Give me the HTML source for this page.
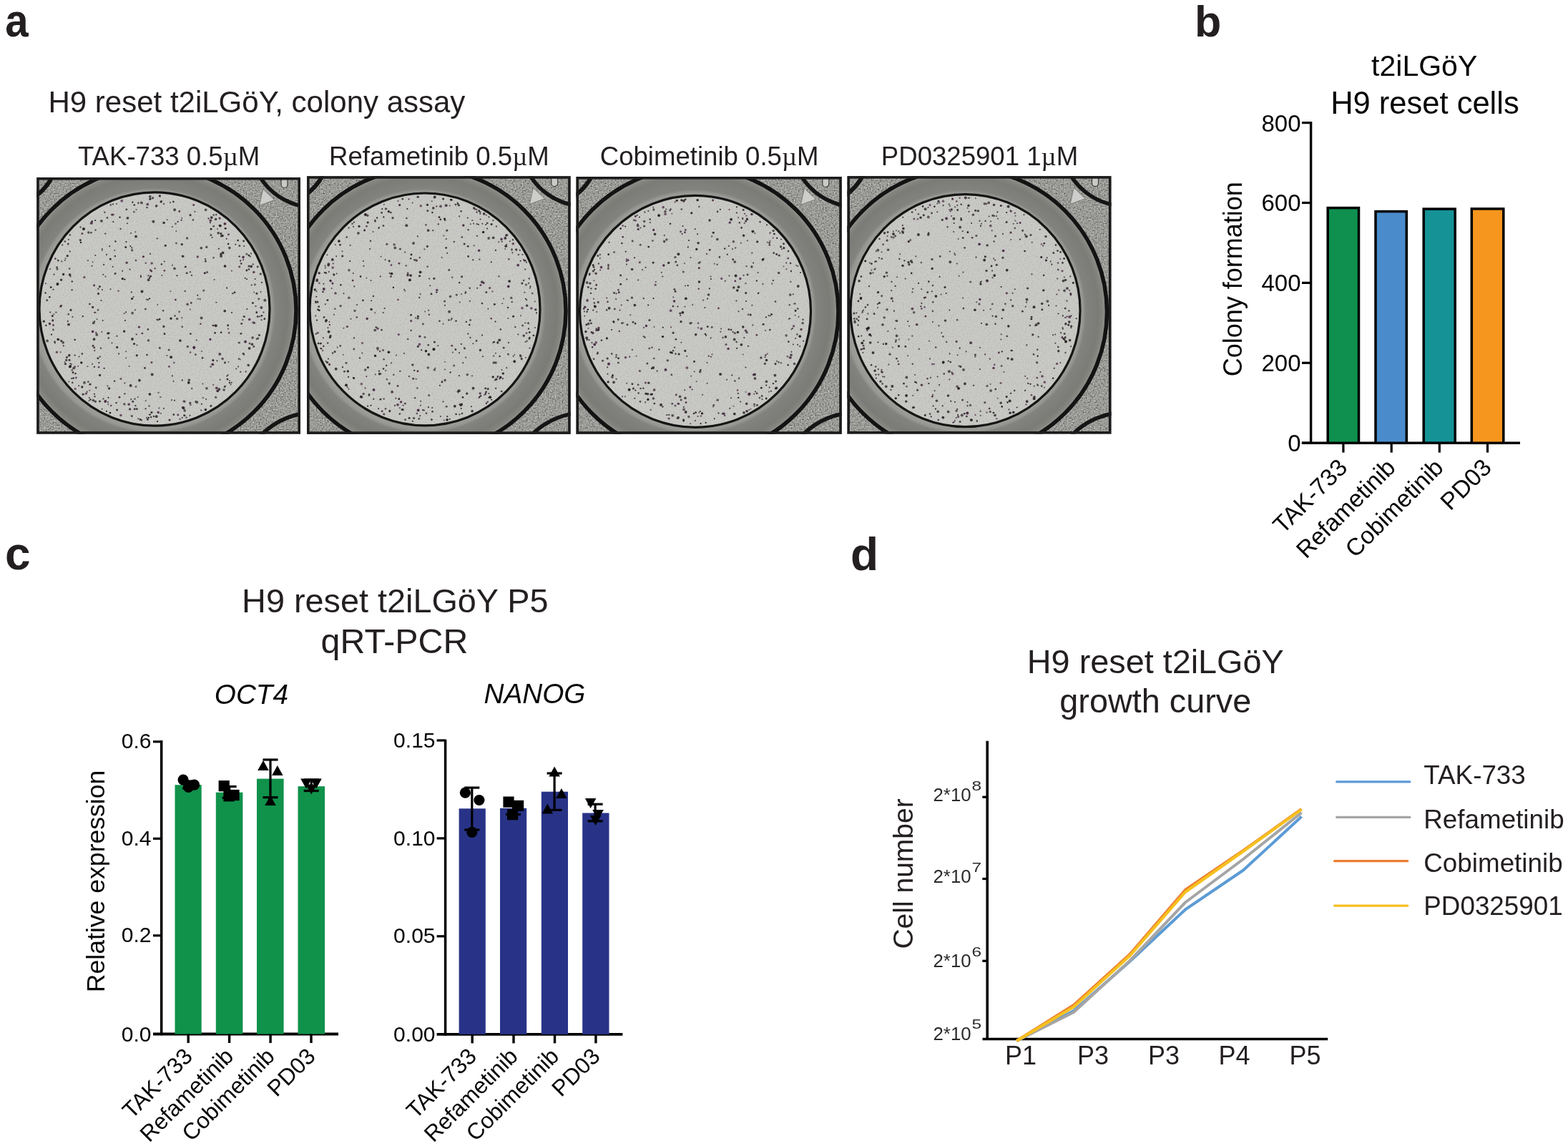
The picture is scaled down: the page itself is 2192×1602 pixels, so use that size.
<!DOCTYPE html>
<html><head><meta charset="utf-8"><title>Figure</title>
<style>
html,body{margin:0;padding:0;background:#fff;width:2192px;height:1602px;overflow:hidden}
svg{display:block}
text{font-family:"Liberation Sans", Arial, sans-serif}
</style></head><body>
<svg width="2192" height="1602" viewBox="0 0 2192 1602">
<defs>
<filter id="grainD" x="0" y="0" width="100%" height="100%" color-interpolation-filters="sRGB">
<feTurbulence type="fractalNoise" baseFrequency="0.5" numOctaves="2" seed="3"/>
<feColorMatrix type="matrix" values="0 0 0 0 0.25  0 0 0 0 0.25  0 0 0 0 0.24  2.1 0 0 0 -0.98"/>
</filter>
<filter id="grainL" x="0" y="0" width="100%" height="100%" color-interpolation-filters="sRGB">
<feTurbulence type="fractalNoise" baseFrequency="0.5" numOctaves="2" seed="11"/>
<feColorMatrix type="matrix" values="0 0 0 0 0.85  0 0 0 0 0.85  0 0 0 0 0.84  -2.1 0 0 0 1.12"/>
</filter>
<filter id="soft" x="-5%" y="-5%" width="110%" height="110%"><feGaussianBlur stdDeviation="0.45"/></filter>
<radialGradient id="ringg0" gradientUnits="userSpaceOnUse" cx="214.0" cy="434.0" r="200.0">
<stop offset="0.8105" stop-color="#9c9d98"/>
<stop offset="0.8355" stop-color="#979893"/>
<stop offset="0.8555" stop-color="#82837e"/>
<stop offset="0.9400" stop-color="#7b7c77"/>
<stop offset="0.9700" stop-color="#84857f"/>
<stop offset="0.9825" stop-color="#8d8e89"/>
<stop offset="1" stop-color="#8d8e89"/>
</radialGradient>
<clipPath id="clipw0"><rect x="51.2" y="248.0" width="368.8" height="358.7"/></clipPath>
<clipPath id="clipd0"><ellipse cx="216.0" cy="432.0" rx="161.0" ry="163.2"/></clipPath>
<radialGradient id="ringg1" gradientUnits="userSpaceOnUse" cx="592.0" cy="434.4" r="199.0">
<stop offset="0.8126" stop-color="#9c9d98"/>
<stop offset="0.8377" stop-color="#979893"/>
<stop offset="0.8578" stop-color="#82837e"/>
<stop offset="0.9397" stop-color="#7b7c77"/>
<stop offset="0.9698" stop-color="#84857f"/>
<stop offset="0.9824" stop-color="#8d8e89"/>
<stop offset="1" stop-color="#8d8e89"/>
</radialGradient>
<clipPath id="clipw1"><rect x="429.0" y="246.2" width="368.7" height="360.7"/></clipPath>
<clipPath id="clipd1"><ellipse cx="594.0" cy="432.4" rx="161.0" ry="162.4"/></clipPath>
<radialGradient id="ringg2" gradientUnits="userSpaceOnUse" cx="970.5" cy="435.8" r="201.5">
<stop offset="0.8027" stop-color="#9c9d98"/>
<stop offset="0.8275" stop-color="#979893"/>
<stop offset="0.8474" stop-color="#82837e"/>
<stop offset="0.9404" stop-color="#7b7c77"/>
<stop offset="0.9702" stop-color="#84857f"/>
<stop offset="0.9826" stop-color="#8d8e89"/>
<stop offset="1" stop-color="#8d8e89"/>
</radialGradient>
<clipPath id="clipw2"><rect x="805.4" y="247.0" width="371.4" height="359.8"/></clipPath>
<clipPath id="clipd2"><ellipse cx="972.0" cy="435.3" rx="161.5" ry="162.0"/></clipPath>
<radialGradient id="ringg3" gradientUnits="userSpaceOnUse" cx="1347.5" cy="436.0" r="200.0">
<stop offset="0.8075" stop-color="#9c9d98"/>
<stop offset="0.8325" stop-color="#979893"/>
<stop offset="0.8525" stop-color="#82837e"/>
<stop offset="0.9400" stop-color="#7b7c77"/>
<stop offset="0.9700" stop-color="#84857f"/>
<stop offset="0.9825" stop-color="#8d8e89"/>
<stop offset="1" stop-color="#8d8e89"/>
</radialGradient>
<clipPath id="clipw3"><rect x="1184.4" y="246.1" width="369.1" height="360.5"/></clipPath>
<clipPath id="clipd3"><ellipse cx="1349.5" cy="434.2" rx="160.5" ry="162.5"/></clipPath>
</defs>
<rect width="2192" height="1602" fill="#fff"/>
<g clip-path="url(#clipw0)">
<rect x="51.2" y="248.0" width="368.8" height="358.7" fill="#9a9b96"/>
<rect x="51.2" y="248.0" width="368.8" height="358.7" filter="url(#grainD)"/>
<rect x="51.2" y="248.0" width="368.8" height="358.7" filter="url(#grainL)"/>
<circle cx="440.0" cy="200.0" r="90" fill="none" stroke="#151515" stroke-width="5.5"/>
<circle cx="440.0" cy="681.7" r="105" fill="none" stroke="#151515" stroke-width="5.5"/>
<circle cx="6.2" cy="213.0" r="75" fill="none" stroke="#151515" stroke-width="6"/>
<circle cx="-10.8" cy="648.7" r="72" fill="none" stroke="#151515" stroke-width="6"/>
<polygon points="367.7,264.3 383.7,279.6 362.6,287.3" fill="#cdcecb" stroke="#6c6d6a" stroke-width="0.8"/>
<path d="M393.0,251.0 v7 a4.5,4.5 0 0 0 9,0 v-7" fill="#c9cac6" stroke="#3a3a3a" stroke-width="1.2"/>
<circle cx="214.0" cy="434.0" r="200.0" fill="url(#ringg0)"/>
<circle cx="214.0" cy="434.0" r="200.0" fill="none" stroke="#121312" stroke-width="5.5"/>
<ellipse cx="216.0" cy="432.0" rx="161.0" ry="163.2" fill="#c9c9c6"/>
<g clip-path="url(#clipd0)"><rect x="55.0" y="268.8" width="322.0" height="326.4" filter="url(#grainL)" opacity="0.25"/><rect x="55.0" y="268.8" width="322.0" height="326.4" filter="url(#grainD)" opacity="0.15"/></g>
<g filter="url(#soft)"><circle cx="66.1" cy="476.4" r="1.88" fill="#221e20" fill-opacity="0.70"/><circle cx="231.3" cy="343.2" r="1.54" fill="#2a2527" fill-opacity="0.94"/><circle cx="225.0" cy="282.3" r="1.42" fill="#312b2d" fill-opacity="0.97"/><circle cx="250.6" cy="435.9" r="1.36" fill="#4a2a42" fill-opacity="0.71"/><circle cx="84.5" cy="428.5" r="1.47" fill="#4a2a42" fill-opacity="0.83"/><circle cx="297.2" cy="509.3" r="1.91" fill="#4a2a42" fill-opacity="0.93"/><circle cx="99.9" cy="509.2" r="1.04" fill="#312b2d" fill-opacity="0.72"/><circle cx="188.5" cy="557.7" r="1.21" fill="#2a2527" fill-opacity="0.73"/><circle cx="69.3" cy="415.3" r="1.25" fill="#221e20" fill-opacity="0.95"/><circle cx="142.9" cy="405.0" r="1.00" fill="#262022" fill-opacity="0.89"/><circle cx="88.2" cy="478.9" r="1.78" fill="#2a2527" fill-opacity="0.76"/><circle cx="288.8" cy="345.3" r="1.62" fill="#221e20" fill-opacity="0.76"/><circle cx="240.9" cy="317.1" r="1.08" fill="#2a2527" fill-opacity="0.72"/><circle cx="324.0" cy="437.1" r="1.00" fill="#221e20" fill-opacity="0.93"/><circle cx="206.7" cy="419.0" r="1.14" fill="#221e20" fill-opacity="0.87"/><circle cx="136.9" cy="500.9" r="1.43" fill="#221e20" fill-opacity="0.88"/><circle cx="215.0" cy="581.9" r="1.25" fill="#3a2a36" fill-opacity="0.93"/><circle cx="238.4" cy="407.2" r="1.00" fill="#2a2527" fill-opacity="0.70"/><circle cx="332.6" cy="336.1" r="1.42" fill="#262022" fill-opacity="0.90"/><circle cx="131.7" cy="486.0" r="1.46" fill="#3a2a36" fill-opacity="0.86"/><circle cx="182.6" cy="539.0" r="1.91" fill="#262022" fill-opacity="0.85"/><circle cx="295.8" cy="304.1" r="1.84" fill="#2a2527" fill-opacity="0.91"/><circle cx="132.1" cy="449.2" r="1.02" fill="#221e20" fill-opacity="0.96"/><circle cx="244.5" cy="441.5" r="1.20" fill="#262022" fill-opacity="0.82"/><circle cx="315.2" cy="319.2" r="1.51" fill="#221e20" fill-opacity="0.90"/><circle cx="184.6" cy="417.5" r="1.62" fill="#2a2527" fill-opacity="0.99"/><circle cx="355.1" cy="408.5" r="1.00" fill="#4a2a42" fill-opacity="0.76"/><circle cx="262.3" cy="484.5" r="1.68" fill="#2d2729" fill-opacity="0.74"/><circle cx="354.8" cy="484.5" r="1.46" fill="#312b2d" fill-opacity="0.82"/><circle cx="139.7" cy="498.8" r="1.19" fill="#2d2729" fill-opacity="0.80"/><circle cx="288.9" cy="542.8" r="1.87" fill="#312b2d" fill-opacity="0.74"/><circle cx="354.8" cy="380.4" r="1.68" fill="#4a2a42" fill-opacity="0.89"/><circle cx="90.8" cy="363.8" r="1.05" fill="#2a2527" fill-opacity="0.83"/><circle cx="243.3" cy="507.0" r="1.27" fill="#3a2a36" fill-opacity="0.72"/><circle cx="94.3" cy="357.7" r="1.67" fill="#221e20" fill-opacity="0.85"/><circle cx="261.6" cy="333.0" r="1.63" fill="#2d2729" fill-opacity="0.77"/><circle cx="295.0" cy="320.2" r="1.36" fill="#221e20" fill-opacity="1.00"/><circle cx="276.8" cy="417.8" r="1.07" fill="#3a2a36" fill-opacity="0.88"/><circle cx="121.7" cy="547.8" r="1.21" fill="#312b2d" fill-opacity="0.70"/><circle cx="335.8" cy="502.4" r="1.02" fill="#2a2527" fill-opacity="0.70"/><circle cx="342.7" cy="388.9" r="1.14" fill="#262022" fill-opacity="0.77"/><circle cx="80.1" cy="397.9" r="1.32" fill="#2d2729" fill-opacity="0.91"/><circle cx="182.3" cy="344.1" r="1.04" fill="#221e20" fill-opacity="0.86"/><circle cx="206.6" cy="460.5" r="1.01" fill="#221e20" fill-opacity="0.93"/><circle cx="176.8" cy="292.8" r="1.35" fill="#2a2527" fill-opacity="0.84"/><circle cx="160.1" cy="532.8" r="1.28" fill="#2d2729" fill-opacity="0.87"/><circle cx="112.3" cy="335.7" r="1.45" fill="#312b2d" fill-opacity="0.98"/><circle cx="161.1" cy="382.4" r="1.60" fill="#2a2527" fill-opacity="0.75"/><circle cx="142.7" cy="571.7" r="1.02" fill="#262022" fill-opacity="0.85"/><circle cx="242.9" cy="579.6" r="1.33" fill="#262022" fill-opacity="0.93"/><circle cx="74.5" cy="454.5" r="1.36" fill="#4a2a42" fill-opacity="1.00"/><circle cx="109.0" cy="511.8" r="1.01" fill="#312b2d" fill-opacity="0.75"/><circle cx="311.4" cy="353.4" r="1.97" fill="#2a2527" fill-opacity="0.82"/><circle cx="194.9" cy="531.8" r="1.98" fill="#2a2527" fill-opacity="0.86"/><circle cx="334.7" cy="372.9" r="1.49" fill="#4a2a42" fill-opacity="0.86"/><circle cx="105.7" cy="522.0" r="1.06" fill="#2a2527" fill-opacity="0.98"/><circle cx="129.1" cy="508.8" r="1.16" fill="#3a2a36" fill-opacity="0.71"/><circle cx="125.8" cy="537.4" r="1.47" fill="#4a2a42" fill-opacity="0.80"/><circle cx="147.3" cy="561.0" r="1.99" fill="#4a2a42" fill-opacity="0.99"/><circle cx="307.9" cy="315.6" r="1.84" fill="#221e20" fill-opacity="0.92"/><circle cx="362.4" cy="468.5" r="1.60" fill="#2d2729" fill-opacity="0.83"/><circle cx="185.3" cy="282.7" r="1.21" fill="#262022" fill-opacity="0.85"/><circle cx="287.4" cy="365.2" r="1.43" fill="#221e20" fill-opacity="0.78"/><circle cx="104.4" cy="515.2" r="1.00" fill="#262022" fill-opacity="0.71"/><circle cx="254.3" cy="304.7" r="1.00" fill="#4a2a42" fill-opacity="0.85"/><circle cx="141.9" cy="308.9" r="1.91" fill="#221e20" fill-opacity="0.73"/><circle cx="97.7" cy="384.5" r="1.59" fill="#2d2729" fill-opacity="0.70"/><circle cx="348.7" cy="446.5" r="1.86" fill="#4a2a42" fill-opacity="0.86"/><circle cx="114.8" cy="540.9" r="1.56" fill="#2d2729" fill-opacity="0.97"/><circle cx="168.9" cy="580.4" r="1.77" fill="#4a2a42" fill-opacity="0.75"/><circle cx="337.2" cy="368.4" r="1.26" fill="#2a2527" fill-opacity="0.90"/><circle cx="365.6" cy="447.3" r="1.01" fill="#2d2729" fill-opacity="0.94"/><circle cx="329.3" cy="341.8" r="1.03" fill="#312b2d" fill-opacity="0.94"/><circle cx="200.4" cy="358.8" r="1.51" fill="#4a2a42" fill-opacity="0.99"/><circle cx="239.1" cy="499.2" r="1.96" fill="#2d2729" fill-opacity="0.94"/><circle cx="223.1" cy="446.3" r="1.26" fill="#262022" fill-opacity="0.98"/><circle cx="161.4" cy="337.4" r="1.20" fill="#221e20" fill-opacity="0.93"/><circle cx="273.4" cy="561.3" r="1.13" fill="#221e20" fill-opacity="0.87"/><circle cx="167.5" cy="303.8" r="1.24" fill="#221e20" fill-opacity="0.92"/><circle cx="258.2" cy="561.4" r="1.36" fill="#312b2d" fill-opacity="0.70"/><circle cx="336.4" cy="364.1" r="1.00" fill="#3a2a36" fill-opacity="0.79"/><circle cx="88.6" cy="383.5" r="1.63" fill="#2d2729" fill-opacity="0.98"/><circle cx="306.3" cy="544.2" r="1.97" fill="#2d2729" fill-opacity="0.78"/><circle cx="344.9" cy="377.9" r="1.48" fill="#2a2527" fill-opacity="0.92"/><circle cx="257.1" cy="561.0" r="1.74" fill="#4a2a42" fill-opacity="0.72"/><circle cx="216.6" cy="375.3" r="1.16" fill="#4a2a42" fill-opacity="0.98"/><circle cx="211.7" cy="379.1" r="1.47" fill="#4a2a42" fill-opacity="0.94"/><circle cx="303.5" cy="504.4" r="1.04" fill="#2a2527" fill-opacity="0.84"/><circle cx="238.0" cy="283.3" r="1.01" fill="#2a2527" fill-opacity="0.87"/><circle cx="224.3" cy="555.2" r="1.11" fill="#4a2a42" fill-opacity="0.78"/><circle cx="113.0" cy="338.9" r="1.22" fill="#262022" fill-opacity="0.97"/><circle cx="80.9" cy="363.8" r="1.06" fill="#2a2527" fill-opacity="0.90"/><circle cx="258.7" cy="406.9" r="1.24" fill="#262022" fill-opacity="0.71"/><circle cx="328.0" cy="408.8" r="1.42" fill="#2a2527" fill-opacity="0.93"/><circle cx="261.2" cy="381.8" r="1.54" fill="#2a2527" fill-opacity="0.83"/><circle cx="242.4" cy="282.0" r="1.23" fill="#262022" fill-opacity="1.00"/><circle cx="206.3" cy="285.6" r="1.92" fill="#4a2a42" fill-opacity="0.80"/><circle cx="318.9" cy="459.6" r="1.07" fill="#4a2a42" fill-opacity="0.82"/><circle cx="314.4" cy="312.8" r="1.90" fill="#4a2a42" fill-opacity="0.97"/><circle cx="272.4" cy="295.8" r="1.13" fill="#312b2d" fill-opacity="0.75"/><circle cx="128.5" cy="371.8" r="1.00" fill="#312b2d" fill-opacity="0.90"/><circle cx="178.0" cy="312.3" r="1.00" fill="#2d2729" fill-opacity="0.85"/><circle cx="309.1" cy="358.0" r="1.96" fill="#262022" fill-opacity="0.79"/><circle cx="132.3" cy="490.1" r="1.14" fill="#221e20" fill-opacity="0.76"/><circle cx="319.5" cy="506.0" r="1.01" fill="#2a2527" fill-opacity="0.71"/><circle cx="157.9" cy="285.4" r="1.22" fill="#2a2527" fill-opacity="0.70"/><circle cx="106.4" cy="527.9" r="1.24" fill="#4a2a42" fill-opacity="0.91"/><circle cx="343.0" cy="477.7" r="1.91" fill="#4a2a42" fill-opacity="0.97"/><circle cx="147.3" cy="326.7" r="1.10" fill="#2a2527" fill-opacity="0.88"/><circle cx="194.4" cy="457.2" r="1.60" fill="#4a2a42" fill-opacity="0.87"/><circle cx="97.9" cy="512.4" r="1.98" fill="#2a2527" fill-opacity="0.99"/><circle cx="364.3" cy="382.9" r="1.58" fill="#312b2d" fill-opacity="0.82"/><circle cx="113.8" cy="507.0" r="1.66" fill="#262022" fill-opacity="0.98"/><circle cx="336.0" cy="365.1" r="1.04" fill="#4a2a42" fill-opacity="0.73"/><circle cx="191.3" cy="496.8" r="1.60" fill="#262022" fill-opacity="0.90"/><circle cx="225.5" cy="281.4" r="1.37" fill="#2a2527" fill-opacity="0.80"/><circle cx="281.3" cy="346.7" r="1.80" fill="#312b2d" fill-opacity="0.83"/><circle cx="334.7" cy="479.1" r="1.33" fill="#2d2729" fill-opacity="0.73"/><circle cx="124.5" cy="560.2" r="1.07" fill="#2d2729" fill-opacity="0.72"/><circle cx="193.3" cy="585.3" r="1.10" fill="#3a2a36" fill-opacity="0.82"/><circle cx="129.6" cy="429.4" r="1.60" fill="#3a2a36" fill-opacity="0.94"/><circle cx="294.6" cy="512.6" r="1.19" fill="#221e20" fill-opacity="0.81"/><circle cx="229.1" cy="311.4" r="1.70" fill="#262022" fill-opacity="0.95"/><circle cx="358.8" cy="436.8" r="1.43" fill="#2a2527" fill-opacity="0.97"/><circle cx="357.5" cy="428.1" r="1.18" fill="#3a2a36" fill-opacity="0.82"/><circle cx="287.6" cy="293.4" r="1.83" fill="#2a2527" fill-opacity="0.75"/><circle cx="297.8" cy="455.0" r="1.23" fill="#3a2a36" fill-opacity="0.91"/><circle cx="93.2" cy="499.9" r="1.00" fill="#2a2527" fill-opacity="0.94"/><circle cx="279.7" cy="418.1" r="1.04" fill="#3a2a36" fill-opacity="0.93"/><circle cx="296.6" cy="331.9" r="1.00" fill="#2a2527" fill-opacity="0.90"/><circle cx="336.5" cy="466.5" r="1.36" fill="#221e20" fill-opacity="0.73"/><circle cx="124.8" cy="556.1" r="1.09" fill="#4a2a42" fill-opacity="0.80"/><circle cx="340.6" cy="336.9" r="1.38" fill="#221e20" fill-opacity="0.87"/><circle cx="305.2" cy="325.7" r="1.72" fill="#312b2d" fill-opacity="0.86"/><circle cx="76.9" cy="479.6" r="1.00" fill="#2d2729" fill-opacity="0.88"/><circle cx="244.0" cy="375.3" r="1.85" fill="#312b2d" fill-opacity="0.79"/><circle cx="154.8" cy="286.4" r="1.20" fill="#2a2527" fill-opacity="0.82"/><circle cx="307.2" cy="495.0" r="1.96" fill="#3a2a36" fill-opacity="0.82"/><circle cx="297.9" cy="503.7" r="1.59" fill="#3a2a36" fill-opacity="0.98"/><circle cx="78.4" cy="436.6" r="1.22" fill="#312b2d" fill-opacity="0.70"/><circle cx="266.0" cy="300.7" r="1.59" fill="#3a2a36" fill-opacity="0.93"/><circle cx="126.4" cy="558.4" r="1.25" fill="#262022" fill-opacity="0.91"/><circle cx="269.9" cy="307.4" r="1.28" fill="#3a2a36" fill-opacity="0.79"/><circle cx="230.0" cy="466.8" r="1.46" fill="#221e20" fill-opacity="0.86"/><circle cx="190.0" cy="330.6" r="1.91" fill="#2d2729" fill-opacity="0.92"/><circle cx="298.2" cy="538.0" r="1.15" fill="#4a2a42" fill-opacity="0.70"/><circle cx="334.1" cy="358.5" r="1.00" fill="#2d2729" fill-opacity="0.73"/><circle cx="181.6" cy="572.0" r="1.64" fill="#2d2729" fill-opacity="0.88"/><circle cx="246.3" cy="323.1" r="1.00" fill="#312b2d" fill-opacity="0.72"/><circle cx="180.2" cy="565.2" r="1.76" fill="#4a2a42" fill-opacity="0.87"/><circle cx="85.8" cy="476.6" r="1.66" fill="#2a2527" fill-opacity="0.84"/><circle cx="361.8" cy="417.9" r="1.47" fill="#2d2729" fill-opacity="0.74"/><circle cx="333.9" cy="501.7" r="1.10" fill="#2d2729" fill-opacity="0.89"/><circle cx="254.8" cy="583.9" r="1.03" fill="#262022" fill-opacity="0.75"/><circle cx="196.3" cy="586.2" r="1.01" fill="#4a2a42" fill-opacity="0.79"/><circle cx="122.4" cy="512.2" r="1.02" fill="#312b2d" fill-opacity="0.71"/><circle cx="266.0" cy="380.2" r="1.17" fill="#3a2a36" fill-opacity="0.73"/><circle cx="209.7" cy="274.8" r="1.91" fill="#2a2527" fill-opacity="0.75"/><circle cx="349.9" cy="358.5" r="1.01" fill="#262022" fill-opacity="0.82"/><circle cx="80.0" cy="376.4" r="1.42" fill="#3a2a36" fill-opacity="0.79"/><circle cx="185.7" cy="561.3" r="1.62" fill="#312b2d" fill-opacity="0.81"/><circle cx="281.9" cy="564.8" r="1.00" fill="#2a2527" fill-opacity="0.98"/><circle cx="244.0" cy="559.8" r="1.02" fill="#221e20" fill-opacity="0.89"/><circle cx="102.0" cy="520.7" r="1.47" fill="#2a2527" fill-opacity="0.88"/><circle cx="150.9" cy="562.1" r="1.00" fill="#312b2d" fill-opacity="0.88"/><circle cx="229.0" cy="285.1" r="1.08" fill="#4a2a42" fill-opacity="0.92"/><circle cx="157.7" cy="372.9" r="1.08" fill="#3a2a36" fill-opacity="0.83"/><circle cx="152.6" cy="543.0" r="1.71" fill="#262022" fill-opacity="0.85"/><circle cx="345.3" cy="432.1" r="1.00" fill="#221e20" fill-opacity="0.86"/><circle cx="145.6" cy="514.8" r="1.17" fill="#3a2a36" fill-opacity="0.93"/><circle cx="84.7" cy="492.3" r="1.02" fill="#3a2a36" fill-opacity="0.85"/><circle cx="92.7" cy="503.4" r="1.57" fill="#2a2527" fill-opacity="0.82"/><circle cx="163.5" cy="469.8" r="1.06" fill="#221e20" fill-opacity="0.97"/><circle cx="225.9" cy="369.4" r="1.34" fill="#2d2729" fill-opacity="0.79"/><circle cx="80.5" cy="397.0" r="1.97" fill="#262022" fill-opacity="0.91"/><circle cx="362.9" cy="442.5" r="1.09" fill="#2a2527" fill-opacity="0.84"/><circle cx="266.1" cy="492.4" r="1.23" fill="#4a2a42" fill-opacity="0.81"/><circle cx="306.7" cy="315.1" r="1.18" fill="#221e20" fill-opacity="0.87"/><circle cx="353.7" cy="369.4" r="1.12" fill="#221e20" fill-opacity="0.82"/><circle cx="218.4" cy="288.5" r="1.29" fill="#2d2729" fill-opacity="0.97"/><circle cx="180.6" cy="511.9" r="1.00" fill="#262022" fill-opacity="0.73"/><circle cx="220.0" cy="589.2" r="1.08" fill="#312b2d" fill-opacity="0.99"/><circle cx="104.7" cy="474.9" r="1.21" fill="#262022" fill-opacity="0.99"/><circle cx="131.9" cy="512.8" r="1.15" fill="#221e20" fill-opacity="0.94"/><circle cx="307.1" cy="305.1" r="1.69" fill="#4a2a42" fill-opacity="0.86"/><circle cx="114.9" cy="494.6" r="1.26" fill="#312b2d" fill-opacity="0.94"/><circle cx="142.7" cy="348.1" r="1.09" fill="#312b2d" fill-opacity="0.86"/><circle cx="79.4" cy="492.3" r="1.62" fill="#4a2a42" fill-opacity="0.82"/><circle cx="308.8" cy="355.3" r="1.76" fill="#312b2d" fill-opacity="0.88"/><circle cx="133.2" cy="308.0" r="1.12" fill="#221e20" fill-opacity="0.92"/><circle cx="174.4" cy="550.5" r="1.28" fill="#262022" fill-opacity="0.73"/><circle cx="209.1" cy="417.4" r="1.14" fill="#2a2527" fill-opacity="0.98"/><circle cx="142.9" cy="349.9" r="1.00" fill="#312b2d" fill-opacity="0.73"/><circle cx="176.3" cy="500.4" r="1.02" fill="#2d2729" fill-opacity="0.71"/><circle cx="97.6" cy="383.8" r="1.84" fill="#2a2527" fill-opacity="0.70"/><circle cx="309.5" cy="329.9" r="1.60" fill="#312b2d" fill-opacity="0.87"/><circle cx="79.6" cy="373.7" r="1.56" fill="#2a2527" fill-opacity="0.75"/><circle cx="318.7" cy="524.2" r="1.01" fill="#221e20" fill-opacity="0.78"/><circle cx="93.6" cy="499.2" r="1.48" fill="#312b2d" fill-opacity="0.70"/><circle cx="191.5" cy="482.5" r="1.00" fill="#262022" fill-opacity="0.77"/><circle cx="271.3" cy="485.6" r="1.93" fill="#4a2a42" fill-opacity="1.00"/><circle cx="325.4" cy="410.2" r="1.17" fill="#262022" fill-opacity="0.76"/><circle cx="283.9" cy="556.1" r="1.17" fill="#2d2729" fill-opacity="0.71"/><circle cx="251.9" cy="476.2" r="1.83" fill="#262022" fill-opacity="0.84"/><circle cx="166.1" cy="494.6" r="1.10" fill="#2d2729" fill-opacity="0.94"/><circle cx="123.3" cy="533.8" r="1.29" fill="#2a2527" fill-opacity="0.81"/><circle cx="236.4" cy="512.4" r="1.37" fill="#4a2a42" fill-opacity="0.86"/><circle cx="163.6" cy="573.0" r="1.52" fill="#2d2729" fill-opacity="0.86"/><circle cx="221.5" cy="548.9" r="1.17" fill="#312b2d" fill-opacity="0.70"/><circle cx="132.0" cy="436.7" r="1.00" fill="#4a2a42" fill-opacity="0.83"/><circle cx="258.2" cy="574.0" r="1.76" fill="#2d2729" fill-opacity="0.77"/><circle cx="308.8" cy="326.6" r="1.60" fill="#2d2729" fill-opacity="0.87"/><circle cx="211.2" cy="583.1" r="1.17" fill="#262022" fill-opacity="0.97"/><circle cx="264.3" cy="531.3" r="1.73" fill="#2d2729" fill-opacity="0.77"/><circle cx="268.2" cy="543.1" r="1.07" fill="#2d2729" fill-opacity="0.97"/><circle cx="314.5" cy="507.0" r="1.40" fill="#312b2d" fill-opacity="0.96"/><circle cx="240.0" cy="559.2" r="1.09" fill="#312b2d" fill-opacity="0.73"/><circle cx="97.9" cy="328.5" r="1.16" fill="#312b2d" fill-opacity="0.92"/><circle cx="369.8" cy="445.7" r="1.49" fill="#221e20" fill-opacity="0.83"/><circle cx="198.9" cy="466.0" r="1.34" fill="#4a2a42" fill-opacity="0.97"/><circle cx="240.9" cy="525.5" r="1.14" fill="#2a2527" fill-opacity="0.80"/><circle cx="250.8" cy="295.5" r="1.39" fill="#4a2a42" fill-opacity="0.92"/><circle cx="97.2" cy="375.6" r="1.45" fill="#312b2d" fill-opacity="0.70"/><circle cx="287.0" cy="362.3" r="1.10" fill="#262022" fill-opacity="0.95"/><circle cx="186.5" cy="415.1" r="1.05" fill="#262022" fill-opacity="0.74"/><circle cx="151.4" cy="555.7" r="1.03" fill="#221e20" fill-opacity="0.98"/><circle cx="135.7" cy="446.3" r="1.02" fill="#3a2a36" fill-opacity="0.77"/><circle cx="203.6" cy="571.4" r="1.16" fill="#262022" fill-opacity="0.82"/><circle cx="320.1" cy="465.2" r="1.25" fill="#4a2a42" fill-opacity="0.95"/><circle cx="266.3" cy="466.7" r="1.33" fill="#2a2527" fill-opacity="0.88"/><circle cx="257.8" cy="580.8" r="1.57" fill="#221e20" fill-opacity="0.89"/><circle cx="134.3" cy="465.1" r="1.17" fill="#4a2a42" fill-opacity="0.97"/><circle cx="313.1" cy="545.0" r="1.79" fill="#221e20" fill-opacity="0.70"/><circle cx="87.2" cy="342.5" r="1.01" fill="#221e20" fill-opacity="0.93"/><circle cx="168.5" cy="319.9" r="1.04" fill="#312b2d" fill-opacity="0.99"/><circle cx="117.0" cy="320.1" r="1.98" fill="#262022" fill-opacity="0.97"/><circle cx="340.2" cy="494.3" r="1.64" fill="#2a2527" fill-opacity="0.77"/><circle cx="123.8" cy="325.1" r="1.74" fill="#2d2729" fill-opacity="0.76"/><circle cx="205.3" cy="583.9" r="1.14" fill="#312b2d" fill-opacity="0.81"/><circle cx="210.0" cy="354.8" r="1.15" fill="#2d2729" fill-opacity="0.83"/><circle cx="65.8" cy="419.8" r="1.51" fill="#312b2d" fill-opacity="0.78"/><circle cx="283.1" cy="500.3" r="1.35" fill="#3a2a36" fill-opacity="0.97"/><circle cx="80.9" cy="474.4" r="1.53" fill="#262022" fill-opacity="0.96"/><circle cx="70.3" cy="436.4" r="1.00" fill="#221e20" fill-opacity="0.88"/><circle cx="188.9" cy="433.2" r="1.01" fill="#3a2a36" fill-opacity="0.90"/><circle cx="284.7" cy="406.2" r="1.33" fill="#221e20" fill-opacity="0.73"/><circle cx="360.2" cy="372.8" r="1.42" fill="#2a2527" fill-opacity="0.84"/><circle cx="348.1" cy="372.1" r="1.66" fill="#221e20" fill-opacity="0.77"/><circle cx="192.8" cy="555.3" r="1.02" fill="#3a2a36" fill-opacity="0.78"/><circle cx="148.9" cy="574.9" r="1.08" fill="#2d2729" fill-opacity="0.97"/><circle cx="129.6" cy="463.5" r="1.78" fill="#4a2a42" fill-opacity="0.98"/><circle cx="163.7" cy="485.5" r="1.69" fill="#2d2729" fill-opacity="0.89"/><circle cx="248.6" cy="309.9" r="1.07" fill="#262022" fill-opacity="0.86"/><circle cx="105.0" cy="522.5" r="1.01" fill="#221e20" fill-opacity="0.71"/><circle cx="128.7" cy="309.7" r="1.42" fill="#312b2d" fill-opacity="0.96"/><circle cx="143.7" cy="448.0" r="1.01" fill="#3a2a36" fill-opacity="0.97"/><circle cx="170.3" cy="280.8" r="1.97" fill="#4a2a42" fill-opacity="0.71"/><circle cx="152.4" cy="465.8" r="1.39" fill="#3a2a36" fill-opacity="0.78"/><circle cx="280.4" cy="452.7" r="1.27" fill="#4a2a42" fill-opacity="0.89"/><circle cx="85.6" cy="427.5" r="1.41" fill="#2d2729" fill-opacity="0.90"/><circle cx="293.9" cy="474.4" r="1.56" fill="#4a2a42" fill-opacity="0.99"/><circle cx="133.4" cy="356.9" r="1.00" fill="#4a2a42" fill-opacity="0.98"/><circle cx="314.6" cy="372.0" r="1.85" fill="#262022" fill-opacity="0.94"/><circle cx="130.1" cy="483.4" r="1.45" fill="#312b2d" fill-opacity="0.92"/><circle cx="256.6" cy="570.2" r="1.98" fill="#2a2527" fill-opacity="0.77"/><circle cx="237.0" cy="587.1" r="1.54" fill="#3a2a36" fill-opacity="0.89"/><circle cx="218.7" cy="582.2" r="1.87" fill="#2a2527" fill-opacity="0.87"/><circle cx="314.2" cy="434.7" r="1.80" fill="#262022" fill-opacity="0.91"/><circle cx="61.3" cy="449.2" r="1.63" fill="#312b2d" fill-opacity="0.93"/><circle cx="134.2" cy="542.0" r="1.45" fill="#312b2d" fill-opacity="0.80"/><circle cx="351.8" cy="398.5" r="1.12" fill="#262022" fill-opacity="0.79"/><circle cx="190.5" cy="293.1" r="1.09" fill="#312b2d" fill-opacity="0.70"/><circle cx="224.7" cy="577.8" r="1.04" fill="#312b2d" fill-opacity="0.78"/><circle cx="358.9" cy="410.3" r="1.56" fill="#2a2527" fill-opacity="0.87"/><circle cx="309.1" cy="464.7" r="1.23" fill="#221e20" fill-opacity="0.99"/><circle cx="229.9" cy="365.4" r="1.00" fill="#3a2a36" fill-opacity="0.90"/><circle cx="319.1" cy="341.0" r="1.20" fill="#262022" fill-opacity="0.98"/><circle cx="345.1" cy="390.2" r="1.00" fill="#312b2d" fill-opacity="0.91"/><circle cx="76.5" cy="477.8" r="1.22" fill="#2a2527" fill-opacity="1.00"/><circle cx="356.6" cy="390.0" r="1.00" fill="#221e20" fill-opacity="0.84"/><circle cx="320.9" cy="535.2" r="1.16" fill="#221e20" fill-opacity="0.92"/><circle cx="154.5" cy="404.2" r="1.01" fill="#2a2527" fill-opacity="0.89"/><circle cx="139.6" cy="524.5" r="1.66" fill="#2d2729" fill-opacity="0.94"/><circle cx="75.4" cy="439.2" r="1.01" fill="#4a2a42" fill-opacity="0.78"/><circle cx="127.8" cy="311.9" r="1.97" fill="#4a2a42" fill-opacity="0.90"/><circle cx="202.5" cy="514.4" r="1.48" fill="#312b2d" fill-opacity="0.90"/><circle cx="75.6" cy="383.7" r="1.09" fill="#221e20" fill-opacity="0.81"/><circle cx="259.3" cy="373.0" r="1.50" fill="#3a2a36" fill-opacity="0.94"/><circle cx="289.5" cy="380.5" r="1.51" fill="#221e20" fill-opacity="0.71"/><circle cx="262.1" cy="425.3" r="1.86" fill="#3a2a36" fill-opacity="0.73"/><circle cx="90.8" cy="337.4" r="1.25" fill="#2a2527" fill-opacity="0.82"/><circle cx="218.8" cy="287.3" r="1.39" fill="#3a2a36" fill-opacity="0.84"/><circle cx="209.4" cy="551.1" r="1.82" fill="#2a2527" fill-opacity="0.97"/><circle cx="98.5" cy="508.3" r="1.00" fill="#312b2d" fill-opacity="0.95"/><circle cx="176.1" cy="491.2" r="1.00" fill="#2a2527" fill-opacity="0.70"/><circle cx="275.2" cy="562.2" r="1.93" fill="#262022" fill-opacity="0.73"/><circle cx="220.6" cy="447.2" r="1.38" fill="#221e20" fill-opacity="0.70"/><circle cx="301.7" cy="455.3" r="1.93" fill="#221e20" fill-opacity="0.91"/><circle cx="137.1" cy="433.2" r="1.20" fill="#312b2d" fill-opacity="0.82"/><circle cx="196.0" cy="586.5" r="1.46" fill="#262022" fill-opacity="0.74"/><circle cx="85.6" cy="391.3" r="1.71" fill="#221e20" fill-opacity="0.80"/><circle cx="365.4" cy="430.0" r="1.95" fill="#3a2a36" fill-opacity="0.81"/><circle cx="135.3" cy="467.9" r="1.91" fill="#2a2527" fill-opacity="0.74"/><circle cx="203.7" cy="560.3" r="1.00" fill="#221e20" fill-opacity="0.73"/><circle cx="81.7" cy="364.5" r="1.00" fill="#221e20" fill-opacity="0.80"/><circle cx="276.3" cy="358.9" r="1.66" fill="#4a2a42" fill-opacity="0.85"/><circle cx="141.0" cy="486.8" r="1.23" fill="#2a2527" fill-opacity="0.76"/><circle cx="74.4" cy="460.9" r="1.29" fill="#3a2a36" fill-opacity="0.81"/><circle cx="162.3" cy="563.3" r="1.07" fill="#3a2a36" fill-opacity="0.97"/><circle cx="219.8" cy="333.3" r="1.14" fill="#312b2d" fill-opacity="0.90"/><circle cx="115.8" cy="442.2" r="1.10" fill="#262022" fill-opacity="0.99"/><circle cx="193.3" cy="283.8" r="1.24" fill="#3a2a36" fill-opacity="0.88"/><circle cx="153.9" cy="577.2" r="1.35" fill="#2d2729" fill-opacity="0.99"/><circle cx="347.9" cy="357.1" r="1.45" fill="#2a2527" fill-opacity="0.97"/><circle cx="271.2" cy="486.6" r="1.51" fill="#4a2a42" fill-opacity="0.91"/><circle cx="370.3" cy="419.7" r="1.99" fill="#2a2527" fill-opacity="0.75"/><circle cx="137.3" cy="403.8" r="1.22" fill="#3a2a36" fill-opacity="0.75"/><circle cx="110.6" cy="498.4" r="1.00" fill="#312b2d" fill-opacity="0.85"/><circle cx="191.3" cy="571.8" r="1.49" fill="#221e20" fill-opacity="0.81"/><circle cx="268.0" cy="384.9" r="1.09" fill="#2d2729" fill-opacity="0.88"/><circle cx="245.4" cy="419.1" r="1.43" fill="#4a2a42" fill-opacity="0.91"/><circle cx="266.4" cy="566.0" r="1.19" fill="#2a2527" fill-opacity="0.72"/><circle cx="147.6" cy="386.6" r="1.09" fill="#312b2d" fill-opacity="0.79"/><circle cx="263.8" cy="534.9" r="1.85" fill="#2d2729" fill-opacity="0.99"/><circle cx="158.4" cy="299.9" r="1.26" fill="#3a2a36" fill-opacity="0.88"/><circle cx="223.4" cy="273.9" r="1.58" fill="#3a2a36" fill-opacity="1.00"/><circle cx="247.6" cy="445.6" r="1.71" fill="#312b2d" fill-opacity="0.79"/><circle cx="254.3" cy="444.3" r="1.02" fill="#221e20" fill-opacity="0.76"/><circle cx="173.6" cy="463.2" r="1.60" fill="#2d2729" fill-opacity="0.99"/><circle cx="344.9" cy="355.2" r="1.34" fill="#2d2729" fill-opacity="0.75"/><circle cx="305.8" cy="347.7" r="1.24" fill="#312b2d" fill-opacity="0.74"/><circle cx="319.5" cy="327.7" r="1.52" fill="#4a2a42" fill-opacity="0.80"/><circle cx="222.4" cy="570.4" r="1.00" fill="#2d2729" fill-opacity="0.84"/><circle cx="151.8" cy="472.6" r="1.32" fill="#262022" fill-opacity="0.77"/><circle cx="368.4" cy="436.6" r="1.08" fill="#2d2729" fill-opacity="0.84"/><circle cx="131.5" cy="474.2" r="1.85" fill="#312b2d" fill-opacity="0.89"/><circle cx="314.6" cy="540.2" r="1.41" fill="#312b2d" fill-opacity="0.83"/><circle cx="160.9" cy="358.1" r="1.28" fill="#312b2d" fill-opacity="0.81"/><circle cx="254.3" cy="341.6" r="1.69" fill="#2d2729" fill-opacity="0.90"/><circle cx="153.2" cy="344.2" r="1.03" fill="#3a2a36" fill-opacity="0.99"/><circle cx="203.8" cy="367.7" r="1.28" fill="#3a2a36" fill-opacity="0.72"/><circle cx="281.6" cy="444.5" r="2.00" fill="#2d2729" fill-opacity="0.76"/><circle cx="102.6" cy="528.7" r="1.42" fill="#221e20" fill-opacity="0.82"/><circle cx="348.9" cy="480.1" r="1.30" fill="#2a2527" fill-opacity="0.79"/><circle cx="312.3" cy="353.3" r="1.03" fill="#2d2729" fill-opacity="0.90"/><circle cx="304.2" cy="546.5" r="1.85" fill="#3a2a36" fill-opacity="0.99"/><circle cx="189.4" cy="567.2" r="1.11" fill="#262022" fill-opacity="0.87"/><circle cx="313.7" cy="541.0" r="1.02" fill="#3a2a36" fill-opacity="0.87"/><circle cx="212.7" cy="523.6" r="1.99" fill="#2d2729" fill-opacity="0.85"/><circle cx="301.6" cy="306.5" r="1.82" fill="#2a2527" fill-opacity="0.80"/><circle cx="139.5" cy="561.1" r="1.47" fill="#221e20" fill-opacity="0.89"/><circle cx="270.7" cy="286.5" r="1.53" fill="#4a2a42" fill-opacity="0.86"/><circle cx="96.0" cy="453.6" r="1.97" fill="#2a2527" fill-opacity="0.86"/><circle cx="98.7" cy="386.4" r="1.01" fill="#3a2a36" fill-opacity="0.90"/><circle cx="127.4" cy="325.3" r="1.37" fill="#2d2729" fill-opacity="0.79"/><circle cx="355.9" cy="451.6" r="1.23" fill="#2a2527" fill-opacity="0.87"/><circle cx="283.4" cy="536.6" r="1.08" fill="#312b2d" fill-opacity="0.75"/><circle cx="322.6" cy="537.4" r="1.03" fill="#2d2729" fill-opacity="0.75"/><circle cx="316.7" cy="333.7" r="1.01" fill="#3a2a36" fill-opacity="0.94"/><circle cx="337.4" cy="466.3" r="1.14" fill="#312b2d" fill-opacity="0.75"/><circle cx="356.4" cy="397.9" r="1.28" fill="#262022" fill-opacity="0.75"/><circle cx="245.5" cy="312.7" r="1.24" fill="#3a2a36" fill-opacity="0.79"/><circle cx="255.5" cy="569.7" r="1.82" fill="#262022" fill-opacity="0.79"/><circle cx="282.0" cy="490.9" r="1.01" fill="#3a2a36" fill-opacity="0.76"/><circle cx="100.1" cy="529.1" r="1.10" fill="#2a2527" fill-opacity="0.82"/><circle cx="73.7" cy="447.9" r="1.53" fill="#3a2a36" fill-opacity="0.98"/><circle cx="294.3" cy="308.2" r="1.73" fill="#4a2a42" fill-opacity="0.91"/><circle cx="276.2" cy="412.8" r="1.19" fill="#262022" fill-opacity="0.71"/><circle cx="100.6" cy="405.2" r="1.32" fill="#312b2d" fill-opacity="0.74"/><circle cx="95.7" cy="439.3" r="1.18" fill="#2d2729" fill-opacity="0.88"/><circle cx="299.6" cy="391.0" r="1.00" fill="#312b2d" fill-opacity="0.87"/><circle cx="100.8" cy="393.6" r="1.23" fill="#2a2527" fill-opacity="0.84"/><circle cx="251.6" cy="585.9" r="1.18" fill="#4a2a42" fill-opacity="0.75"/><circle cx="183.3" cy="558.1" r="1.16" fill="#3a2a36" fill-opacity="0.83"/><circle cx="96.3" cy="533.6" r="1.01" fill="#2d2729" fill-opacity="0.79"/><circle cx="170.9" cy="390.0" r="1.08" fill="#221e20" fill-opacity="0.87"/><circle cx="104.5" cy="512.8" r="1.56" fill="#4a2a42" fill-opacity="0.80"/><circle cx="210.3" cy="377.6" r="1.28" fill="#312b2d" fill-opacity="0.92"/><circle cx="317.1" cy="402.6" r="1.16" fill="#221e20" fill-opacity="0.87"/><circle cx="126.2" cy="537.1" r="1.41" fill="#3a2a36" fill-opacity="0.79"/><circle cx="294.9" cy="567.5" r="1.48" fill="#262022" fill-opacity="0.87"/><circle cx="348.6" cy="486.9" r="1.90" fill="#312b2d" fill-opacity="0.91"/><circle cx="114.9" cy="326.4" r="1.50" fill="#4a2a42" fill-opacity="0.85"/><circle cx="154.3" cy="362.2" r="1.37" fill="#2a2527" fill-opacity="1.00"/><circle cx="205.5" cy="290.1" r="1.41" fill="#2a2527" fill-opacity="0.72"/><circle cx="64.3" cy="454.9" r="1.17" fill="#221e20" fill-opacity="0.91"/><circle cx="125.4" cy="545.8" r="1.00" fill="#3a2a36" fill-opacity="0.76"/><circle cx="323.7" cy="534.7" r="1.03" fill="#2d2729" fill-opacity="0.93"/><circle cx="281.2" cy="573.4" r="1.01" fill="#2d2729" fill-opacity="0.89"/><circle cx="187.6" cy="480.7" r="1.43" fill="#262022" fill-opacity="0.99"/><circle cx="347.2" cy="510.6" r="1.74" fill="#3a2a36" fill-opacity="0.91"/><circle cx="155.1" cy="567.0" r="1.19" fill="#4a2a42" fill-opacity="0.87"/><circle cx="220.3" cy="425.8" r="1.02" fill="#312b2d" fill-opacity="0.74"/><circle cx="183.1" cy="325.9" r="1.02" fill="#2d2729" fill-opacity="0.88"/><circle cx="246.4" cy="340.1" r="1.27" fill="#3a2a36" fill-opacity="0.87"/><circle cx="288.1" cy="558.0" r="1.12" fill="#3a2a36" fill-opacity="0.85"/><circle cx="340.6" cy="442.3" r="1.00" fill="#221e20" fill-opacity="0.77"/><circle cx="133.3" cy="436.9" r="1.21" fill="#3a2a36" fill-opacity="0.75"/><circle cx="151.0" cy="465.9" r="1.70" fill="#221e20" fill-opacity="0.92"/><circle cx="138.1" cy="513.2" r="1.22" fill="#4a2a42" fill-opacity="0.91"/><circle cx="133.6" cy="321.6" r="1.14" fill="#262022" fill-opacity="0.91"/><circle cx="74.5" cy="404.8" r="1.16" fill="#221e20" fill-opacity="0.76"/><circle cx="148.9" cy="356.0" r="1.02" fill="#2a2527" fill-opacity="0.99"/><circle cx="139.4" cy="400.7" r="1.49" fill="#2a2527" fill-opacity="0.92"/><circle cx="174.9" cy="448.0" r="1.04" fill="#262022" fill-opacity="0.99"/><circle cx="207.4" cy="385.4" r="1.10" fill="#2d2729" fill-opacity="0.83"/><circle cx="131.6" cy="399.0" r="1.48" fill="#4a2a42" fill-opacity="0.98"/><circle cx="318.7" cy="454.8" r="1.41" fill="#221e20" fill-opacity="0.97"/><circle cx="105.2" cy="543.5" r="1.56" fill="#4a2a42" fill-opacity="0.73"/><circle cx="122.9" cy="364.3" r="1.05" fill="#3a2a36" fill-opacity="0.88"/><circle cx="98.5" cy="511.5" r="1.53" fill="#221e20" fill-opacity="0.76"/><circle cx="72.0" cy="467.7" r="1.14" fill="#2a2527" fill-opacity="0.97"/><circle cx="181.6" cy="376.7" r="1.09" fill="#262022" fill-opacity="0.77"/><circle cx="321.2" cy="532.2" r="1.03" fill="#2d2729" fill-opacity="0.76"/><circle cx="229.0" cy="570.9" r="1.11" fill="#3a2a36" fill-opacity="0.81"/><circle cx="138.4" cy="507.1" r="1.10" fill="#2a2527" fill-opacity="0.98"/><circle cx="298.6" cy="300.5" r="1.23" fill="#262022" fill-opacity="0.76"/><circle cx="173.8" cy="564.8" r="1.58" fill="#3a2a36" fill-opacity="0.84"/><circle cx="341.2" cy="344.1" r="1.00" fill="#312b2d" fill-opacity="0.91"/><circle cx="254.7" cy="456.7" r="1.21" fill="#2a2527" fill-opacity="0.83"/><circle cx="133.3" cy="561.2" r="1.70" fill="#2d2729" fill-opacity="0.76"/><circle cx="185.0" cy="474.0" r="1.93" fill="#2a2527" fill-opacity="0.88"/><circle cx="99.0" cy="433.4" r="1.59" fill="#2a2527" fill-opacity="0.90"/><circle cx="174.4" cy="535.5" r="1.01" fill="#221e20" fill-opacity="0.84"/><circle cx="207.9" cy="583.9" r="1.09" fill="#221e20" fill-opacity="0.96"/><circle cx="229.9" cy="378.3" r="1.34" fill="#4a2a42" fill-opacity="0.88"/><circle cx="273.4" cy="495.7" r="1.33" fill="#3a2a36" fill-opacity="0.87"/><circle cx="364.5" cy="408.1" r="1.02" fill="#3a2a36" fill-opacity="0.85"/><circle cx="145.1" cy="370.0" r="1.14" fill="#3a2a36" fill-opacity="0.87"/><circle cx="146.3" cy="296.7" r="1.19" fill="#262022" fill-opacity="0.75"/><circle cx="339.3" cy="447.2" r="1.15" fill="#3a2a36" fill-opacity="0.80"/><circle cx="69.3" cy="452.3" r="1.39" fill="#2a2527" fill-opacity="0.96"/><circle cx="96.8" cy="496.8" r="1.80" fill="#312b2d" fill-opacity="0.94"/><circle cx="177.2" cy="367.3" r="1.79" fill="#3a2a36" fill-opacity="0.81"/><circle cx="95.2" cy="341.1" r="1.32" fill="#3a2a36" fill-opacity="0.93"/><circle cx="91.6" cy="361.2" r="1.01" fill="#3a2a36" fill-opacity="0.70"/><circle cx="150.4" cy="539.5" r="1.12" fill="#3a2a36" fill-opacity="0.84"/><circle cx="169.0" cy="529.5" r="1.57" fill="#4a2a42" fill-opacity="0.72"/><circle cx="360.2" cy="442.6" r="1.50" fill="#221e20" fill-opacity="0.75"/><circle cx="302.8" cy="542.4" r="1.91" fill="#4a2a42" fill-opacity="0.85"/><circle cx="173.6" cy="438.2" r="1.04" fill="#4a2a42" fill-opacity="0.89"/><circle cx="185.1" cy="437.7" r="1.89" fill="#2d2729" fill-opacity="0.70"/><circle cx="291.6" cy="305.5" r="1.25" fill="#312b2d" fill-opacity="0.76"/><circle cx="176.1" cy="436.4" r="1.04" fill="#2a2527" fill-opacity="0.89"/><circle cx="298.6" cy="360.2" r="1.24" fill="#262022" fill-opacity="0.71"/><circle cx="352.4" cy="481.3" r="1.80" fill="#2d2729" fill-opacity="0.89"/><circle cx="358.7" cy="473.8" r="1.13" fill="#2d2729" fill-opacity="0.90"/><circle cx="190.8" cy="467.4" r="1.17" fill="#3a2a36" fill-opacity="0.74"/><circle cx="131.9" cy="550.8" r="1.15" fill="#221e20" fill-opacity="0.79"/><circle cx="88.8" cy="483.4" r="1.04" fill="#3a2a36" fill-opacity="0.92"/><circle cx="209.0" cy="579.6" r="1.06" fill="#2d2729" fill-opacity="0.92"/><circle cx="100.8" cy="517.3" r="1.35" fill="#4a2a42" fill-opacity="0.70"/><circle cx="120.3" cy="550.2" r="1.67" fill="#4a2a42" fill-opacity="0.74"/><circle cx="97.0" cy="503.3" r="1.54" fill="#312b2d" fill-opacity="0.92"/><circle cx="241.0" cy="370.7" r="1.02" fill="#2a2527" fill-opacity="0.78"/><circle cx="343.7" cy="519.4" r="1.12" fill="#3a2a36" fill-opacity="0.89"/><circle cx="171.1" cy="378.8" r="1.07" fill="#262022" fill-opacity="0.84"/><circle cx="156.7" cy="300.2" r="1.45" fill="#4a2a42" fill-opacity="0.97"/><circle cx="300.6" cy="465.4" r="1.34" fill="#262022" fill-opacity="0.91"/><circle cx="73.3" cy="441.8" r="1.49" fill="#262022" fill-opacity="0.94"/><circle cx="267.2" cy="423.4" r="1.29" fill="#3a2a36" fill-opacity="0.93"/><circle cx="318.0" cy="530.1" r="1.44" fill="#2d2729" fill-opacity="0.97"/><circle cx="205.5" cy="496.1" r="1.36" fill="#262022" fill-opacity="0.81"/><circle cx="287.4" cy="572.8" r="1.75" fill="#2d2729" fill-opacity="0.98"/><circle cx="209.9" cy="278.2" r="1.58" fill="#262022" fill-opacity="0.93"/><circle cx="69.8" cy="452.9" r="1.47" fill="#3a2a36" fill-opacity="0.86"/><circle cx="302.3" cy="422.8" r="1.06" fill="#2d2729" fill-opacity="0.82"/><circle cx="165.6" cy="406.7" r="1.16" fill="#4a2a42" fill-opacity="0.88"/><circle cx="301.7" cy="555.4" r="1.54" fill="#2d2729" fill-opacity="0.74"/><circle cx="286.3" cy="381.8" r="1.54" fill="#3a2a36" fill-opacity="1.00"/><circle cx="94.8" cy="449.0" r="1.15" fill="#3a2a36" fill-opacity="0.81"/><circle cx="333.5" cy="478.9" r="1.02" fill="#3a2a36" fill-opacity="0.77"/><circle cx="184.7" cy="349.8" r="1.60" fill="#3a2a36" fill-opacity="0.81"/><circle cx="129.7" cy="366.3" r="1.02" fill="#2d2729" fill-opacity="0.71"/><circle cx="130.3" cy="559.6" r="1.68" fill="#312b2d" fill-opacity="0.90"/><circle cx="160.1" cy="350.1" r="1.02" fill="#3a2a36" fill-opacity="0.78"/><circle cx="341.5" cy="442.7" r="1.42" fill="#312b2d" fill-opacity="0.84"/><circle cx="197.9" cy="283.5" r="2.00" fill="#2a2527" fill-opacity="0.71"/><circle cx="144.2" cy="383.7" r="1.04" fill="#3a2a36" fill-opacity="0.97"/><circle cx="265.5" cy="580.7" r="1.01" fill="#312b2d" fill-opacity="0.96"/><circle cx="341.2" cy="495.8" r="1.00" fill="#221e20" fill-opacity="0.87"/><circle cx="176.4" cy="338.1" r="1.15" fill="#2a2527" fill-opacity="0.86"/><circle cx="334.9" cy="343.6" r="1.51" fill="#262022" fill-opacity="0.72"/><circle cx="178.4" cy="304.8" r="1.88" fill="#221e20" fill-opacity="0.80"/><circle cx="117.9" cy="387.6" r="1.63" fill="#4a2a42" fill-opacity="0.80"/><circle cx="340.2" cy="363.2" r="1.02" fill="#4a2a42" fill-opacity="0.94"/><circle cx="298.6" cy="316.2" r="1.27" fill="#262022" fill-opacity="0.81"/><circle cx="213.5" cy="276.8" r="1.72" fill="#3a2a36" fill-opacity="0.77"/><circle cx="293.9" cy="311.2" r="1.16" fill="#221e20" fill-opacity="0.83"/><circle cx="323.8" cy="378.6" r="1.08" fill="#3a2a36" fill-opacity="0.73"/><circle cx="112.6" cy="317.5" r="1.24" fill="#312b2d" fill-opacity="0.74"/><circle cx="190.0" cy="364.0" r="1.19" fill="#2d2729" fill-opacity="0.84"/><circle cx="175.7" cy="345.6" r="1.44" fill="#221e20" fill-opacity="1.00"/><circle cx="70.0" cy="375.9" r="1.02" fill="#2d2729" fill-opacity="0.84"/><circle cx="299.6" cy="455.0" r="1.01" fill="#4a2a42" fill-opacity="0.85"/><circle cx="333.1" cy="512.6" r="1.01" fill="#2d2729" fill-opacity="0.89"/><circle cx="311.0" cy="329.4" r="1.77" fill="#312b2d" fill-opacity="0.95"/><circle cx="174.3" cy="390.6" r="1.19" fill="#2d2729" fill-opacity="0.96"/><circle cx="210.6" cy="386.3" r="1.45" fill="#3a2a36" fill-opacity="0.94"/><circle cx="137.5" cy="410.5" r="1.66" fill="#2d2729" fill-opacity="0.83"/><circle cx="163.0" cy="563.1" r="1.01" fill="#262022" fill-opacity="0.74"/><circle cx="253.5" cy="307.7" r="1.18" fill="#4a2a42" fill-opacity="0.84"/><circle cx="63.9" cy="396.3" r="1.02" fill="#221e20" fill-opacity="0.74"/><circle cx="110.1" cy="539.2" r="1.00" fill="#312b2d" fill-opacity="0.91"/><circle cx="187.7" cy="286.5" r="1.36" fill="#221e20" fill-opacity="0.85"/><circle cx="142.3" cy="464.1" r="1.06" fill="#3a2a36" fill-opacity="0.72"/><circle cx="206.4" cy="586.3" r="1.56" fill="#3a2a36" fill-opacity="0.93"/><circle cx="223.3" cy="486.4" r="1.48" fill="#312b2d" fill-opacity="0.82"/><circle cx="247.5" cy="385.3" r="1.24" fill="#312b2d" fill-opacity="0.74"/><circle cx="149.9" cy="304.4" r="1.32" fill="#312b2d" fill-opacity="0.86"/><circle cx="334.8" cy="358.4" r="1.01" fill="#262022" fill-opacity="0.97"/><circle cx="351.2" cy="372.5" r="1.79" fill="#221e20" fill-opacity="0.91"/><circle cx="184.3" cy="581.6" r="1.57" fill="#262022" fill-opacity="0.70"/><circle cx="214.4" cy="309.8" r="1.99" fill="#312b2d" fill-opacity="0.84"/><circle cx="209.0" cy="388.5" r="1.23" fill="#312b2d" fill-opacity="0.99"/><circle cx="211.9" cy="576.5" r="1.59" fill="#312b2d" fill-opacity="0.94"/><circle cx="353.8" cy="423.6" r="1.14" fill="#221e20" fill-opacity="0.83"/><circle cx="236.1" cy="489.2" r="1.38" fill="#2a2527" fill-opacity="0.75"/><circle cx="244.1" cy="293.2" r="1.93" fill="#2a2527" fill-opacity="0.80"/><circle cx="132.5" cy="554.3" r="1.13" fill="#2d2729" fill-opacity="1.00"/><circle cx="198.5" cy="407.4" r="1.98" fill="#2d2729" fill-opacity="0.91"/><circle cx="95.9" cy="334.9" r="1.03" fill="#2d2729" fill-opacity="0.80"/><circle cx="189.3" cy="324.3" r="1.01" fill="#2a2527" fill-opacity="0.77"/><circle cx="158.4" cy="310.1" r="1.12" fill="#221e20" fill-opacity="0.85"/><circle cx="330.2" cy="515.4" r="1.00" fill="#2d2729" fill-opacity="0.86"/><circle cx="226.3" cy="385.1" r="1.02" fill="#312b2d" fill-opacity="0.83"/><circle cx="183.9" cy="408.3" r="1.09" fill="#2d2729" fill-opacity="0.89"/><circle cx="255.6" cy="358.2" r="1.82" fill="#2a2527" fill-opacity="0.89"/><circle cx="340.0" cy="359.6" r="1.81" fill="#4a2a42" fill-opacity="0.97"/><circle cx="221.2" cy="576.6" r="1.75" fill="#4a2a42" fill-opacity="0.88"/><circle cx="208.5" cy="567.4" r="1.25" fill="#2d2729" fill-opacity="0.73"/><circle cx="239.0" cy="445.2" r="1.67" fill="#2a2527" fill-opacity="0.99"/><circle cx="294.9" cy="328.5" r="1.55" fill="#2a2527" fill-opacity="0.72"/><circle cx="197.0" cy="387.1" r="1.09" fill="#2a2527" fill-opacity="0.92"/><circle cx="228.1" cy="434.3" r="1.26" fill="#2d2729" fill-opacity="0.82"/><circle cx="141.5" cy="420.0" r="1.08" fill="#2d2729" fill-opacity="0.90"/><circle cx="207.6" cy="391.3" r="1.94" fill="#221e20" fill-opacity="0.75"/><circle cx="104.6" cy="496.6" r="1.20" fill="#2a2527" fill-opacity="0.79"/><circle cx="188.2" cy="571.8" r="1.53" fill="#3a2a36" fill-opacity="0.90"/><circle cx="304.0" cy="320.0" r="1.03" fill="#4a2a42" fill-opacity="0.82"/><circle cx="265.7" cy="432.5" r="1.01" fill="#3a2a36" fill-opacity="0.83"/><circle cx="233.8" cy="307.3" r="1.00" fill="#2d2729" fill-opacity="0.76"/><circle cx="353.1" cy="472.1" r="1.83" fill="#2d2729" fill-opacity="0.75"/><circle cx="203.4" cy="432.1" r="1.34" fill="#3a2a36" fill-opacity="0.87"/><circle cx="336.3" cy="519.9" r="1.10" fill="#3a2a36" fill-opacity="0.89"/><circle cx="196.7" cy="385.2" r="1.00" fill="#4a2a42" fill-opacity="1.00"/><circle cx="116.1" cy="551.2" r="1.49" fill="#262022" fill-opacity="0.89"/><circle cx="102.6" cy="514.7" r="1.48" fill="#312b2d" fill-opacity="0.83"/><circle cx="354.2" cy="451.0" r="1.69" fill="#4a2a42" fill-opacity="0.82"/><circle cx="365.8" cy="441.4" r="1.40" fill="#2a2527" fill-opacity="0.94"/><circle cx="207.5" cy="475.9" r="1.64" fill="#262022" fill-opacity="0.76"/><circle cx="167.0" cy="555.2" r="1.45" fill="#4a2a42" fill-opacity="0.93"/><circle cx="210.1" cy="579.7" r="1.12" fill="#2d2729" fill-opacity="0.75"/><circle cx="190.0" cy="540.6" r="1.29" fill="#3a2a36" fill-opacity="0.71"/><circle cx="265.8" cy="563.3" r="1.54" fill="#312b2d" fill-opacity="0.87"/><circle cx="317.3" cy="525.6" r="1.06" fill="#3a2a36" fill-opacity="0.89"/><circle cx="337.7" cy="452.5" r="1.45" fill="#3a2a36" fill-opacity="0.87"/><circle cx="163.0" cy="284.9" r="1.02" fill="#3a2a36" fill-opacity="0.85"/><circle cx="212.0" cy="506.7" r="1.45" fill="#4a2a42" fill-opacity="0.87"/><circle cx="228.9" cy="456.5" r="1.73" fill="#312b2d" fill-opacity="0.83"/><circle cx="130.8" cy="451.4" r="1.94" fill="#2d2729" fill-opacity="0.76"/><circle cx="207.1" cy="460.4" r="1.10" fill="#2d2729" fill-opacity="0.98"/><circle cx="320.8" cy="346.6" r="1.78" fill="#312b2d" fill-opacity="0.84"/><circle cx="86.2" cy="365.4" r="1.16" fill="#2d2729" fill-opacity="0.71"/><circle cx="125.4" cy="424.9" r="1.25" fill="#312b2d" fill-opacity="0.92"/><circle cx="91.5" cy="508.7" r="1.51" fill="#2d2729" fill-opacity="0.97"/><circle cx="351.0" cy="354.4" r="1.11" fill="#2a2527" fill-opacity="0.74"/><circle cx="204.7" cy="418.5" r="1.00" fill="#2a2527" fill-opacity="0.73"/><circle cx="302.2" cy="300.1" r="1.20" fill="#3a2a36" fill-opacity="0.95"/><circle cx="184.2" cy="346.4" r="1.03" fill="#2d2729" fill-opacity="0.92"/><circle cx="274.8" cy="475.6" r="1.06" fill="#4a2a42" fill-opacity="0.91"/><circle cx="101.3" cy="534.9" r="1.29" fill="#262022" fill-opacity="0.75"/><circle cx="151.2" cy="565.1" r="1.05" fill="#312b2d" fill-opacity="0.75"/><circle cx="81.8" cy="474.6" r="1.70" fill="#312b2d" fill-opacity="0.73"/><circle cx="254.7" cy="531.5" r="1.17" fill="#3a2a36" fill-opacity="0.83"/><circle cx="233.3" cy="496.9" r="1.00" fill="#221e20" fill-opacity="0.75"/><circle cx="257.1" cy="571.4" r="1.14" fill="#2a2527" fill-opacity="0.75"/><circle cx="101.4" cy="443.0" r="1.00" fill="#221e20" fill-opacity="0.88"/><circle cx="212.2" cy="368.0" r="1.71" fill="#4a2a42" fill-opacity="0.77"/><circle cx="156.5" cy="479.4" r="1.06" fill="#2a2527" fill-opacity="0.76"/><circle cx="348.0" cy="376.5" r="1.32" fill="#2d2729" fill-opacity="0.86"/><circle cx="260.5" cy="583.7" r="1.18" fill="#2d2729" fill-opacity="0.79"/><circle cx="144.5" cy="557.5" r="1.10" fill="#221e20" fill-opacity="0.86"/><circle cx="71.2" cy="401.6" r="1.42" fill="#2a2527" fill-opacity="0.98"/><circle cx="187.3" cy="296.3" r="1.29" fill="#2a2527" fill-opacity="0.73"/><circle cx="197.9" cy="587.5" r="1.06" fill="#221e20" fill-opacity="0.91"/><circle cx="118.0" cy="534.9" r="1.91" fill="#2a2527" fill-opacity="0.75"/><circle cx="353.2" cy="423.6" r="1.36" fill="#221e20" fill-opacity="0.80"/><circle cx="242.5" cy="532.9" r="1.06" fill="#312b2d" fill-opacity="0.75"/><circle cx="366.0" cy="395.0" r="1.00" fill="#2d2729" fill-opacity="0.99"/><circle cx="311.1" cy="501.6" r="1.81" fill="#3a2a36" fill-opacity="0.76"/><circle cx="248.9" cy="580.0" r="1.49" fill="#4a2a42" fill-opacity="0.87"/><circle cx="171.4" cy="389.6" r="1.72" fill="#221e20" fill-opacity="0.86"/><circle cx="219.3" cy="446.6" r="1.00" fill="#4a2a42" fill-opacity="0.86"/><circle cx="77.4" cy="361.7" r="1.33" fill="#4a2a42" fill-opacity="0.85"/><circle cx="97.8" cy="351.5" r="1.10" fill="#221e20" fill-opacity="0.93"/><circle cx="90.5" cy="506.3" r="1.01" fill="#2d2729" fill-opacity="0.80"/><circle cx="63.5" cy="409.4" r="1.21" fill="#2a2527" fill-opacity="0.95"/><circle cx="307.7" cy="530.8" r="1.00" fill="#2a2527" fill-opacity="0.84"/><circle cx="360.6" cy="473.1" r="1.56" fill="#2d2729" fill-opacity="0.77"/></g>
<ellipse cx="216.0" cy="432.0" rx="161.0" ry="163.2" fill="none" stroke="#141514" stroke-width="3.2"/>
</g>
<rect x="53.0" y="249.8" width="365.2" height="355.1" fill="none" stroke="#1c1c1c" stroke-width="3.6"/>
<g clip-path="url(#clipw1)">
<rect x="429.0" y="246.2" width="368.7" height="360.7" fill="#9a9b96"/>
<rect x="429.0" y="246.2" width="368.7" height="360.7" filter="url(#grainD)"/>
<rect x="429.0" y="246.2" width="368.7" height="360.7" filter="url(#grainL)"/>
<circle cx="817.7" cy="198.2" r="90" fill="none" stroke="#151515" stroke-width="5.5"/>
<circle cx="817.7" cy="681.9" r="105" fill="none" stroke="#151515" stroke-width="5.5"/>
<circle cx="384.0" cy="211.2" r="75" fill="none" stroke="#151515" stroke-width="6"/>
<circle cx="367.0" cy="648.9" r="72" fill="none" stroke="#151515" stroke-width="6"/>
<polygon points="745.4,262.5 761.4,277.8 740.3,285.5" fill="#cdcecb" stroke="#6c6d6a" stroke-width="0.8"/>
<path d="M770.7,249.2 v7 a4.5,4.5 0 0 0 9,0 v-7" fill="#c9cac6" stroke="#3a3a3a" stroke-width="1.2"/>
<circle cx="592.0" cy="434.4" r="199.0" fill="url(#ringg1)"/>
<circle cx="592.0" cy="434.4" r="199.0" fill="none" stroke="#121312" stroke-width="5.5"/>
<ellipse cx="594.0" cy="432.4" rx="161.0" ry="162.4" fill="#c9c9c6"/>
<g clip-path="url(#clipd1)"><rect x="433.0" y="270.0" width="322.0" height="324.8" filter="url(#grainL)" opacity="0.25"/><rect x="433.0" y="270.0" width="322.0" height="324.8" filter="url(#grainD)" opacity="0.15"/></g>
<g filter="url(#soft)"><circle cx="454.8" cy="374.4" r="1.03" fill="#312b2d" fill-opacity="0.80"/><circle cx="644.9" cy="480.9" r="1.00" fill="#221e20" fill-opacity="1.00"/><circle cx="518.5" cy="392.1" r="1.01" fill="#3a2a36" fill-opacity="0.88"/><circle cx="570.2" cy="474.1" r="1.16" fill="#262022" fill-opacity="0.90"/><circle cx="540.2" cy="510.9" r="1.06" fill="#262022" fill-opacity="0.98"/><circle cx="739.9" cy="473.4" r="1.39" fill="#221e20" fill-opacity="0.80"/><circle cx="558.7" cy="286.7" r="1.60" fill="#4a2a42" fill-opacity="0.97"/><circle cx="568.3" cy="315.2" r="1.98" fill="#312b2d" fill-opacity="0.86"/><circle cx="678.6" cy="542.9" r="1.35" fill="#2d2729" fill-opacity="0.91"/><circle cx="488.0" cy="377.7" r="1.73" fill="#2d2729" fill-opacity="0.72"/><circle cx="661.2" cy="363.2" r="1.18" fill="#312b2d" fill-opacity="0.75"/><circle cx="719.2" cy="496.1" r="1.02" fill="#4a2a42" fill-opacity="0.75"/><circle cx="598.8" cy="482.3" r="1.39" fill="#2a2527" fill-opacity="0.80"/><circle cx="603.4" cy="586.5" r="1.59" fill="#2a2527" fill-opacity="0.77"/><circle cx="493.2" cy="392.1" r="1.44" fill="#4a2a42" fill-opacity="0.95"/><circle cx="730.4" cy="355.8" r="1.17" fill="#312b2d" fill-opacity="0.74"/><circle cx="445.2" cy="480.1" r="1.43" fill="#2a2527" fill-opacity="0.94"/><circle cx="549.9" cy="401.9" r="1.18" fill="#262022" fill-opacity="0.99"/><circle cx="621.6" cy="421.2" r="1.36" fill="#262022" fill-opacity="0.79"/><circle cx="740.3" cy="464.6" r="1.47" fill="#2d2729" fill-opacity="0.93"/><circle cx="484.0" cy="507.5" r="1.49" fill="#312b2d" fill-opacity="0.80"/><circle cx="610.8" cy="405.5" r="1.78" fill="#4a2a42" fill-opacity="0.86"/><circle cx="462.0" cy="392.6" r="1.74" fill="#3a2a36" fill-opacity="1.00"/><circle cx="734.6" cy="477.9" r="1.00" fill="#2a2527" fill-opacity="0.85"/><circle cx="543.3" cy="295.7" r="1.63" fill="#262022" fill-opacity="0.99"/><circle cx="742.8" cy="430.9" r="1.70" fill="#4a2a42" fill-opacity="0.82"/><circle cx="669.9" cy="555.1" r="1.00" fill="#221e20" fill-opacity="0.91"/><circle cx="695.8" cy="478.9" r="1.56" fill="#221e20" fill-opacity="0.91"/><circle cx="639.6" cy="283.2" r="1.00" fill="#262022" fill-opacity="0.71"/><circle cx="463.7" cy="402.9" r="1.01" fill="#312b2d" fill-opacity="0.81"/><circle cx="683.5" cy="303.4" r="1.04" fill="#3a2a36" fill-opacity="0.92"/><circle cx="460.6" cy="509.4" r="1.37" fill="#3a2a36" fill-opacity="1.00"/><circle cx="661.5" cy="542.8" r="1.93" fill="#312b2d" fill-opacity="0.87"/><circle cx="734.2" cy="376.6" r="1.16" fill="#2a2527" fill-opacity="0.82"/><circle cx="593.4" cy="348.4" r="1.09" fill="#3a2a36" fill-opacity="0.74"/><circle cx="717.0" cy="335.3" r="1.26" fill="#221e20" fill-opacity="0.75"/><circle cx="699.7" cy="527.6" r="1.80" fill="#221e20" fill-opacity="0.95"/><circle cx="606.5" cy="488.2" r="1.97" fill="#221e20" fill-opacity="0.99"/><circle cx="513.8" cy="301.2" r="1.68" fill="#3a2a36" fill-opacity="0.83"/><circle cx="566.3" cy="406.5" r="1.04" fill="#4a2a42" fill-opacity="0.82"/><circle cx="598.3" cy="514.0" r="1.82" fill="#312b2d" fill-opacity="0.71"/><circle cx="674.3" cy="312.7" r="1.03" fill="#4a2a42" fill-opacity="0.92"/><circle cx="475.8" cy="483.5" r="1.30" fill="#2d2729" fill-opacity="0.90"/><circle cx="533.5" cy="461.2" r="1.17" fill="#221e20" fill-opacity="0.94"/><circle cx="454.8" cy="425.2" r="1.01" fill="#2d2729" fill-opacity="0.95"/><circle cx="534.3" cy="292.1" r="1.12" fill="#312b2d" fill-opacity="0.91"/><circle cx="642.5" cy="579.4" r="1.16" fill="#312b2d" fill-opacity="0.81"/><circle cx="522.5" cy="544.9" r="1.88" fill="#4a2a42" fill-opacity="0.97"/><circle cx="464.8" cy="362.9" r="1.88" fill="#3a2a36" fill-opacity="0.95"/><circle cx="685.2" cy="555.2" r="1.96" fill="#221e20" fill-opacity="0.93"/><circle cx="531.9" cy="558.2" r="1.43" fill="#2d2729" fill-opacity="0.89"/><circle cx="678.8" cy="550.7" r="1.18" fill="#2d2729" fill-opacity="0.92"/><circle cx="441.2" cy="421.3" r="1.00" fill="#221e20" fill-opacity="0.87"/><circle cx="733.3" cy="408.7" r="1.01" fill="#3a2a36" fill-opacity="0.90"/><circle cx="704.0" cy="417.4" r="1.00" fill="#2a2527" fill-opacity="0.73"/><circle cx="441.5" cy="422.7" r="1.48" fill="#2a2527" fill-opacity="0.76"/><circle cx="539.2" cy="518.0" r="1.10" fill="#2a2527" fill-opacity="0.75"/><circle cx="510.7" cy="517.0" r="1.79" fill="#2d2729" fill-opacity="0.72"/><circle cx="518.5" cy="566.8" r="1.11" fill="#221e20" fill-opacity="0.93"/><circle cx="671.2" cy="549.9" r="1.61" fill="#4a2a42" fill-opacity="0.88"/><circle cx="465.1" cy="493.5" r="1.25" fill="#312b2d" fill-opacity="0.85"/><circle cx="676.7" cy="298.9" r="1.78" fill="#3a2a36" fill-opacity="0.94"/><circle cx="679.2" cy="548.8" r="1.46" fill="#4a2a42" fill-opacity="0.78"/><circle cx="502.0" cy="316.3" r="1.59" fill="#221e20" fill-opacity="0.89"/><circle cx="453.0" cy="443.5" r="1.30" fill="#2a2527" fill-opacity="0.99"/><circle cx="448.4" cy="480.2" r="1.35" fill="#2d2729" fill-opacity="0.98"/><circle cx="524.2" cy="461.6" r="1.85" fill="#262022" fill-opacity="0.73"/><circle cx="480.5" cy="410.2" r="1.00" fill="#3a2a36" fill-opacity="0.97"/><circle cx="521.6" cy="323.9" r="1.00" fill="#3a2a36" fill-opacity="0.82"/><circle cx="666.5" cy="296.4" r="1.23" fill="#4a2a42" fill-opacity="0.82"/><circle cx="479.7" cy="495.7" r="1.00" fill="#3a2a36" fill-opacity="0.74"/><circle cx="740.4" cy="472.0" r="1.50" fill="#312b2d" fill-opacity="0.76"/><circle cx="736.0" cy="465.7" r="1.48" fill="#4a2a42" fill-opacity="0.73"/><circle cx="451.5" cy="407.9" r="1.39" fill="#2a2527" fill-opacity="0.81"/><circle cx="734.3" cy="451.5" r="1.02" fill="#262022" fill-opacity="0.76"/><circle cx="528.0" cy="459.2" r="1.77" fill="#4a2a42" fill-opacity="0.77"/><circle cx="654.6" cy="321.2" r="1.28" fill="#2a2527" fill-opacity="0.77"/><circle cx="598.9" cy="569.2" r="1.07" fill="#221e20" fill-opacity="0.93"/><circle cx="740.9" cy="402.5" r="1.02" fill="#4a2a42" fill-opacity="0.87"/><circle cx="600.2" cy="389.6" r="1.14" fill="#221e20" fill-opacity="0.77"/><circle cx="523.8" cy="497.0" r="1.00" fill="#2a2527" fill-opacity="0.81"/><circle cx="690.7" cy="478.1" r="1.43" fill="#262022" fill-opacity="0.86"/><circle cx="715.7" cy="422.1" r="1.17" fill="#3a2a36" fill-opacity="0.90"/><circle cx="552.3" cy="346.4" r="1.99" fill="#3a2a36" fill-opacity="0.76"/><circle cx="566.2" cy="352.5" r="1.02" fill="#2a2527" fill-opacity="0.88"/><circle cx="577.7" cy="529.3" r="1.60" fill="#3a2a36" fill-opacity="0.81"/><circle cx="509.6" cy="322.1" r="1.49" fill="#262022" fill-opacity="0.94"/><circle cx="517.1" cy="348.1" r="1.01" fill="#2a2527" fill-opacity="0.91"/><circle cx="708.0" cy="342.1" r="1.06" fill="#3a2a36" fill-opacity="0.88"/><circle cx="558.8" cy="578.4" r="1.23" fill="#312b2d" fill-opacity="0.87"/><circle cx="539.0" cy="571.4" r="1.37" fill="#2d2729" fill-opacity="0.73"/><circle cx="608.6" cy="514.7" r="1.03" fill="#3a2a36" fill-opacity="0.77"/><circle cx="559.4" cy="348.2" r="1.42" fill="#2a2527" fill-opacity="0.80"/><circle cx="715.4" cy="349.6" r="1.07" fill="#2a2527" fill-opacity="0.88"/><circle cx="688.4" cy="407.4" r="1.07" fill="#3a2a36" fill-opacity="0.79"/><circle cx="604.2" cy="570.0" r="1.09" fill="#312b2d" fill-opacity="0.88"/><circle cx="738.6" cy="451.8" r="1.53" fill="#3a2a36" fill-opacity="0.82"/><circle cx="594.0" cy="471.5" r="1.46" fill="#312b2d" fill-opacity="0.72"/><circle cx="701.1" cy="547.0" r="1.36" fill="#221e20" fill-opacity="0.79"/><circle cx="533.6" cy="297.3" r="1.34" fill="#2a2527" fill-opacity="0.88"/><circle cx="710.1" cy="430.0" r="1.25" fill="#312b2d" fill-opacity="0.93"/><circle cx="459.6" cy="463.8" r="1.93" fill="#312b2d" fill-opacity="0.94"/><circle cx="536.8" cy="578.9" r="1.55" fill="#312b2d" fill-opacity="0.73"/><circle cx="657.9" cy="313.3" r="1.02" fill="#312b2d" fill-opacity="0.71"/><circle cx="527.9" cy="486.9" r="1.97" fill="#262022" fill-opacity="0.72"/><circle cx="624.8" cy="322.3" r="1.44" fill="#312b2d" fill-opacity="0.89"/><circle cx="682.1" cy="543.7" r="1.65" fill="#2d2729" fill-opacity="0.79"/><circle cx="651.2" cy="407.9" r="1.02" fill="#221e20" fill-opacity="0.78"/><circle cx="692.0" cy="531.5" r="1.01" fill="#312b2d" fill-opacity="0.89"/><circle cx="739.2" cy="395.8" r="1.10" fill="#262022" fill-opacity="0.83"/><circle cx="715.5" cy="348.4" r="1.03" fill="#262022" fill-opacity="0.82"/><circle cx="546.3" cy="297.1" r="1.45" fill="#2d2729" fill-opacity="0.81"/><circle cx="557.9" cy="368.2" r="1.47" fill="#4a2a42" fill-opacity="0.87"/><circle cx="567.8" cy="371.5" r="1.14" fill="#221e20" fill-opacity="0.73"/><circle cx="601.3" cy="399.2" r="1.00" fill="#2d2729" fill-opacity="0.85"/><circle cx="536.0" cy="515.6" r="1.26" fill="#262022" fill-opacity="0.88"/><circle cx="711.3" cy="362.3" r="1.25" fill="#4a2a42" fill-opacity="0.83"/><circle cx="644.7" cy="571.0" r="1.06" fill="#221e20" fill-opacity="0.93"/><circle cx="642.8" cy="422.4" r="1.01" fill="#4a2a42" fill-opacity="0.86"/><circle cx="748.8" cy="432.8" r="1.59" fill="#262022" fill-opacity="0.86"/><circle cx="707.2" cy="344.3" r="1.82" fill="#2d2729" fill-opacity="0.95"/><circle cx="451.9" cy="472.3" r="1.11" fill="#4a2a42" fill-opacity="0.87"/><circle cx="637.0" cy="286.1" r="1.36" fill="#262022" fill-opacity="0.81"/><circle cx="645.0" cy="411.1" r="1.06" fill="#4a2a42" fill-opacity="0.74"/><circle cx="598.6" cy="322.1" r="1.93" fill="#2a2527" fill-opacity="0.84"/><circle cx="720.3" cy="457.1" r="1.21" fill="#2a2527" fill-opacity="0.87"/><circle cx="625.1" cy="353.7" r="1.05" fill="#262022" fill-opacity="0.87"/><circle cx="714.8" cy="416.4" r="1.68" fill="#312b2d" fill-opacity="0.76"/><circle cx="625.1" cy="586.8" r="1.88" fill="#2a2527" fill-opacity="0.93"/><circle cx="441.6" cy="466.7" r="1.02" fill="#221e20" fill-opacity="0.98"/><circle cx="628.1" cy="435.7" r="1.93" fill="#2a2527" fill-opacity="0.79"/><circle cx="654.2" cy="344.3" r="1.40" fill="#262022" fill-opacity="0.90"/><circle cx="457.9" cy="419.5" r="1.55" fill="#262022" fill-opacity="0.86"/><circle cx="451.1" cy="490.1" r="1.06" fill="#312b2d" fill-opacity="0.90"/><circle cx="574.6" cy="440.3" r="1.34" fill="#2a2527" fill-opacity="0.97"/><circle cx="508.2" cy="550.6" r="1.63" fill="#2a2527" fill-opacity="0.76"/><circle cx="736.2" cy="419.2" r="1.01" fill="#2a2527" fill-opacity="0.97"/><circle cx="572.1" cy="584.4" r="1.49" fill="#221e20" fill-opacity="0.88"/><circle cx="514.4" cy="311.2" r="1.04" fill="#2d2729" fill-opacity="0.80"/><circle cx="566.3" cy="564.1" r="1.35" fill="#221e20" fill-opacity="0.84"/><circle cx="498.8" cy="443.4" r="1.21" fill="#4a2a42" fill-opacity="1.00"/><circle cx="524.6" cy="497.4" r="1.59" fill="#262022" fill-opacity="0.99"/><circle cx="584.7" cy="573.5" r="1.93" fill="#4a2a42" fill-opacity="0.97"/><circle cx="565.0" cy="494.1" r="1.01" fill="#312b2d" fill-opacity="0.94"/><circle cx="591.4" cy="453.0" r="1.48" fill="#3a2a36" fill-opacity="0.77"/><circle cx="486.3" cy="519.0" r="1.65" fill="#2d2729" fill-opacity="0.96"/><circle cx="452.4" cy="396.7" r="1.00" fill="#2d2729" fill-opacity="0.97"/><circle cx="518.0" cy="336.8" r="1.21" fill="#3a2a36" fill-opacity="0.90"/><circle cx="581.8" cy="363.9" r="1.64" fill="#3a2a36" fill-opacity="0.80"/><circle cx="651.2" cy="499.7" r="1.12" fill="#312b2d" fill-opacity="0.81"/><circle cx="584.2" cy="275.2" r="1.81" fill="#312b2d" fill-opacity="0.82"/><circle cx="583.4" cy="542.5" r="1.19" fill="#2a2527" fill-opacity="0.79"/><circle cx="717.6" cy="442.2" r="1.50" fill="#2a2527" fill-opacity="0.96"/><circle cx="455.6" cy="449.0" r="1.57" fill="#312b2d" fill-opacity="0.94"/><circle cx="681.0" cy="319.5" r="1.03" fill="#262022" fill-opacity="0.90"/><circle cx="645.3" cy="565.3" r="1.70" fill="#312b2d" fill-opacity="0.96"/><circle cx="468.9" cy="342.0" r="1.00" fill="#3a2a36" fill-opacity="0.76"/><circle cx="515.9" cy="552.7" r="1.37" fill="#2d2729" fill-opacity="0.75"/><circle cx="653.8" cy="304.5" r="1.11" fill="#221e20" fill-opacity="0.85"/><circle cx="478.5" cy="351.2" r="1.01" fill="#2d2729" fill-opacity="0.77"/><circle cx="702.3" cy="424.2" r="1.01" fill="#312b2d" fill-opacity="0.72"/><circle cx="547.0" cy="370.6" r="1.32" fill="#4a2a42" fill-opacity="0.88"/><circle cx="687.2" cy="558.8" r="1.01" fill="#2d2729" fill-opacity="0.95"/><circle cx="732.2" cy="363.3" r="1.23" fill="#3a2a36" fill-opacity="0.79"/><circle cx="449.5" cy="487.4" r="1.09" fill="#4a2a42" fill-opacity="0.93"/><circle cx="557.3" cy="467.6" r="1.59" fill="#4a2a42" fill-opacity="0.77"/><circle cx="679.8" cy="408.6" r="1.38" fill="#3a2a36" fill-opacity="1.00"/><circle cx="707.7" cy="329.0" r="1.73" fill="#2d2729" fill-opacity="0.86"/><circle cx="712.1" cy="393.1" r="1.85" fill="#2d2729" fill-opacity="0.96"/><circle cx="597.4" cy="344.4" r="1.54" fill="#262022" fill-opacity="0.83"/><circle cx="446.2" cy="381.8" r="1.81" fill="#3a2a36" fill-opacity="0.91"/><circle cx="586.3" cy="416.0" r="1.29" fill="#2d2729" fill-opacity="0.79"/><circle cx="671.9" cy="398.5" r="1.53" fill="#4a2a42" fill-opacity="0.82"/><circle cx="654.6" cy="358.4" r="1.28" fill="#221e20" fill-opacity="0.93"/><circle cx="468.3" cy="431.7" r="1.22" fill="#262022" fill-opacity="0.73"/><circle cx="570.2" cy="381.9" r="1.29" fill="#2a2527" fill-opacity="0.78"/><circle cx="563.0" cy="572.6" r="1.67" fill="#262022" fill-opacity="0.87"/><circle cx="603.0" cy="410.9" r="1.36" fill="#221e20" fill-opacity="0.89"/><circle cx="584.4" cy="442.2" r="1.38" fill="#262022" fill-opacity="0.96"/><circle cx="479.0" cy="513.3" r="1.15" fill="#262022" fill-opacity="0.91"/><circle cx="734.9" cy="364.5" r="1.08" fill="#3a2a36" fill-opacity="0.93"/><circle cx="599.7" cy="552.6" r="1.57" fill="#3a2a36" fill-opacity="0.71"/><circle cx="547.5" cy="382.6" r="1.96" fill="#2d2729" fill-opacity="0.97"/><circle cx="641.6" cy="286.9" r="1.25" fill="#312b2d" fill-opacity="0.90"/><circle cx="522.3" cy="557.8" r="1.11" fill="#2a2527" fill-opacity="0.92"/><circle cx="508.4" cy="371.8" r="1.07" fill="#262022" fill-opacity="0.84"/><circle cx="532.6" cy="358.8" r="1.01" fill="#2d2729" fill-opacity="0.74"/><circle cx="671.3" cy="299.0" r="1.04" fill="#2a2527" fill-opacity="0.86"/><circle cx="574.7" cy="448.6" r="1.57" fill="#4a2a42" fill-opacity="0.81"/><circle cx="457.5" cy="506.6" r="1.67" fill="#221e20" fill-opacity="0.86"/><circle cx="516.1" cy="551.2" r="1.23" fill="#312b2d" fill-opacity="0.84"/><circle cx="672.4" cy="553.2" r="1.06" fill="#2a2527" fill-opacity="1.00"/><circle cx="606.8" cy="389.3" r="1.61" fill="#262022" fill-opacity="0.83"/><circle cx="510.6" cy="542.5" r="1.06" fill="#2d2729" fill-opacity="0.89"/><circle cx="586.7" cy="360.2" r="1.16" fill="#221e20" fill-opacity="0.84"/><circle cx="702.9" cy="529.3" r="1.04" fill="#2a2527" fill-opacity="0.95"/><circle cx="744.2" cy="410.1" r="1.44" fill="#312b2d" fill-opacity="0.72"/><circle cx="642.2" cy="395.1" r="1.17" fill="#262022" fill-opacity="1.00"/><circle cx="687.1" cy="313.6" r="1.51" fill="#262022" fill-opacity="0.91"/><circle cx="724.8" cy="356.1" r="1.21" fill="#3a2a36" fill-opacity="0.85"/><circle cx="604.6" cy="575.3" r="1.36" fill="#312b2d" fill-opacity="0.91"/><circle cx="490.5" cy="445.8" r="1.03" fill="#312b2d" fill-opacity="0.81"/><circle cx="456.6" cy="447.8" r="1.16" fill="#2a2527" fill-opacity="0.81"/><circle cx="735.0" cy="500.0" r="1.00" fill="#3a2a36" fill-opacity="0.71"/><circle cx="730.6" cy="454.9" r="1.52" fill="#312b2d" fill-opacity="0.75"/><circle cx="507.4" cy="419.9" r="1.31" fill="#262022" fill-opacity="0.90"/><circle cx="562.8" cy="278.2" r="1.38" fill="#221e20" fill-opacity="0.77"/><circle cx="659.0" cy="568.2" r="1.02" fill="#312b2d" fill-opacity="0.99"/><circle cx="525.8" cy="457.6" r="1.23" fill="#2d2729" fill-opacity="0.90"/><circle cx="537.6" cy="430.9" r="1.01" fill="#262022" fill-opacity="0.90"/><circle cx="457.4" cy="356.2" r="1.01" fill="#262022" fill-opacity="0.79"/><circle cx="711.0" cy="479.1" r="1.02" fill="#2a2527" fill-opacity="0.97"/><circle cx="620.7" cy="587.6" r="1.03" fill="#4a2a42" fill-opacity="0.78"/><circle cx="666.8" cy="329.8" r="1.09" fill="#221e20" fill-opacity="0.85"/><circle cx="645.8" cy="331.5" r="1.34" fill="#2a2527" fill-opacity="0.80"/><circle cx="593.0" cy="573.5" r="1.01" fill="#4a2a42" fill-opacity="0.86"/><circle cx="461.4" cy="471.6" r="1.57" fill="#312b2d" fill-opacity="0.98"/><circle cx="644.7" cy="295.3" r="1.34" fill="#312b2d" fill-opacity="0.79"/><circle cx="641.9" cy="525.1" r="1.21" fill="#2a2527" fill-opacity="0.77"/><circle cx="529.9" cy="318.1" r="1.12" fill="#3a2a36" fill-opacity="0.89"/><circle cx="507.9" cy="364.9" r="1.00" fill="#262022" fill-opacity="0.91"/><circle cx="494.8" cy="528.8" r="1.49" fill="#312b2d" fill-opacity="0.97"/><circle cx="686.8" cy="366.4" r="1.11" fill="#221e20" fill-opacity="0.80"/><circle cx="494.0" cy="316.8" r="1.00" fill="#2a2527" fill-opacity="0.91"/><circle cx="698.2" cy="475.4" r="1.96" fill="#221e20" fill-opacity="0.82"/><circle cx="617.9" cy="533.9" r="1.34" fill="#221e20" fill-opacity="0.95"/><circle cx="649.0" cy="486.1" r="1.00" fill="#221e20" fill-opacity="0.74"/><circle cx="670.4" cy="362.7" r="1.13" fill="#312b2d" fill-opacity="0.82"/><circle cx="470.3" cy="358.2" r="1.04" fill="#312b2d" fill-opacity="0.86"/><circle cx="603.8" cy="281.2" r="1.07" fill="#312b2d" fill-opacity="0.75"/><circle cx="522.0" cy="413.9" r="1.23" fill="#4a2a42" fill-opacity="0.87"/><circle cx="529.3" cy="319.1" r="1.06" fill="#2d2729" fill-opacity="0.82"/><circle cx="576.8" cy="510.0" r="1.61" fill="#2a2527" fill-opacity="0.89"/><circle cx="662.1" cy="312.5" r="1.03" fill="#2a2527" fill-opacity="0.83"/><circle cx="640.2" cy="285.1" r="1.44" fill="#2a2527" fill-opacity="0.88"/><circle cx="628.7" cy="287.4" r="1.00" fill="#4a2a42" fill-opacity="0.80"/><circle cx="459.0" cy="501.7" r="1.15" fill="#3a2a36" fill-opacity="0.77"/><circle cx="556.5" cy="419.0" r="1.35" fill="#4a2a42" fill-opacity="0.84"/><circle cx="697.1" cy="338.3" r="1.15" fill="#3a2a36" fill-opacity="0.73"/><circle cx="441.3" cy="441.6" r="1.02" fill="#3a2a36" fill-opacity="0.95"/><circle cx="675.6" cy="324.6" r="1.74" fill="#262022" fill-opacity="0.97"/><circle cx="466.8" cy="383.9" r="1.57" fill="#262022" fill-opacity="0.90"/><circle cx="440.3" cy="405.0" r="1.66" fill="#2a2527" fill-opacity="0.92"/><circle cx="727.3" cy="496.4" r="1.20" fill="#312b2d" fill-opacity="0.90"/><circle cx="673.9" cy="394.2" r="1.99" fill="#262022" fill-opacity="0.75"/><circle cx="729.9" cy="396.0" r="1.57" fill="#2a2527" fill-opacity="0.87"/><circle cx="586.8" cy="470.2" r="1.64" fill="#4a2a42" fill-opacity="0.90"/><circle cx="588.3" cy="287.7" r="1.68" fill="#4a2a42" fill-opacity="0.73"/><circle cx="578.6" cy="584.6" r="1.70" fill="#262022" fill-opacity="0.73"/><circle cx="536.6" cy="502.2" r="1.24" fill="#312b2d" fill-opacity="0.83"/><circle cx="669.6" cy="350.2" r="1.66" fill="#4a2a42" fill-opacity="0.98"/><circle cx="698.6" cy="498.1" r="1.23" fill="#2d2729" fill-opacity="0.91"/><circle cx="732.1" cy="392.0" r="1.16" fill="#262022" fill-opacity="0.81"/><circle cx="695.4" cy="527.4" r="1.02" fill="#2d2729" fill-opacity="0.72"/><circle cx="572.9" cy="391.4" r="1.91" fill="#221e20" fill-opacity="0.96"/><circle cx="487.5" cy="543.8" r="1.12" fill="#4a2a42" fill-opacity="0.76"/><circle cx="631.3" cy="279.5" r="1.37" fill="#2d2729" fill-opacity="0.95"/><circle cx="576.8" cy="588.9" r="1.14" fill="#221e20" fill-opacity="0.79"/><circle cx="456.1" cy="447.8" r="1.86" fill="#2d2729" fill-opacity="0.83"/><circle cx="623.8" cy="334.0" r="1.07" fill="#2a2527" fill-opacity="0.81"/><circle cx="559.3" cy="519.0" r="1.15" fill="#2a2527" fill-opacity="0.83"/><circle cx="638.4" cy="412.2" r="1.45" fill="#2a2527" fill-opacity="0.75"/><circle cx="487.0" cy="526.9" r="1.05" fill="#2a2527" fill-opacity="0.93"/><circle cx="487.8" cy="416.2" r="1.69" fill="#3a2a36" fill-opacity="0.78"/><circle cx="629.6" cy="520.5" r="1.31" fill="#221e20" fill-opacity="0.81"/><circle cx="623.6" cy="346.5" r="1.49" fill="#3a2a36" fill-opacity="0.88"/><circle cx="579.2" cy="517.9" r="1.11" fill="#3a2a36" fill-opacity="1.00"/><circle cx="689.4" cy="308.1" r="1.17" fill="#221e20" fill-opacity="0.73"/><circle cx="510.9" cy="299.9" r="2.00" fill="#2a2527" fill-opacity="0.99"/><circle cx="610.4" cy="288.5" r="1.01" fill="#262022" fill-opacity="1.00"/><circle cx="587.6" cy="380.4" r="1.86" fill="#2d2729" fill-opacity="0.96"/><circle cx="554.0" cy="496.4" r="1.01" fill="#312b2d" fill-opacity="0.78"/><circle cx="625.2" cy="582.2" r="1.17" fill="#312b2d" fill-opacity="0.87"/><circle cx="727.7" cy="364.7" r="1.02" fill="#2a2527" fill-opacity="0.89"/><circle cx="689.6" cy="332.3" r="1.89" fill="#221e20" fill-opacity="0.77"/><circle cx="465.8" cy="368.4" r="1.12" fill="#262022" fill-opacity="0.70"/><circle cx="735.5" cy="398.0" r="1.54" fill="#312b2d" fill-opacity="0.73"/><circle cx="454.5" cy="371.4" r="1.01" fill="#2d2729" fill-opacity="0.77"/><circle cx="584.0" cy="518.9" r="1.37" fill="#4a2a42" fill-opacity="0.99"/><circle cx="642.2" cy="302.4" r="1.15" fill="#3a2a36" fill-opacity="0.78"/><circle cx="614.0" cy="303.7" r="1.41" fill="#3a2a36" fill-opacity="1.00"/><circle cx="495.3" cy="400.4" r="1.04" fill="#221e20" fill-opacity="0.78"/><circle cx="641.8" cy="546.2" r="1.98" fill="#312b2d" fill-opacity="0.91"/><circle cx="712.8" cy="337.3" r="1.08" fill="#312b2d" fill-opacity="0.76"/><circle cx="566.5" cy="586.7" r="1.45" fill="#312b2d" fill-opacity="0.72"/><circle cx="544.8" cy="574.6" r="1.56" fill="#262022" fill-opacity="0.91"/><circle cx="693.9" cy="316.5" r="1.15" fill="#4a2a42" fill-opacity="0.88"/><circle cx="460.4" cy="450.0" r="1.02" fill="#4a2a42" fill-opacity="0.74"/><circle cx="650.6" cy="409.5" r="1.21" fill="#2d2729" fill-opacity="0.91"/><circle cx="452.8" cy="404.0" r="1.90" fill="#3a2a36" fill-opacity="0.93"/><circle cx="506.5" cy="479.6" r="1.56" fill="#4a2a42" fill-opacity="0.70"/><circle cx="660.3" cy="308.0" r="1.03" fill="#4a2a42" fill-opacity="0.91"/><circle cx="693.1" cy="542.9" r="1.12" fill="#2a2527" fill-opacity="0.92"/><circle cx="529.9" cy="518.8" r="1.18" fill="#221e20" fill-opacity="0.77"/><circle cx="452.3" cy="483.9" r="1.21" fill="#2d2729" fill-opacity="0.95"/><circle cx="582.7" cy="364.2" r="1.23" fill="#4a2a42" fill-opacity="0.71"/><circle cx="637.5" cy="448.7" r="1.28" fill="#2a2527" fill-opacity="0.90"/><circle cx="458.2" cy="479.5" r="1.22" fill="#221e20" fill-opacity="0.77"/><circle cx="733.5" cy="364.3" r="1.38" fill="#4a2a42" fill-opacity="0.93"/><circle cx="574.1" cy="385.1" r="1.83" fill="#2a2527" fill-opacity="0.91"/><circle cx="624.2" cy="568.2" r="1.51" fill="#2d2729" fill-opacity="0.72"/><circle cx="527.1" cy="304.5" r="1.18" fill="#221e20" fill-opacity="0.89"/><circle cx="660.0" cy="525.5" r="1.08" fill="#2a2527" fill-opacity="0.82"/><circle cx="580.9" cy="444.4" r="1.00" fill="#2a2527" fill-opacity="0.80"/><circle cx="446.4" cy="395.7" r="1.20" fill="#4a2a42" fill-opacity="0.81"/><circle cx="621.9" cy="506.1" r="1.00" fill="#4a2a42" fill-opacity="0.74"/><circle cx="724.2" cy="370.7" r="1.87" fill="#4a2a42" fill-opacity="0.89"/><circle cx="453.7" cy="381.1" r="1.00" fill="#4a2a42" fill-opacity="0.89"/><circle cx="706.3" cy="332.9" r="1.88" fill="#2a2527" fill-opacity="0.88"/><circle cx="485.7" cy="541.3" r="1.00" fill="#2a2527" fill-opacity="0.85"/><circle cx="442.9" cy="447.6" r="1.16" fill="#2d2729" fill-opacity="0.96"/><circle cx="583.9" cy="330.3" r="1.11" fill="#312b2d" fill-opacity="0.88"/><circle cx="586.4" cy="481.4" r="1.83" fill="#4a2a42" fill-opacity="0.74"/><circle cx="495.0" cy="472.4" r="1.03" fill="#2a2527" fill-opacity="0.98"/><circle cx="485.4" cy="456.6" r="1.71" fill="#3a2a36" fill-opacity="0.74"/><circle cx="682.4" cy="431.8" r="1.00" fill="#2a2527" fill-opacity="0.84"/><circle cx="586.6" cy="385.8" r="1.55" fill="#221e20" fill-opacity="0.90"/><circle cx="620.3" cy="329.5" r="1.07" fill="#2a2527" fill-opacity="0.73"/><circle cx="597.5" cy="286.3" r="1.62" fill="#221e20" fill-opacity="0.90"/><circle cx="607.3" cy="516.9" r="1.65" fill="#2a2527" fill-opacity="0.75"/><circle cx="690.3" cy="497.5" r="1.07" fill="#221e20" fill-opacity="0.81"/><circle cx="569.3" cy="292.1" r="1.01" fill="#262022" fill-opacity="1.00"/><circle cx="652.8" cy="550.1" r="1.70" fill="#221e20" fill-opacity="0.88"/><circle cx="657.6" cy="447.5" r="1.37" fill="#262022" fill-opacity="0.81"/><circle cx="448.3" cy="487.1" r="1.03" fill="#2a2527" fill-opacity="0.95"/><circle cx="584.4" cy="484.3" r="1.55" fill="#2d2729" fill-opacity="0.93"/><circle cx="548.1" cy="547.9" r="1.96" fill="#4a2a42" fill-opacity="0.87"/><circle cx="622.1" cy="531.6" r="1.79" fill="#3a2a36" fill-opacity="0.76"/><circle cx="607.5" cy="478.3" r="1.46" fill="#221e20" fill-opacity="0.85"/><circle cx="445.7" cy="428.7" r="1.41" fill="#2a2527" fill-opacity="0.86"/><circle cx="549.0" cy="304.7" r="1.58" fill="#221e20" fill-opacity="0.79"/><circle cx="494.8" cy="488.0" r="1.42" fill="#2d2729" fill-opacity="0.75"/><circle cx="637.6" cy="579.0" r="1.28" fill="#221e20" fill-opacity="0.87"/><circle cx="556.5" cy="281.0" r="1.02" fill="#2a2527" fill-opacity="0.79"/><circle cx="647.8" cy="315.0" r="1.75" fill="#3a2a36" fill-opacity="0.93"/><circle cx="615.8" cy="306.8" r="1.40" fill="#312b2d" fill-opacity="0.92"/><circle cx="681.8" cy="561.8" r="1.26" fill="#3a2a36" fill-opacity="0.80"/><circle cx="727.9" cy="497.9" r="1.77" fill="#262022" fill-opacity="0.71"/><circle cx="464.6" cy="395.2" r="1.03" fill="#4a2a42" fill-opacity="0.73"/><circle cx="594.2" cy="435.4" r="1.00" fill="#3a2a36" fill-opacity="0.74"/><circle cx="692.6" cy="449.6" r="1.03" fill="#2d2729" fill-opacity="0.99"/><circle cx="596.0" cy="577.7" r="1.32" fill="#312b2d" fill-opacity="0.83"/><circle cx="630.3" cy="279.2" r="1.35" fill="#221e20" fill-opacity="0.98"/><circle cx="748.0" cy="458.0" r="1.01" fill="#2d2729" fill-opacity="0.76"/><circle cx="469.0" cy="409.9" r="1.69" fill="#4a2a42" fill-opacity="0.87"/><circle cx="481.4" cy="519.2" r="1.30" fill="#2d2729" fill-opacity="0.96"/><circle cx="552.0" cy="566.8" r="1.13" fill="#221e20" fill-opacity="0.79"/><circle cx="619.6" cy="277.9" r="1.52" fill="#221e20" fill-opacity="0.88"/><circle cx="612.8" cy="313.3" r="1.24" fill="#3a2a36" fill-opacity="0.77"/><circle cx="640.1" cy="547.3" r="1.48" fill="#2a2527" fill-opacity="0.73"/><circle cx="494.9" cy="310.7" r="1.08" fill="#2d2729" fill-opacity="0.83"/><circle cx="657.4" cy="471.9" r="1.10" fill="#221e20" fill-opacity="0.89"/><circle cx="651.8" cy="449.9" r="1.17" fill="#2a2527" fill-opacity="0.90"/><circle cx="502.9" cy="500.3" r="1.17" fill="#2d2729" fill-opacity="0.89"/><circle cx="456.1" cy="381.7" r="1.06" fill="#221e20" fill-opacity="0.95"/><circle cx="581.7" cy="529.8" r="1.07" fill="#2d2729" fill-opacity="0.78"/><circle cx="666.3" cy="292.8" r="1.24" fill="#312b2d" fill-opacity="0.74"/><circle cx="636.9" cy="488.6" r="1.35" fill="#2d2729" fill-opacity="0.97"/><circle cx="683.4" cy="549.9" r="1.02" fill="#312b2d" fill-opacity="0.87"/><circle cx="701.4" cy="516.9" r="1.00" fill="#2d2729" fill-opacity="0.80"/><circle cx="530.5" cy="522.7" r="1.69" fill="#262022" fill-opacity="0.87"/><circle cx="693.1" cy="507.0" r="1.63" fill="#262022" fill-opacity="0.75"/><circle cx="679.9" cy="563.9" r="1.37" fill="#3a2a36" fill-opacity="0.80"/><circle cx="595.5" cy="490.7" r="1.73" fill="#221e20" fill-opacity="0.99"/><circle cx="619.5" cy="561.4" r="1.14" fill="#3a2a36" fill-opacity="0.87"/><circle cx="455.4" cy="504.9" r="1.06" fill="#312b2d" fill-opacity="0.81"/><circle cx="641.3" cy="287.2" r="1.10" fill="#2d2729" fill-opacity="0.88"/><circle cx="631.5" cy="445.5" r="1.19" fill="#2a2527" fill-opacity="0.84"/><circle cx="671.4" cy="489.5" r="1.66" fill="#312b2d" fill-opacity="0.90"/><circle cx="728.1" cy="441.2" r="1.07" fill="#3a2a36" fill-opacity="0.74"/><circle cx="669.8" cy="555.9" r="1.11" fill="#3a2a36" fill-opacity="0.83"/><circle cx="560.6" cy="561.9" r="1.71" fill="#4a2a42" fill-opacity="0.92"/><circle cx="504.1" cy="386.6" r="1.28" fill="#262022" fill-opacity="0.98"/><circle cx="458.5" cy="458.3" r="1.04" fill="#312b2d" fill-opacity="0.89"/><circle cx="640.4" cy="548.6" r="1.07" fill="#312b2d" fill-opacity="0.70"/><circle cx="587.6" cy="411.1" r="1.16" fill="#4a2a42" fill-opacity="0.85"/><circle cx="693.7" cy="530.2" r="1.72" fill="#2d2729" fill-opacity="0.88"/><circle cx="704.2" cy="486.2" r="1.33" fill="#2d2729" fill-opacity="0.86"/><circle cx="645.6" cy="386.8" r="1.64" fill="#262022" fill-opacity="0.77"/><circle cx="556.0" cy="565.8" r="1.90" fill="#4a2a42" fill-opacity="0.83"/><circle cx="622.1" cy="307.8" r="1.28" fill="#262022" fill-opacity="0.85"/><circle cx="534.2" cy="574.8" r="1.39" fill="#4a2a42" fill-opacity="0.89"/><circle cx="589.1" cy="489.3" r="1.09" fill="#2d2729" fill-opacity="0.97"/><circle cx="571.6" cy="278.4" r="1.06" fill="#4a2a42" fill-opacity="0.91"/><circle cx="470.7" cy="382.6" r="1.00" fill="#221e20" fill-opacity="0.77"/><circle cx="506.4" cy="493.6" r="1.01" fill="#221e20" fill-opacity="0.78"/><circle cx="619.5" cy="452.7" r="1.00" fill="#221e20" fill-opacity="0.76"/><circle cx="512.4" cy="388.7" r="1.00" fill="#3a2a36" fill-opacity="0.74"/><circle cx="512.3" cy="526.2" r="1.00" fill="#3a2a36" fill-opacity="0.99"/><circle cx="706.2" cy="348.0" r="1.00" fill="#312b2d" fill-opacity="0.71"/><circle cx="724.3" cy="467.5" r="1.00" fill="#2a2527" fill-opacity="0.91"/><circle cx="695.9" cy="526.1" r="1.17" fill="#221e20" fill-opacity="0.93"/><circle cx="656.9" cy="420.9" r="1.03" fill="#2d2729" fill-opacity="0.74"/><circle cx="676.1" cy="395.5" r="1.65" fill="#4a2a42" fill-opacity="0.85"/><circle cx="674.0" cy="424.1" r="1.39" fill="#2a2527" fill-opacity="0.83"/><circle cx="496.0" cy="434.3" r="1.65" fill="#312b2d" fill-opacity="0.75"/><circle cx="736.6" cy="476.7" r="1.23" fill="#3a2a36" fill-opacity="0.78"/><circle cx="536.0" cy="315.6" r="1.36" fill="#2d2729" fill-opacity="0.84"/><circle cx="736.6" cy="427.2" r="1.66" fill="#312b2d" fill-opacity="0.92"/><circle cx="741.5" cy="400.4" r="1.05" fill="#2a2527" fill-opacity="0.92"/><circle cx="558.9" cy="570.2" r="1.00" fill="#4a2a42" fill-opacity="0.81"/><circle cx="736.0" cy="366.8" r="1.00" fill="#3a2a36" fill-opacity="0.95"/><circle cx="597.6" cy="372.8" r="1.26" fill="#2d2729" fill-opacity="0.78"/><circle cx="576.7" cy="283.4" r="1.01" fill="#2a2527" fill-opacity="0.75"/><circle cx="747.8" cy="421.5" r="1.02" fill="#2d2729" fill-opacity="0.75"/><circle cx="514.4" cy="513.8" r="1.47" fill="#262022" fill-opacity="0.98"/><circle cx="591.2" cy="573.2" r="1.11" fill="#221e20" fill-opacity="0.94"/><circle cx="597.8" cy="294.6" r="1.65" fill="#2d2729" fill-opacity="0.77"/><circle cx="630.4" cy="447.2" r="1.00" fill="#4a2a42" fill-opacity="0.74"/><circle cx="465.2" cy="374.0" r="1.85" fill="#4a2a42" fill-opacity="0.70"/><circle cx="604.4" cy="297.1" r="1.27" fill="#262022" fill-opacity="0.92"/><circle cx="568.4" cy="305.0" r="1.25" fill="#262022" fill-opacity="0.79"/><circle cx="512.5" cy="316.2" r="1.25" fill="#4a2a42" fill-opacity="0.92"/><circle cx="679.7" cy="547.5" r="1.05" fill="#2d2729" fill-opacity="0.95"/><circle cx="721.7" cy="349.1" r="1.74" fill="#221e20" fill-opacity="0.79"/><circle cx="708.2" cy="514.3" r="1.04" fill="#312b2d" fill-opacity="0.96"/><circle cx="478.7" cy="358.0" r="1.61" fill="#262022" fill-opacity="0.84"/><circle cx="459.1" cy="370.9" r="1.72" fill="#4a2a42" fill-opacity="0.91"/><circle cx="514.1" cy="311.0" r="1.50" fill="#2d2729" fill-opacity="0.95"/><circle cx="616.0" cy="288.4" r="1.95" fill="#3a2a36" fill-opacity="0.73"/><circle cx="561.7" cy="572.4" r="1.24" fill="#3a2a36" fill-opacity="0.85"/><circle cx="574.2" cy="361.3" r="1.19" fill="#312b2d" fill-opacity="0.93"/><circle cx="557.8" cy="557.7" r="1.45" fill="#2d2729" fill-opacity="0.98"/><circle cx="726.8" cy="349.7" r="1.03" fill="#221e20" fill-opacity="0.92"/><circle cx="615.9" cy="582.1" r="1.04" fill="#221e20" fill-opacity="0.79"/><circle cx="627.4" cy="447.4" r="1.19" fill="#2d2729" fill-opacity="0.97"/><circle cx="666.1" cy="476.4" r="1.40" fill="#262022" fill-opacity="0.81"/><circle cx="476.1" cy="427.7" r="1.66" fill="#2a2527" fill-opacity="0.72"/><circle cx="719.2" cy="505.2" r="1.95" fill="#221e20" fill-opacity="0.89"/><circle cx="703.3" cy="522.1" r="1.71" fill="#221e20" fill-opacity="0.90"/><circle cx="476.4" cy="398.3" r="1.26" fill="#2d2729" fill-opacity="0.97"/><circle cx="716.4" cy="353.3" r="1.09" fill="#4a2a42" fill-opacity="0.85"/><circle cx="623.7" cy="287.3" r="1.94" fill="#312b2d" fill-opacity="0.84"/><circle cx="588.1" cy="560.7" r="1.04" fill="#221e20" fill-opacity="0.74"/><circle cx="575.0" cy="355.9" r="1.44" fill="#262022" fill-opacity="0.98"/><circle cx="635.8" cy="567.9" r="1.79" fill="#262022" fill-opacity="0.95"/><circle cx="531.8" cy="522.6" r="1.52" fill="#312b2d" fill-opacity="0.71"/><circle cx="643.0" cy="565.5" r="1.50" fill="#221e20" fill-opacity="0.78"/><circle cx="579.4" cy="363.3" r="1.27" fill="#312b2d" fill-opacity="0.89"/><circle cx="551.1" cy="341.9" r="1.67" fill="#2d2729" fill-opacity="0.73"/><circle cx="669.7" cy="294.7" r="1.48" fill="#2a2527" fill-opacity="0.89"/><circle cx="544.2" cy="364.8" r="1.58" fill="#2d2729" fill-opacity="0.89"/><circle cx="668.9" cy="313.9" r="1.06" fill="#262022" fill-opacity="0.83"/><circle cx="599.2" cy="433.9" r="1.04" fill="#221e20" fill-opacity="0.70"/><circle cx="647.3" cy="507.2" r="1.02" fill="#262022" fill-opacity="0.90"/><circle cx="605.8" cy="290.9" r="1.78" fill="#3a2a36" fill-opacity="0.87"/><circle cx="546.4" cy="386.6" r="1.28" fill="#2a2527" fill-opacity="0.92"/><circle cx="646.0" cy="578.1" r="1.38" fill="#221e20" fill-opacity="0.73"/><circle cx="653.3" cy="523.7" r="1.73" fill="#2d2729" fill-opacity="0.73"/><circle cx="675.0" cy="498.2" r="1.00" fill="#3a2a36" fill-opacity="0.96"/><circle cx="514.1" cy="567.7" r="1.12" fill="#3a2a36" fill-opacity="0.98"/><circle cx="536.9" cy="285.8" r="1.03" fill="#4a2a42" fill-opacity="0.80"/><circle cx="587.8" cy="566.8" r="1.00" fill="#262022" fill-opacity="0.81"/><circle cx="610.4" cy="408.6" r="1.21" fill="#2d2729" fill-opacity="0.93"/><circle cx="605.3" cy="322.2" r="1.15" fill="#2a2527" fill-opacity="0.84"/><circle cx="679.8" cy="300.8" r="1.00" fill="#4a2a42" fill-opacity="0.84"/><circle cx="544.6" cy="381.9" r="1.03" fill="#2d2729" fill-opacity="0.86"/><circle cx="443.1" cy="392.2" r="1.93" fill="#2d2729" fill-opacity="0.83"/><circle cx="540.8" cy="341.3" r="1.56" fill="#3a2a36" fill-opacity="0.82"/><circle cx="634.6" cy="510.9" r="1.50" fill="#312b2d" fill-opacity="0.72"/><circle cx="621.5" cy="305.9" r="1.47" fill="#221e20" fill-opacity="0.97"/><circle cx="686.7" cy="445.2" r="1.20" fill="#4a2a42" fill-opacity="0.98"/><circle cx="692.9" cy="349.9" r="1.05" fill="#262022" fill-opacity="0.95"/><circle cx="671.4" cy="554.0" r="1.16" fill="#221e20" fill-opacity="0.82"/><circle cx="563.6" cy="566.6" r="1.03" fill="#4a2a42" fill-opacity="0.90"/><circle cx="547.1" cy="507.3" r="1.11" fill="#312b2d" fill-opacity="0.82"/><circle cx="642.0" cy="493.1" r="1.17" fill="#312b2d" fill-opacity="0.77"/><circle cx="634.9" cy="338.0" r="1.34" fill="#262022" fill-opacity="0.71"/><circle cx="489.2" cy="365.1" r="1.04" fill="#2a2527" fill-opacity="0.95"/><circle cx="633.0" cy="492.4" r="1.02" fill="#221e20" fill-opacity="0.77"/><circle cx="740.6" cy="486.5" r="1.01" fill="#2a2527" fill-opacity="0.90"/><circle cx="693.0" cy="493.7" r="1.05" fill="#3a2a36" fill-opacity="0.77"/><circle cx="528.4" cy="489.2" r="1.00" fill="#312b2d" fill-opacity="0.70"/><circle cx="690.3" cy="507.0" r="1.83" fill="#2a2527" fill-opacity="0.75"/><circle cx="469.7" cy="515.8" r="1.93" fill="#312b2d" fill-opacity="0.90"/><circle cx="484.0" cy="538.4" r="1.94" fill="#262022" fill-opacity="0.99"/><circle cx="550.3" cy="523.9" r="1.09" fill="#2a2527" fill-opacity="0.90"/><circle cx="587.2" cy="581.2" r="1.02" fill="#2d2729" fill-opacity="0.91"/><circle cx="729.2" cy="501.6" r="1.56" fill="#2a2527" fill-opacity="0.84"/><circle cx="666.8" cy="313.1" r="1.03" fill="#2a2527" fill-opacity="0.96"/><circle cx="540.9" cy="530.3" r="1.22" fill="#312b2d" fill-opacity="0.79"/><circle cx="493.9" cy="528.0" r="1.01" fill="#221e20" fill-opacity="0.97"/><circle cx="570.0" cy="384.6" r="1.83" fill="#3a2a36" fill-opacity="0.89"/><circle cx="701.0" cy="334.3" r="1.76" fill="#4a2a42" fill-opacity="0.90"/><circle cx="535.5" cy="489.5" r="1.59" fill="#3a2a36" fill-opacity="0.74"/><circle cx="459.4" cy="369.2" r="1.95" fill="#262022" fill-opacity="0.74"/><circle cx="443.9" cy="422.1" r="1.62" fill="#3a2a36" fill-opacity="0.93"/><circle cx="489.7" cy="342.8" r="1.16" fill="#2d2729" fill-opacity="0.78"/><circle cx="444.1" cy="465.3" r="1.65" fill="#4a2a42" fill-opacity="0.78"/><circle cx="662.7" cy="291.1" r="1.73" fill="#262022" fill-opacity="0.82"/><circle cx="553.4" cy="556.7" r="1.02" fill="#4a2a42" fill-opacity="1.00"/><circle cx="465.0" cy="396.4" r="1.35" fill="#4a2a42" fill-opacity="0.91"/><circle cx="671.3" cy="296.5" r="1.32" fill="#312b2d" fill-opacity="0.80"/><circle cx="539.5" cy="291.9" r="1.67" fill="#2a2527" fill-opacity="0.73"/><circle cx="524.3" cy="307.8" r="1.03" fill="#262022" fill-opacity="0.96"/><circle cx="689.2" cy="479.1" r="1.03" fill="#2d2729" fill-opacity="0.72"/><circle cx="480.4" cy="458.7" r="1.01" fill="#2d2729" fill-opacity="0.71"/><circle cx="531.1" cy="491.1" r="1.19" fill="#2a2527" fill-opacity="0.87"/><circle cx="717.6" cy="498.0" r="1.02" fill="#2d2729" fill-opacity="0.81"/><circle cx="656.3" cy="454.1" r="1.40" fill="#2a2527" fill-opacity="0.86"/><circle cx="462.0" cy="469.7" r="1.68" fill="#312b2d" fill-opacity="0.97"/><circle cx="699.9" cy="460.5" r="1.36" fill="#2d2729" fill-opacity="0.82"/><circle cx="556.1" cy="539.6" r="1.43" fill="#2d2729" fill-opacity="0.88"/><circle cx="734.9" cy="417.7" r="1.04" fill="#3a2a36" fill-opacity="0.95"/><circle cx="708.9" cy="328.5" r="1.56" fill="#3a2a36" fill-opacity="0.71"/><circle cx="499.0" cy="426.1" r="1.13" fill="#262022" fill-opacity="0.73"/><circle cx="654.4" cy="466.6" r="1.15" fill="#312b2d" fill-opacity="0.96"/><circle cx="632.2" cy="387.8" r="1.23" fill="#312b2d" fill-opacity="0.72"/><circle cx="739.8" cy="389.5" r="1.15" fill="#3a2a36" fill-opacity="0.93"/><circle cx="631.7" cy="483.3" r="1.32" fill="#4a2a42" fill-opacity="0.99"/><circle cx="519.1" cy="432.5" r="1.68" fill="#2a2527" fill-opacity="0.92"/><circle cx="614.9" cy="538.9" r="1.05" fill="#4a2a42" fill-opacity="0.95"/><circle cx="697.5" cy="386.3" r="1.11" fill="#221e20" fill-opacity="0.90"/><circle cx="683.3" cy="555.8" r="1.00" fill="#312b2d" fill-opacity="1.00"/><circle cx="531.7" cy="386.6" r="1.04" fill="#4a2a42" fill-opacity="1.00"/><circle cx="468.2" cy="491.7" r="1.49" fill="#2a2527" fill-opacity="0.87"/><circle cx="565.1" cy="404.7" r="1.04" fill="#312b2d" fill-opacity="0.89"/><circle cx="701.7" cy="337.7" r="1.10" fill="#262022" fill-opacity="0.83"/><circle cx="677.1" cy="552.0" r="1.00" fill="#262022" fill-opacity="0.77"/><circle cx="710.4" cy="444.9" r="1.00" fill="#2d2729" fill-opacity="0.76"/><circle cx="614.4" cy="448.8" r="1.39" fill="#2d2729" fill-opacity="0.81"/><circle cx="538.6" cy="363.1" r="1.02" fill="#2d2729" fill-opacity="0.87"/><circle cx="738.9" cy="459.5" r="1.15" fill="#2d2729" fill-opacity="0.93"/><circle cx="617.7" cy="359.9" r="1.00" fill="#2d2729" fill-opacity="0.79"/><circle cx="442.3" cy="414.7" r="1.03" fill="#262022" fill-opacity="0.94"/><circle cx="473.9" cy="337.1" r="1.87" fill="#262022" fill-opacity="0.94"/><circle cx="574.6" cy="462.0" r="1.19" fill="#2a2527" fill-opacity="0.80"/><circle cx="505.3" cy="536.8" r="1.74" fill="#4a2a42" fill-opacity="0.71"/><circle cx="524.6" cy="309.3" r="1.35" fill="#3a2a36" fill-opacity="0.87"/><circle cx="484.7" cy="331.5" r="1.24" fill="#2a2527" fill-opacity="0.85"/><circle cx="524.7" cy="523.5" r="1.02" fill="#312b2d" fill-opacity="0.85"/><circle cx="622.0" cy="426.7" r="1.04" fill="#262022" fill-opacity="0.87"/><circle cx="578.0" cy="340.0" r="1.93" fill="#2d2729" fill-opacity="0.77"/><circle cx="487.5" cy="318.6" r="1.14" fill="#4a2a42" fill-opacity="0.97"/><circle cx="543.4" cy="492.3" r="1.83" fill="#262022" fill-opacity="0.97"/><circle cx="529.1" cy="571.2" r="1.06" fill="#2d2729" fill-opacity="0.95"/><circle cx="698.4" cy="529.4" r="1.14" fill="#4a2a42" fill-opacity="0.93"/><circle cx="513.2" cy="445.6" r="1.75" fill="#3a2a36" fill-opacity="0.91"/><circle cx="684.6" cy="402.5" r="1.52" fill="#4a2a42" fill-opacity="0.87"/><circle cx="504.9" cy="554.7" r="1.91" fill="#262022" fill-opacity="0.99"/><circle cx="460.5" cy="509.9" r="1.05" fill="#4a2a42" fill-opacity="0.96"/><circle cx="612.3" cy="483.2" r="1.01" fill="#312b2d" fill-opacity="0.88"/><circle cx="446.2" cy="433.8" r="1.38" fill="#262022" fill-opacity="1.00"/><circle cx="459.8" cy="380.0" r="1.10" fill="#3a2a36" fill-opacity="0.90"/><circle cx="475.4" cy="342.3" r="1.28" fill="#221e20" fill-opacity="0.98"/><circle cx="667.2" cy="402.7" r="1.00" fill="#312b2d" fill-opacity="0.99"/><circle cx="662.7" cy="343.3" r="1.06" fill="#2a2527" fill-opacity="0.73"/><circle cx="745.8" cy="469.0" r="1.34" fill="#2a2527" fill-opacity="0.94"/><circle cx="710.5" cy="495.2" r="1.36" fill="#2a2527" fill-opacity="0.78"/><circle cx="671.5" cy="306.5" r="1.09" fill="#312b2d" fill-opacity="0.92"/><circle cx="629.5" cy="414.5" r="1.81" fill="#312b2d" fill-opacity="0.76"/><circle cx="647.0" cy="555.4" r="1.41" fill="#2d2729" fill-opacity="0.91"/><circle cx="732.2" cy="469.2" r="1.68" fill="#2d2729" fill-opacity="0.83"/><circle cx="656.8" cy="402.8" r="1.23" fill="#3a2a36" fill-opacity="0.94"/><circle cx="442.5" cy="407.3" r="1.01" fill="#2a2527" fill-opacity="0.84"/><circle cx="460.9" cy="454.1" r="1.11" fill="#221e20" fill-opacity="0.96"/><circle cx="444.5" cy="432.8" r="1.31" fill="#221e20" fill-opacity="0.92"/><circle cx="750.0" cy="437.4" r="1.04" fill="#2d2729" fill-opacity="0.96"/><circle cx="595.5" cy="314.3" r="1.17" fill="#262022" fill-opacity="0.85"/><circle cx="664.2" cy="292.5" r="1.08" fill="#4a2a42" fill-opacity="1.00"/><circle cx="622.0" cy="516.6" r="1.01" fill="#2a2527" fill-opacity="0.77"/><circle cx="674.0" cy="468.6" r="1.05" fill="#2a2527" fill-opacity="0.96"/><circle cx="582.9" cy="578.1" r="1.26" fill="#2a2527" fill-opacity="0.74"/><circle cx="471.7" cy="485.6" r="1.01" fill="#3a2a36" fill-opacity="0.81"/><circle cx="628.8" cy="585.9" r="1.03" fill="#262022" fill-opacity="0.78"/><circle cx="649.2" cy="341.0" r="1.53" fill="#2a2527" fill-opacity="0.84"/><circle cx="644.4" cy="566.6" r="1.55" fill="#2a2527" fill-opacity="0.97"/><circle cx="536.7" cy="557.6" r="1.21" fill="#2a2527" fill-opacity="0.82"/><circle cx="661.3" cy="480.2" r="1.04" fill="#221e20" fill-opacity="0.71"/><circle cx="500.9" cy="325.9" r="1.86" fill="#2a2527" fill-opacity="0.78"/><circle cx="505.9" cy="555.5" r="1.44" fill="#4a2a42" fill-opacity="0.77"/><circle cx="730.0" cy="430.7" r="1.73" fill="#4a2a42" fill-opacity="0.75"/><circle cx="584.1" cy="444.9" r="1.72" fill="#262022" fill-opacity="0.74"/><circle cx="710.8" cy="400.3" r="1.84" fill="#4a2a42" fill-opacity="0.92"/><circle cx="679.2" cy="314.1" r="1.00" fill="#2a2527" fill-opacity="0.92"/><circle cx="524.3" cy="437.2" r="1.00" fill="#4a2a42" fill-opacity="0.81"/><circle cx="683.2" cy="333.0" r="1.90" fill="#2a2527" fill-opacity="0.70"/><circle cx="627.8" cy="377.5" r="1.48" fill="#2d2729" fill-opacity="0.78"/><circle cx="710.4" cy="400.4" r="1.02" fill="#2a2527" fill-opacity="0.90"/><circle cx="571.9" cy="526.1" r="1.07" fill="#2a2527" fill-opacity="0.94"/><circle cx="544.2" cy="536.0" r="1.63" fill="#221e20" fill-opacity="0.77"/><circle cx="607.7" cy="275.5" r="1.94" fill="#2d2729" fill-opacity="0.93"/><circle cx="585.8" cy="585.4" r="1.44" fill="#3a2a36" fill-opacity="0.77"/><circle cx="717.3" cy="340.8" r="1.71" fill="#4a2a42" fill-opacity="0.81"/><circle cx="649.7" cy="487.2" r="1.30" fill="#3a2a36" fill-opacity="0.84"/><circle cx="519.1" cy="420.2" r="1.06" fill="#262022" fill-opacity="0.78"/><circle cx="492.5" cy="312.7" r="1.21" fill="#2d2729" fill-opacity="0.81"/><circle cx="689.2" cy="526.9" r="1.69" fill="#2d2729" fill-opacity="0.95"/><circle cx="691.3" cy="425.6" r="1.49" fill="#312b2d" fill-opacity="0.98"/><circle cx="580.1" cy="556.2" r="1.32" fill="#262022" fill-opacity="0.74"/><circle cx="454.8" cy="381.3" r="1.23" fill="#262022" fill-opacity="0.81"/><circle cx="599.4" cy="495.5" r="1.90" fill="#2d2729" fill-opacity="0.91"/><circle cx="466.9" cy="439.7" r="1.02" fill="#262022" fill-opacity="0.77"/><circle cx="660.1" cy="574.8" r="1.74" fill="#2d2729" fill-opacity="0.91"/><circle cx="536.3" cy="303.5" r="1.13" fill="#221e20" fill-opacity="0.91"/><circle cx="443.4" cy="390.9" r="1.62" fill="#312b2d" fill-opacity="0.79"/><circle cx="599.9" cy="439.8" r="1.18" fill="#4a2a42" fill-opacity="0.88"/><circle cx="681.2" cy="311.9" r="1.43" fill="#2d2729" fill-opacity="0.80"/><circle cx="535.9" cy="437.0" r="1.09" fill="#2a2527" fill-opacity="0.85"/><circle cx="493.8" cy="382.1" r="1.00" fill="#3a2a36" fill-opacity="0.96"/></g>
<ellipse cx="594.0" cy="432.4" rx="161.0" ry="162.4" fill="none" stroke="#141514" stroke-width="3.2"/>
</g>
<rect x="430.8" y="248.0" width="365.1" height="357.1" fill="none" stroke="#1c1c1c" stroke-width="3.6"/>
<g clip-path="url(#clipw2)">
<rect x="805.4" y="247.0" width="371.4" height="359.8" fill="#9a9b96"/>
<rect x="805.4" y="247.0" width="371.4" height="359.8" filter="url(#grainD)"/>
<rect x="805.4" y="247.0" width="371.4" height="359.8" filter="url(#grainL)"/>
<circle cx="1196.8" cy="199.0" r="90" fill="none" stroke="#151515" stroke-width="5.5"/>
<circle cx="1196.8" cy="681.8" r="105" fill="none" stroke="#151515" stroke-width="5.5"/>
<circle cx="760.4" cy="212.0" r="75" fill="none" stroke="#151515" stroke-width="6"/>
<circle cx="743.4" cy="648.8" r="72" fill="none" stroke="#151515" stroke-width="6"/>
<polygon points="1124.5,263.3 1140.5,278.6 1119.4,286.3" fill="#cdcecb" stroke="#6c6d6a" stroke-width="0.8"/>
<path d="M1149.8,250.0 v7 a4.5,4.5 0 0 0 9,0 v-7" fill="#c9cac6" stroke="#3a3a3a" stroke-width="1.2"/>
<circle cx="970.5" cy="435.8" r="201.5" fill="url(#ringg2)"/>
<circle cx="970.5" cy="435.8" r="201.5" fill="none" stroke="#121312" stroke-width="5.5"/>
<ellipse cx="972.0" cy="435.3" rx="161.5" ry="162.0" fill="#c9c9c6"/>
<g clip-path="url(#clipd2)"><rect x="810.5" y="273.3" width="323.0" height="324.0" filter="url(#grainL)" opacity="0.25"/><rect x="810.5" y="273.3" width="323.0" height="324.0" filter="url(#grainD)" opacity="0.15"/></g>
<g filter="url(#soft)"><circle cx="931.9" cy="335.0" r="1.72" fill="#2a2527" fill-opacity="0.72"/><circle cx="1018.1" cy="487.5" r="1.80" fill="#4a2a42" fill-opacity="0.90"/><circle cx="900.6" cy="316.3" r="1.45" fill="#262022" fill-opacity="0.76"/><circle cx="820.7" cy="395.1" r="1.89" fill="#2d2729" fill-opacity="0.78"/><circle cx="945.3" cy="552.0" r="1.40" fill="#4a2a42" fill-opacity="0.88"/><circle cx="892.1" cy="537.8" r="1.36" fill="#312b2d" fill-opacity="0.80"/><circle cx="861.6" cy="410.4" r="1.16" fill="#312b2d" fill-opacity="0.80"/><circle cx="1038.3" cy="304.8" r="1.01" fill="#312b2d" fill-opacity="0.79"/><circle cx="989.2" cy="456.6" r="1.54" fill="#312b2d" fill-opacity="0.82"/><circle cx="868.7" cy="426.5" r="1.02" fill="#4a2a42" fill-opacity="0.93"/><circle cx="972.0" cy="588.1" r="1.10" fill="#221e20" fill-opacity="0.73"/><circle cx="992.1" cy="308.0" r="1.66" fill="#2a2527" fill-opacity="0.91"/><circle cx="977.1" cy="367.6" r="1.62" fill="#2d2729" fill-opacity="0.73"/><circle cx="957.4" cy="324.8" r="1.36" fill="#4a2a42" fill-opacity="0.97"/><circle cx="959.1" cy="575.4" r="1.23" fill="#2a2527" fill-opacity="0.98"/><circle cx="988.1" cy="355.0" r="1.00" fill="#262022" fill-opacity="0.94"/><circle cx="820.6" cy="435.8" r="1.22" fill="#2a2527" fill-opacity="0.97"/><circle cx="1083.4" cy="524.7" r="1.92" fill="#2a2527" fill-opacity="0.82"/><circle cx="1040.3" cy="472.1" r="1.05" fill="#312b2d" fill-opacity="0.94"/><circle cx="944.5" cy="494.7" r="1.36" fill="#2d2729" fill-opacity="0.74"/><circle cx="1071.5" cy="503.4" r="1.75" fill="#2a2527" fill-opacity="0.94"/><circle cx="935.2" cy="579.9" r="1.14" fill="#262022" fill-opacity="0.82"/><circle cx="1052.3" cy="454.5" r="1.15" fill="#4a2a42" fill-opacity="0.76"/><circle cx="1004.4" cy="430.9" r="1.31" fill="#4a2a42" fill-opacity="0.90"/><circle cx="1038.8" cy="495.5" r="1.00" fill="#4a2a42" fill-opacity="0.74"/><circle cx="979.3" cy="517.2" r="1.30" fill="#221e20" fill-opacity="0.88"/><circle cx="1018.9" cy="343.9" r="1.08" fill="#2a2527" fill-opacity="0.78"/><circle cx="1075.0" cy="547.7" r="1.01" fill="#312b2d" fill-opacity="0.71"/><circle cx="817.2" cy="441.8" r="1.00" fill="#262022" fill-opacity="0.77"/><circle cx="1122.5" cy="446.7" r="1.30" fill="#262022" fill-opacity="0.72"/><circle cx="870.7" cy="315.5" r="1.36" fill="#4a2a42" fill-opacity="0.75"/><circle cx="1020.3" cy="570.8" r="1.00" fill="#221e20" fill-opacity="0.90"/><circle cx="1027.3" cy="465.7" r="1.67" fill="#3a2a36" fill-opacity="0.72"/><circle cx="944.1" cy="407.4" r="1.47" fill="#3a2a36" fill-opacity="0.96"/><circle cx="995.1" cy="330.4" r="1.07" fill="#3a2a36" fill-opacity="0.83"/><circle cx="971.8" cy="320.2" r="1.10" fill="#312b2d" fill-opacity="0.80"/><circle cx="1080.7" cy="332.5" r="1.05" fill="#4a2a42" fill-opacity="0.81"/><circle cx="1011.9" cy="578.3" r="1.83" fill="#4a2a42" fill-opacity="0.94"/><circle cx="914.2" cy="501.1" r="1.30" fill="#312b2d" fill-opacity="0.74"/><circle cx="957.4" cy="428.7" r="1.01" fill="#262022" fill-opacity="0.76"/><circle cx="954.5" cy="316.0" r="1.05" fill="#262022" fill-opacity="0.89"/><circle cx="1079.3" cy="396.6" r="1.03" fill="#221e20" fill-opacity="0.72"/><circle cx="902.6" cy="373.9" r="1.09" fill="#262022" fill-opacity="0.75"/><circle cx="1081.1" cy="322.6" r="1.67" fill="#221e20" fill-opacity="0.76"/><circle cx="827.5" cy="479.1" r="1.18" fill="#3a2a36" fill-opacity="0.78"/><circle cx="948.4" cy="355.3" r="2.00" fill="#262022" fill-opacity="0.85"/><circle cx="970.7" cy="519.5" r="1.01" fill="#312b2d" fill-opacity="0.81"/><circle cx="987.1" cy="468.7" r="1.21" fill="#2d2729" fill-opacity="0.75"/><circle cx="840.5" cy="373.6" r="1.85" fill="#4a2a42" fill-opacity="0.87"/><circle cx="1024.6" cy="464.1" r="1.08" fill="#2a2527" fill-opacity="0.90"/><circle cx="1051.3" cy="426.8" r="1.00" fill="#312b2d" fill-opacity="0.91"/><circle cx="993.6" cy="386.5" r="1.09" fill="#262022" fill-opacity="0.73"/><circle cx="951.2" cy="441.0" r="1.07" fill="#3a2a36" fill-opacity="0.89"/><circle cx="1115.8" cy="400.0" r="1.95" fill="#221e20" fill-opacity="0.72"/><circle cx="1050.9" cy="372.9" r="1.61" fill="#312b2d" fill-opacity="0.93"/><circle cx="858.3" cy="450.7" r="1.08" fill="#262022" fill-opacity="0.97"/><circle cx="1072.6" cy="494.7" r="1.13" fill="#4a2a42" fill-opacity="0.76"/><circle cx="1022.1" cy="306.7" r="1.99" fill="#2d2729" fill-opacity="0.93"/><circle cx="927.8" cy="370.9" r="1.76" fill="#4a2a42" fill-opacity="0.99"/><circle cx="883.4" cy="416.2" r="1.67" fill="#2a2527" fill-opacity="0.72"/><circle cx="1019.5" cy="293.0" r="1.00" fill="#4a2a42" fill-opacity="0.97"/><circle cx="883.9" cy="536.8" r="1.35" fill="#312b2d" fill-opacity="1.00"/><circle cx="1085.3" cy="542.4" r="1.88" fill="#312b2d" fill-opacity="0.98"/><circle cx="884.2" cy="337.0" r="1.39" fill="#262022" fill-opacity="0.77"/><circle cx="1072.1" cy="314.4" r="1.03" fill="#312b2d" fill-opacity="0.88"/><circle cx="955.8" cy="280.7" r="1.98" fill="#312b2d" fill-opacity="0.89"/><circle cx="983.1" cy="419.6" r="1.20" fill="#4a2a42" fill-opacity="0.73"/><circle cx="830.0" cy="373.2" r="1.45" fill="#221e20" fill-opacity="0.77"/><circle cx="1100.9" cy="498.2" r="1.20" fill="#3a2a36" fill-opacity="0.75"/><circle cx="952.1" cy="559.0" r="1.52" fill="#262022" fill-opacity="0.75"/><circle cx="876.4" cy="419.5" r="1.04" fill="#4a2a42" fill-opacity="0.75"/><circle cx="1088.5" cy="506.4" r="1.13" fill="#2d2729" fill-opacity="0.92"/><circle cx="877.7" cy="419.9" r="1.01" fill="#221e20" fill-opacity="0.95"/><circle cx="928.6" cy="337.6" r="1.81" fill="#3a2a36" fill-opacity="0.82"/><circle cx="958.0" cy="556.5" r="1.74" fill="#2d2729" fill-opacity="0.84"/><circle cx="1084.1" cy="508.7" r="1.43" fill="#2a2527" fill-opacity="0.93"/><circle cx="1105.9" cy="378.8" r="1.03" fill="#221e20" fill-opacity="0.94"/><circle cx="895.2" cy="342.2" r="1.43" fill="#3a2a36" fill-opacity="0.79"/><circle cx="906.4" cy="294.9" r="1.17" fill="#3a2a36" fill-opacity="0.74"/><circle cx="993.9" cy="498.8" r="1.04" fill="#3a2a36" fill-opacity="0.94"/><circle cx="935.1" cy="585.0" r="1.58" fill="#4a2a42" fill-opacity="0.79"/><circle cx="892.2" cy="320.4" r="1.58" fill="#3a2a36" fill-opacity="0.88"/><circle cx="899.3" cy="542.7" r="1.26" fill="#262022" fill-opacity="0.80"/><circle cx="1110.3" cy="424.5" r="1.05" fill="#4a2a42" fill-opacity="0.80"/><circle cx="1111.9" cy="434.1" r="1.11" fill="#262022" fill-opacity="0.77"/><circle cx="1043.4" cy="301.5" r="1.00" fill="#262022" fill-opacity="0.75"/><circle cx="941.1" cy="465.3" r="1.53" fill="#312b2d" fill-opacity="0.94"/><circle cx="972.6" cy="576.7" r="1.36" fill="#3a2a36" fill-opacity="0.97"/><circle cx="951.5" cy="323.8" r="1.52" fill="#2a2527" fill-opacity="0.71"/><circle cx="965.4" cy="360.0" r="1.07" fill="#2d2729" fill-opacity="0.78"/><circle cx="956.1" cy="572.5" r="1.89" fill="#3a2a36" fill-opacity="0.71"/><circle cx="1076.6" cy="336.8" r="1.06" fill="#3a2a36" fill-opacity="0.72"/><circle cx="832.6" cy="403.7" r="1.25" fill="#262022" fill-opacity="0.92"/><circle cx="968.2" cy="426.2" r="1.16" fill="#4a2a42" fill-opacity="0.70"/><circle cx="1061.9" cy="556.1" r="1.39" fill="#312b2d" fill-opacity="0.73"/><circle cx="926.5" cy="470.6" r="1.55" fill="#221e20" fill-opacity="0.98"/><circle cx="1050.9" cy="299.6" r="1.73" fill="#3a2a36" fill-opacity="0.91"/><circle cx="932.3" cy="580.1" r="1.05" fill="#2a2527" fill-opacity="0.91"/><circle cx="1086.2" cy="332.9" r="1.06" fill="#221e20" fill-opacity="1.00"/><circle cx="988.6" cy="535.8" r="1.07" fill="#262022" fill-opacity="0.80"/><circle cx="1038.2" cy="306.1" r="1.00" fill="#221e20" fill-opacity="0.91"/><circle cx="1043.7" cy="564.4" r="1.81" fill="#3a2a36" fill-opacity="0.85"/><circle cx="861.1" cy="418.0" r="1.05" fill="#312b2d" fill-opacity="0.92"/><circle cx="865.8" cy="463.0" r="1.30" fill="#4a2a42" fill-opacity="0.84"/><circle cx="836.2" cy="422.5" r="1.63" fill="#2a2527" fill-opacity="0.74"/><circle cx="1112.1" cy="473.1" r="1.03" fill="#4a2a42" fill-opacity="0.87"/><circle cx="949.2" cy="495.0" r="1.51" fill="#262022" fill-opacity="0.93"/><circle cx="894.3" cy="366.8" r="1.50" fill="#4a2a42" fill-opacity="0.84"/><circle cx="988.5" cy="507.0" r="1.01" fill="#2a2527" fill-opacity="0.82"/><circle cx="1067.6" cy="361.8" r="1.15" fill="#262022" fill-opacity="0.89"/><circle cx="883.6" cy="376.6" r="1.74" fill="#312b2d" fill-opacity="0.93"/><circle cx="1114.3" cy="467.5" r="1.26" fill="#312b2d" fill-opacity="0.83"/><circle cx="908.9" cy="311.1" r="1.05" fill="#221e20" fill-opacity="0.76"/><circle cx="1106.0" cy="496.4" r="1.82" fill="#2a2527" fill-opacity="0.77"/><circle cx="1089.2" cy="357.2" r="1.41" fill="#262022" fill-opacity="0.83"/><circle cx="894.0" cy="303.6" r="1.00" fill="#2a2527" fill-opacity="0.96"/><circle cx="1105.1" cy="367.9" r="1.25" fill="#3a2a36" fill-opacity="0.94"/><circle cx="908.7" cy="306.5" r="1.30" fill="#2a2527" fill-opacity="0.87"/><circle cx="1095.8" cy="346.7" r="1.58" fill="#2d2729" fill-opacity="0.91"/><circle cx="857.7" cy="449.6" r="1.46" fill="#221e20" fill-opacity="0.96"/><circle cx="1025.8" cy="402.1" r="1.74" fill="#2a2527" fill-opacity="0.86"/><circle cx="878.2" cy="363.9" r="1.29" fill="#4a2a42" fill-opacity="0.95"/><circle cx="1102.0" cy="351.0" r="1.24" fill="#2a2527" fill-opacity="0.91"/><circle cx="879.6" cy="544.8" r="2.00" fill="#2a2527" fill-opacity="0.98"/><circle cx="836.6" cy="461.1" r="1.75" fill="#221e20" fill-opacity="0.93"/><circle cx="831.9" cy="428.5" r="1.93" fill="#2d2729" fill-opacity="0.99"/><circle cx="1110.6" cy="508.5" r="1.84" fill="#2a2527" fill-opacity="0.70"/><circle cx="1062.8" cy="310.4" r="1.18" fill="#4a2a42" fill-opacity="0.72"/><circle cx="1065.1" cy="553.6" r="1.30" fill="#2a2527" fill-opacity="0.86"/><circle cx="861.6" cy="529.8" r="1.12" fill="#262022" fill-opacity="0.74"/><circle cx="1047.6" cy="552.2" r="1.05" fill="#262022" fill-opacity="0.88"/><circle cx="906.8" cy="345.1" r="1.46" fill="#2a2527" fill-opacity="0.93"/><circle cx="907.9" cy="447.5" r="1.56" fill="#2d2729" fill-opacity="0.87"/><circle cx="970.5" cy="505.4" r="1.42" fill="#221e20" fill-opacity="0.95"/><circle cx="866.6" cy="433.6" r="1.08" fill="#262022" fill-opacity="0.75"/><circle cx="913.8" cy="293.0" r="1.68" fill="#2d2729" fill-opacity="0.74"/><circle cx="937.6" cy="492.6" r="1.66" fill="#2d2729" fill-opacity="0.98"/><circle cx="1091.8" cy="507.2" r="1.01" fill="#221e20" fill-opacity="0.91"/><circle cx="949.0" cy="564.6" r="1.13" fill="#221e20" fill-opacity="0.93"/><circle cx="936.6" cy="294.0" r="1.36" fill="#3a2a36" fill-opacity="0.81"/><circle cx="1070.0" cy="461.9" r="1.02" fill="#2a2527" fill-opacity="0.77"/><circle cx="848.2" cy="433.4" r="1.29" fill="#221e20" fill-opacity="0.73"/><circle cx="822.3" cy="401.4" r="1.48" fill="#3a2a36" fill-opacity="0.88"/><circle cx="887.3" cy="556.7" r="1.00" fill="#2d2729" fill-opacity="0.96"/><circle cx="1055.0" cy="523.5" r="1.91" fill="#221e20" fill-opacity="0.82"/><circle cx="913.1" cy="367.2" r="1.45" fill="#262022" fill-opacity="0.91"/><circle cx="1031.7" cy="550.0" r="1.16" fill="#2d2729" fill-opacity="0.80"/><circle cx="965.1" cy="592.3" r="1.00" fill="#2d2729" fill-opacity="0.73"/><circle cx="835.9" cy="357.5" r="1.50" fill="#2d2729" fill-opacity="0.79"/><circle cx="1036.4" cy="481.8" r="1.88" fill="#2a2527" fill-opacity="0.88"/><circle cx="1067.1" cy="453.3" r="1.54" fill="#262022" fill-opacity="0.84"/><circle cx="830.1" cy="501.8" r="1.39" fill="#3a2a36" fill-opacity="0.83"/><circle cx="870.8" cy="331.0" r="1.01" fill="#2a2527" fill-opacity="0.96"/><circle cx="1030.0" cy="289.4" r="1.14" fill="#262022" fill-opacity="0.83"/><circle cx="913.1" cy="289.7" r="1.00" fill="#3a2a36" fill-opacity="0.73"/><circle cx="849.1" cy="513.3" r="1.11" fill="#3a2a36" fill-opacity="0.85"/><circle cx="966.8" cy="297.7" r="1.55" fill="#262022" fill-opacity="1.00"/><circle cx="1032.5" cy="435.3" r="1.11" fill="#312b2d" fill-opacity="0.80"/><circle cx="1008.1" cy="459.6" r="1.01" fill="#262022" fill-opacity="0.78"/><circle cx="1070.2" cy="496.4" r="1.19" fill="#3a2a36" fill-opacity="0.99"/><circle cx="1106.4" cy="491.9" r="1.05" fill="#3a2a36" fill-opacity="0.76"/><circle cx="1040.0" cy="576.8" r="1.85" fill="#2a2527" fill-opacity="0.83"/><circle cx="1027.4" cy="532.5" r="1.17" fill="#221e20" fill-opacity="0.83"/><circle cx="1014.4" cy="470.9" r="1.82" fill="#2a2527" fill-opacity="0.85"/><circle cx="940.2" cy="580.8" r="1.88" fill="#2a2527" fill-opacity="0.74"/><circle cx="958.3" cy="321.4" r="1.56" fill="#4a2a42" fill-opacity="0.72"/><circle cx="858.6" cy="352.5" r="1.35" fill="#262022" fill-opacity="0.79"/><circle cx="958.0" cy="399.5" r="1.00" fill="#2d2729" fill-opacity="0.74"/><circle cx="1080.9" cy="536.2" r="1.14" fill="#2a2527" fill-opacity="0.98"/><circle cx="992.2" cy="349.3" r="1.35" fill="#3a2a36" fill-opacity="1.00"/><circle cx="901.5" cy="471.6" r="1.26" fill="#312b2d" fill-opacity="0.84"/><circle cx="876.0" cy="369.6" r="1.05" fill="#221e20" fill-opacity="0.83"/><circle cx="831.1" cy="376.9" r="1.07" fill="#221e20" fill-opacity="0.93"/><circle cx="955.8" cy="588.4" r="1.29" fill="#262022" fill-opacity="0.76"/><circle cx="1099.2" cy="367.5" r="1.06" fill="#221e20" fill-opacity="0.83"/><circle cx="851.6" cy="338.8" r="1.00" fill="#2d2729" fill-opacity="0.95"/><circle cx="1093.0" cy="348.2" r="1.01" fill="#4a2a42" fill-opacity="0.92"/><circle cx="991.8" cy="403.4" r="1.14" fill="#221e20" fill-opacity="0.86"/><circle cx="1088.7" cy="381.5" r="1.80" fill="#3a2a36" fill-opacity="0.79"/><circle cx="830.9" cy="427.5" r="1.00" fill="#2d2729" fill-opacity="0.85"/><circle cx="1069.6" cy="499.3" r="1.02" fill="#3a2a36" fill-opacity="0.94"/><circle cx="1042.8" cy="308.8" r="1.19" fill="#312b2d" fill-opacity="0.86"/><circle cx="926.2" cy="386.5" r="1.07" fill="#312b2d" fill-opacity="0.91"/><circle cx="990.5" cy="412.0" r="1.74" fill="#262022" fill-opacity="0.80"/><circle cx="913.2" cy="514.0" r="1.96" fill="#2d2729" fill-opacity="0.90"/><circle cx="977.3" cy="576.4" r="1.00" fill="#4a2a42" fill-opacity="0.76"/><circle cx="1029.9" cy="297.4" r="1.04" fill="#3a2a36" fill-opacity="0.90"/><circle cx="1122.1" cy="451.8" r="1.74" fill="#2d2729" fill-opacity="0.72"/><circle cx="1015.0" cy="481.5" r="1.54" fill="#3a2a36" fill-opacity="0.76"/><circle cx="826.4" cy="403.3" r="1.41" fill="#3a2a36" fill-opacity="0.71"/><circle cx="826.4" cy="451.9" r="1.45" fill="#2d2729" fill-opacity="0.84"/><circle cx="957.0" cy="368.2" r="1.07" fill="#4a2a42" fill-opacity="0.74"/><circle cx="1118.2" cy="484.1" r="1.01" fill="#312b2d" fill-opacity="0.98"/><circle cx="906.2" cy="426.5" r="1.10" fill="#262022" fill-opacity="0.99"/><circle cx="904.9" cy="508.2" r="1.37" fill="#262022" fill-opacity="0.79"/><circle cx="939.4" cy="298.7" r="1.00" fill="#3a2a36" fill-opacity="0.72"/><circle cx="821.0" cy="420.2" r="1.76" fill="#4a2a42" fill-opacity="0.82"/><circle cx="1025.4" cy="337.8" r="1.69" fill="#312b2d" fill-opacity="0.75"/><circle cx="829.4" cy="378.9" r="1.53" fill="#2a2527" fill-opacity="0.82"/><circle cx="825.9" cy="409.9" r="1.05" fill="#221e20" fill-opacity="0.99"/><circle cx="1113.3" cy="371.0" r="1.09" fill="#312b2d" fill-opacity="0.75"/><circle cx="830.4" cy="392.2" r="1.01" fill="#3a2a36" fill-opacity="0.72"/><circle cx="996.6" cy="280.1" r="1.49" fill="#4a2a42" fill-opacity="0.95"/><circle cx="1108.9" cy="481.5" r="1.02" fill="#2d2729" fill-opacity="0.82"/><circle cx="964.8" cy="541.1" r="1.68" fill="#4a2a42" fill-opacity="0.82"/><circle cx="864.3" cy="507.1" r="1.43" fill="#2a2527" fill-opacity="0.83"/><circle cx="981.5" cy="577.9" r="1.60" fill="#262022" fill-opacity="0.98"/><circle cx="1066.3" cy="363.1" r="1.74" fill="#221e20" fill-opacity="0.99"/><circle cx="1009.8" cy="578.3" r="1.03" fill="#221e20" fill-opacity="0.91"/><circle cx="1036.6" cy="318.4" r="1.29" fill="#3a2a36" fill-opacity="0.99"/><circle cx="1091.5" cy="345.1" r="1.49" fill="#2d2729" fill-opacity="0.91"/><circle cx="888.1" cy="452.3" r="1.29" fill="#262022" fill-opacity="0.96"/><circle cx="1105.8" cy="379.4" r="1.01" fill="#4a2a42" fill-opacity="0.78"/><circle cx="894.4" cy="518.5" r="1.55" fill="#4a2a42" fill-opacity="0.83"/><circle cx="1076.6" cy="325.7" r="1.12" fill="#4a2a42" fill-opacity="0.98"/><circle cx="1045.9" cy="439.7" r="1.22" fill="#4a2a42" fill-opacity="0.81"/><circle cx="1092.0" cy="334.4" r="1.01" fill="#262022" fill-opacity="0.84"/><circle cx="1024.0" cy="348.1" r="1.12" fill="#3a2a36" fill-opacity="0.78"/><circle cx="938.8" cy="523.9" r="1.30" fill="#2d2729" fill-opacity="0.82"/><circle cx="913.4" cy="557.0" r="1.75" fill="#2a2527" fill-opacity="0.75"/><circle cx="1028.1" cy="346.6" r="1.15" fill="#4a2a42" fill-opacity="0.94"/><circle cx="1007.1" cy="523.1" r="1.96" fill="#2a2527" fill-opacity="0.93"/><circle cx="1035.1" cy="561.5" r="1.07" fill="#262022" fill-opacity="0.88"/><circle cx="975.5" cy="582.0" r="1.06" fill="#2d2729" fill-opacity="0.82"/><circle cx="842.5" cy="504.3" r="1.52" fill="#3a2a36" fill-opacity="0.81"/><circle cx="998.8" cy="585.2" r="1.00" fill="#262022" fill-opacity="0.95"/><circle cx="864.6" cy="500.8" r="1.42" fill="#2d2729" fill-opacity="0.97"/><circle cx="1111.6" cy="424.5" r="1.09" fill="#221e20" fill-opacity="0.82"/><circle cx="1119.0" cy="381.1" r="1.00" fill="#221e20" fill-opacity="0.93"/><circle cx="1076.4" cy="461.1" r="1.34" fill="#221e20" fill-opacity="0.83"/><circle cx="943.8" cy="282.2" r="1.06" fill="#4a2a42" fill-opacity="0.89"/><circle cx="939.8" cy="564.4" r="1.39" fill="#262022" fill-opacity="0.76"/><circle cx="1054.4" cy="565.1" r="1.39" fill="#2d2729" fill-opacity="0.81"/><circle cx="955.6" cy="587.1" r="1.52" fill="#2d2729" fill-opacity="1.00"/><circle cx="874.7" cy="351.8" r="1.06" fill="#2d2729" fill-opacity="0.96"/><circle cx="950.9" cy="438.0" r="1.62" fill="#262022" fill-opacity="0.88"/><circle cx="975.1" cy="279.7" r="1.80" fill="#2d2729" fill-opacity="0.96"/><circle cx="1086.1" cy="504.9" r="1.08" fill="#3a2a36" fill-opacity="0.75"/><circle cx="965.0" cy="451.8" r="1.60" fill="#2a2527" fill-opacity="0.82"/><circle cx="851.0" cy="508.8" r="2.00" fill="#4a2a42" fill-opacity="0.96"/><circle cx="1056.1" cy="547.4" r="1.00" fill="#2d2729" fill-opacity="0.95"/><circle cx="926.8" cy="457.7" r="1.05" fill="#221e20" fill-opacity="0.99"/><circle cx="1057.8" cy="392.5" r="1.22" fill="#312b2d" fill-opacity="0.89"/><circle cx="937.7" cy="434.2" r="1.88" fill="#4a2a42" fill-opacity="0.73"/><circle cx="948.1" cy="583.8" r="1.88" fill="#221e20" fill-opacity="0.82"/><circle cx="960.2" cy="497.9" r="1.00" fill="#221e20" fill-opacity="0.81"/><circle cx="821.8" cy="432.8" r="1.21" fill="#2d2729" fill-opacity="0.99"/><circle cx="973.7" cy="348.4" r="1.63" fill="#262022" fill-opacity="0.95"/><circle cx="891.7" cy="315.6" r="1.98" fill="#3a2a36" fill-opacity="0.74"/><circle cx="903.4" cy="455.5" r="1.70" fill="#4a2a42" fill-opacity="0.97"/><circle cx="977.3" cy="374.7" r="1.49" fill="#4a2a42" fill-opacity="0.97"/><circle cx="834.1" cy="461.5" r="1.85" fill="#3a2a36" fill-opacity="0.86"/><circle cx="848.2" cy="416.4" r="1.00" fill="#221e20" fill-opacity="0.84"/><circle cx="831.2" cy="481.6" r="1.95" fill="#4a2a42" fill-opacity="0.96"/><circle cx="828.8" cy="465.4" r="1.75" fill="#2d2729" fill-opacity="0.86"/><circle cx="1101.7" cy="361.1" r="1.45" fill="#4a2a42" fill-opacity="0.84"/><circle cx="1029.4" cy="420.5" r="1.13" fill="#262022" fill-opacity="0.71"/><circle cx="1064.3" cy="542.2" r="1.44" fill="#262022" fill-opacity="0.88"/><circle cx="1016.8" cy="355.7" r="1.11" fill="#2a2527" fill-opacity="0.92"/><circle cx="1072.6" cy="338.8" r="1.02" fill="#4a2a42" fill-opacity="0.85"/><circle cx="1044.1" cy="574.7" r="1.71" fill="#3a2a36" fill-opacity="0.99"/><circle cx="1030.8" cy="406.0" r="1.70" fill="#221e20" fill-opacity="0.96"/><circle cx="818.9" cy="463.6" r="1.64" fill="#2d2729" fill-opacity="0.98"/><circle cx="914.4" cy="457.1" r="1.01" fill="#2d2729" fill-opacity="0.73"/><circle cx="953.6" cy="327.0" r="1.09" fill="#2a2527" fill-opacity="0.90"/><circle cx="849.4" cy="421.9" r="1.28" fill="#3a2a36" fill-opacity="0.83"/><circle cx="1105.0" cy="499.9" r="1.72" fill="#4a2a42" fill-opacity="0.98"/><circle cx="858.5" cy="409.5" r="1.42" fill="#2a2527" fill-opacity="0.84"/><circle cx="946.9" cy="370.8" r="1.33" fill="#262022" fill-opacity="0.80"/><circle cx="889.6" cy="497.7" r="1.00" fill="#4a2a42" fill-opacity="0.76"/><circle cx="1099.1" cy="469.0" r="1.79" fill="#2d2729" fill-opacity="0.71"/><circle cx="887.4" cy="426.6" r="1.92" fill="#2a2527" fill-opacity="0.87"/><circle cx="869.5" cy="451.7" r="1.27" fill="#2d2729" fill-opacity="0.99"/><circle cx="952.0" cy="449.7" r="1.65" fill="#312b2d" fill-opacity="0.94"/><circle cx="816.2" cy="431.6" r="1.26" fill="#262022" fill-opacity="0.90"/><circle cx="1063.9" cy="500.1" r="1.67" fill="#2d2729" fill-opacity="0.88"/><circle cx="910.2" cy="551.3" r="1.57" fill="#2d2729" fill-opacity="0.99"/><circle cx="913.7" cy="321.4" r="1.56" fill="#4a2a42" fill-opacity="0.99"/><circle cx="903.0" cy="550.3" r="1.66" fill="#2d2729" fill-opacity="0.96"/><circle cx="1058.1" cy="549.9" r="1.40" fill="#3a2a36" fill-opacity="0.89"/><circle cx="986.0" cy="467.0" r="1.30" fill="#2d2729" fill-opacity="0.97"/><circle cx="870.1" cy="554.3" r="1.11" fill="#4a2a42" fill-opacity="0.75"/><circle cx="1078.6" cy="439.4" r="1.33" fill="#262022" fill-opacity="0.95"/><circle cx="955.8" cy="569.0" r="1.00" fill="#312b2d" fill-opacity="0.89"/><circle cx="1103.4" cy="499.8" r="1.02" fill="#2a2527" fill-opacity="0.70"/><circle cx="1058.7" cy="337.9" r="1.59" fill="#312b2d" fill-opacity="0.97"/><circle cx="1010.5" cy="472.0" r="1.26" fill="#3a2a36" fill-opacity="0.77"/><circle cx="1112.1" cy="434.5" r="1.44" fill="#262022" fill-opacity="0.82"/><circle cx="1003.1" cy="295.9" r="1.28" fill="#2d2729" fill-opacity="0.84"/><circle cx="1030.1" cy="486.9" r="1.03" fill="#221e20" fill-opacity="0.94"/><circle cx="920.5" cy="301.6" r="1.01" fill="#2d2729" fill-opacity="0.71"/><circle cx="859.3" cy="432.0" r="1.38" fill="#3a2a36" fill-opacity="0.86"/><circle cx="1111.6" cy="440.8" r="1.04" fill="#3a2a36" fill-opacity="0.73"/><circle cx="944.9" cy="474.3" r="1.29" fill="#221e20" fill-opacity="0.89"/><circle cx="886.4" cy="307.8" r="1.29" fill="#3a2a36" fill-opacity="0.90"/><circle cx="1047.8" cy="550.3" r="1.62" fill="#2d2729" fill-opacity="0.95"/><circle cx="979.6" cy="592.2" r="1.12" fill="#262022" fill-opacity="0.94"/><circle cx="1118.3" cy="470.2" r="1.81" fill="#262022" fill-opacity="0.90"/><circle cx="840.9" cy="475.8" r="1.23" fill="#2d2729" fill-opacity="0.93"/><circle cx="821.2" cy="418.6" r="1.00" fill="#3a2a36" fill-opacity="0.71"/><circle cx="849.4" cy="522.8" r="1.06" fill="#4a2a42" fill-opacity="1.00"/><circle cx="982.1" cy="552.0" r="1.04" fill="#221e20" fill-opacity="0.75"/><circle cx="888.4" cy="302.4" r="1.37" fill="#4a2a42" fill-opacity="0.99"/><circle cx="900.7" cy="309.6" r="1.76" fill="#262022" fill-opacity="0.71"/><circle cx="978.8" cy="366.4" r="1.09" fill="#3a2a36" fill-opacity="0.95"/><circle cx="966.6" cy="451.6" r="1.27" fill="#312b2d" fill-opacity="0.79"/><circle cx="1032.1" cy="304.3" r="1.00" fill="#312b2d" fill-opacity="0.82"/><circle cx="986.6" cy="590.9" r="1.16" fill="#221e20" fill-opacity="0.94"/><circle cx="833.3" cy="478.8" r="1.83" fill="#4a2a42" fill-opacity="0.72"/><circle cx="1115.1" cy="481.7" r="1.03" fill="#2d2729" fill-opacity="0.87"/><circle cx="901.4" cy="296.6" r="1.05" fill="#262022" fill-opacity="0.94"/><circle cx="914.8" cy="564.1" r="1.40" fill="#3a2a36" fill-opacity="0.92"/><circle cx="1019.5" cy="385.4" r="1.01" fill="#221e20" fill-opacity="0.90"/><circle cx="985.4" cy="430.0" r="1.08" fill="#2d2729" fill-opacity="0.89"/><circle cx="945.5" cy="280.5" r="1.06" fill="#262022" fill-opacity="0.97"/><circle cx="817.7" cy="429.3" r="1.69" fill="#4a2a42" fill-opacity="0.95"/><circle cx="1084.4" cy="543.0" r="1.58" fill="#312b2d" fill-opacity="0.91"/><circle cx="905.9" cy="558.5" r="1.69" fill="#221e20" fill-opacity="0.94"/><circle cx="997.3" cy="325.2" r="1.57" fill="#221e20" fill-opacity="0.92"/><circle cx="952.8" cy="279.8" r="1.61" fill="#221e20" fill-opacity="0.90"/><circle cx="1049.1" cy="440.0" r="1.55" fill="#221e20" fill-opacity="0.90"/><circle cx="824.9" cy="448.0" r="1.45" fill="#312b2d" fill-opacity="0.91"/><circle cx="836.9" cy="458.5" r="1.65" fill="#4a2a42" fill-opacity="0.87"/><circle cx="1055.3" cy="326.2" r="1.02" fill="#2a2527" fill-opacity="0.77"/><circle cx="952.8" cy="292.5" r="1.25" fill="#221e20" fill-opacity="0.75"/><circle cx="1007.3" cy="463.8" r="1.01" fill="#4a2a42" fill-opacity="0.96"/><circle cx="875.9" cy="365.0" r="1.16" fill="#4a2a42" fill-opacity="0.91"/><circle cx="888.3" cy="545.6" r="1.06" fill="#312b2d" fill-opacity="0.96"/><circle cx="1049.5" cy="571.8" r="1.03" fill="#4a2a42" fill-opacity="0.72"/><circle cx="909.7" cy="572.8" r="1.15" fill="#4a2a42" fill-opacity="0.86"/><circle cx="1002.6" cy="369.8" r="1.21" fill="#221e20" fill-opacity="0.71"/><circle cx="824.4" cy="382.8" r="1.47" fill="#2d2729" fill-opacity="0.74"/><circle cx="933.3" cy="503.8" r="1.66" fill="#221e20" fill-opacity="0.74"/><circle cx="1076.7" cy="441.5" r="1.14" fill="#262022" fill-opacity="0.70"/><circle cx="1108.9" cy="411.3" r="1.00" fill="#3a2a36" fill-opacity="0.90"/><circle cx="1115.2" cy="431.6" r="1.45" fill="#2a2527" fill-opacity="0.71"/><circle cx="930.0" cy="299.2" r="1.86" fill="#4a2a42" fill-opacity="0.71"/><circle cx="824.5" cy="448.0" r="1.03" fill="#3a2a36" fill-opacity="0.87"/><circle cx="979.9" cy="581.6" r="1.16" fill="#4a2a42" fill-opacity="0.87"/><circle cx="885.4" cy="543.1" r="1.55" fill="#312b2d" fill-opacity="0.83"/><circle cx="937.6" cy="292.4" r="1.05" fill="#2d2729" fill-opacity="0.91"/><circle cx="1027.8" cy="392.9" r="1.38" fill="#4a2a42" fill-opacity="0.95"/><circle cx="1118.1" cy="469.9" r="1.54" fill="#262022" fill-opacity="0.74"/><circle cx="864.2" cy="446.8" r="1.46" fill="#2a2527" fill-opacity="0.79"/><circle cx="887.0" cy="360.4" r="1.06" fill="#2d2729" fill-opacity="0.92"/><circle cx="1020.3" cy="311.2" r="1.59" fill="#4a2a42" fill-opacity="0.92"/><circle cx="958.8" cy="417.3" r="1.87" fill="#2a2527" fill-opacity="0.96"/><circle cx="1024.7" cy="362.7" r="1.49" fill="#3a2a36" fill-opacity="0.91"/><circle cx="911.1" cy="515.0" r="1.23" fill="#262022" fill-opacity="0.92"/><circle cx="876.1" cy="362.5" r="1.19" fill="#3a2a36" fill-opacity="0.85"/><circle cx="962.8" cy="582.6" r="1.75" fill="#3a2a36" fill-opacity="0.72"/><circle cx="850.6" cy="372.6" r="1.18" fill="#4a2a42" fill-opacity="0.84"/><circle cx="976.1" cy="339.8" r="1.70" fill="#2a2527" fill-opacity="0.88"/><circle cx="975.1" cy="327.3" r="1.05" fill="#262022" fill-opacity="0.93"/><circle cx="1059.8" cy="410.3" r="1.00" fill="#2d2729" fill-opacity="0.94"/><circle cx="867.6" cy="319.5" r="1.34" fill="#262022" fill-opacity="0.98"/><circle cx="916.8" cy="394.1" r="1.04" fill="#2d2729" fill-opacity="0.78"/><circle cx="976.0" cy="458.3" r="1.02" fill="#2a2527" fill-opacity="0.85"/><circle cx="961.8" cy="345.4" r="1.06" fill="#3a2a36" fill-opacity="0.96"/><circle cx="870.7" cy="331.2" r="1.28" fill="#4a2a42" fill-opacity="0.83"/><circle cx="929.9" cy="295.7" r="1.66" fill="#221e20" fill-opacity="0.76"/><circle cx="939.4" cy="493.3" r="1.47" fill="#262022" fill-opacity="0.91"/><circle cx="880.2" cy="498.7" r="1.12" fill="#4a2a42" fill-opacity="0.87"/><circle cx="961.7" cy="399.2" r="1.10" fill="#221e20" fill-opacity="0.96"/><circle cx="871.5" cy="451.3" r="1.14" fill="#4a2a42" fill-opacity="0.71"/><circle cx="1115.5" cy="401.0" r="1.01" fill="#2a2527" fill-opacity="0.73"/><circle cx="930.5" cy="516.9" r="1.96" fill="#3a2a36" fill-opacity="0.91"/><circle cx="833.7" cy="398.4" r="1.42" fill="#4a2a42" fill-opacity="0.97"/><circle cx="944.0" cy="567.2" r="1.39" fill="#312b2d" fill-opacity="0.72"/><circle cx="954.4" cy="436.8" r="1.85" fill="#262022" fill-opacity="0.94"/><circle cx="1039.6" cy="329.3" r="1.71" fill="#312b2d" fill-opacity="0.96"/><circle cx="943.1" cy="485.8" r="1.26" fill="#312b2d" fill-opacity="0.71"/><circle cx="829.2" cy="433.6" r="1.03" fill="#2d2729" fill-opacity="1.00"/><circle cx="876.3" cy="535.7" r="1.06" fill="#2d2729" fill-opacity="0.72"/><circle cx="912.4" cy="336.4" r="1.25" fill="#221e20" fill-opacity="0.73"/><circle cx="1055.4" cy="529.1" r="1.80" fill="#3a2a36" fill-opacity="0.90"/><circle cx="1025.5" cy="567.7" r="1.01" fill="#4a2a42" fill-opacity="0.75"/><circle cx="1107.8" cy="459.1" r="1.00" fill="#221e20" fill-opacity="0.93"/><circle cx="1023.2" cy="524.6" r="1.13" fill="#312b2d" fill-opacity="0.89"/><circle cx="855.9" cy="527.1" r="1.86" fill="#3a2a36" fill-opacity="0.73"/><circle cx="865.3" cy="408.8" r="1.46" fill="#3a2a36" fill-opacity="0.90"/><circle cx="1044.9" cy="336.4" r="1.09" fill="#312b2d" fill-opacity="0.70"/><circle cx="915.5" cy="327.3" r="1.83" fill="#2a2527" fill-opacity="0.90"/><circle cx="977.3" cy="288.9" r="1.12" fill="#3a2a36" fill-opacity="0.90"/><circle cx="959.0" cy="562.6" r="1.32" fill="#4a2a42" fill-opacity="1.00"/><circle cx="1022.1" cy="461.1" r="1.27" fill="#312b2d" fill-opacity="0.93"/><circle cx="1095.5" cy="340.8" r="1.56" fill="#2d2729" fill-opacity="0.79"/><circle cx="856.5" cy="524.7" r="1.43" fill="#221e20" fill-opacity="0.91"/><circle cx="913.5" cy="417.1" r="1.08" fill="#221e20" fill-opacity="0.94"/><circle cx="1045.0" cy="384.0" r="1.41" fill="#2d2729" fill-opacity="0.84"/><circle cx="1104.7" cy="412.1" r="1.85" fill="#2d2729" fill-opacity="0.73"/><circle cx="1058.4" cy="566.3" r="1.65" fill="#2d2729" fill-opacity="0.71"/><circle cx="1053.1" cy="367.5" r="1.02" fill="#312b2d" fill-opacity="0.96"/><circle cx="1071.2" cy="556.9" r="1.51" fill="#262022" fill-opacity="0.86"/><circle cx="838.8" cy="355.9" r="1.04" fill="#312b2d" fill-opacity="0.91"/><circle cx="1099.5" cy="376.3" r="1.13" fill="#312b2d" fill-opacity="0.71"/><circle cx="822.4" cy="459.1" r="1.01" fill="#4a2a42" fill-opacity="0.71"/><circle cx="858.0" cy="534.4" r="1.93" fill="#262022" fill-opacity="0.78"/><circle cx="874.5" cy="499.7" r="1.76" fill="#4a2a42" fill-opacity="0.78"/><circle cx="829.9" cy="417.8" r="1.00" fill="#312b2d" fill-opacity="0.84"/><circle cx="824.9" cy="396.1" r="1.71" fill="#2d2729" fill-opacity="0.84"/><circle cx="850.3" cy="375.3" r="1.33" fill="#262022" fill-opacity="0.81"/><circle cx="1047.0" cy="550.9" r="1.91" fill="#4a2a42" fill-opacity="0.93"/><circle cx="1039.6" cy="384.7" r="1.04" fill="#2a2527" fill-opacity="0.88"/><circle cx="895.0" cy="561.4" r="1.33" fill="#312b2d" fill-opacity="0.83"/><circle cx="1008.7" cy="389.4" r="1.59" fill="#4a2a42" fill-opacity="0.79"/><circle cx="817.0" cy="435.6" r="1.01" fill="#2d2729" fill-opacity="0.81"/><circle cx="1043.5" cy="372.1" r="1.22" fill="#2d2729" fill-opacity="0.74"/><circle cx="1104.3" cy="445.2" r="1.01" fill="#3a2a36" fill-opacity="0.84"/><circle cx="911.7" cy="551.1" r="1.32" fill="#221e20" fill-opacity="0.95"/><circle cx="1013.2" cy="580.9" r="1.22" fill="#2d2729" fill-opacity="0.75"/><circle cx="892.2" cy="391.4" r="1.00" fill="#2d2729" fill-opacity="0.94"/><circle cx="978.7" cy="519.7" r="1.77" fill="#262022" fill-opacity="0.74"/><circle cx="1026.7" cy="474.5" r="1.98" fill="#221e20" fill-opacity="0.74"/><circle cx="1031.4" cy="464.6" r="1.74" fill="#2a2527" fill-opacity="0.94"/><circle cx="970.1" cy="578.0" r="1.33" fill="#2a2527" fill-opacity="0.87"/><circle cx="1116.5" cy="443.1" r="1.02" fill="#2a2527" fill-opacity="0.81"/><circle cx="940.9" cy="428.1" r="1.32" fill="#3a2a36" fill-opacity="0.93"/><circle cx="976.7" cy="403.8" r="1.18" fill="#4a2a42" fill-opacity="0.92"/><circle cx="1077.9" cy="546.9" r="1.11" fill="#4a2a42" fill-opacity="0.86"/><circle cx="850.7" cy="355.7" r="1.41" fill="#221e20" fill-opacity="0.93"/><circle cx="877.0" cy="453.9" r="1.47" fill="#262022" fill-opacity="0.79"/><circle cx="1052.4" cy="323.6" r="1.96" fill="#221e20" fill-opacity="0.92"/><circle cx="962.9" cy="336.1" r="1.10" fill="#2a2527" fill-opacity="0.89"/><circle cx="1105.4" cy="393.9" r="1.09" fill="#312b2d" fill-opacity="0.80"/><circle cx="1027.2" cy="366.0" r="1.86" fill="#312b2d" fill-opacity="0.80"/><circle cx="899.7" cy="470.2" r="1.04" fill="#2a2527" fill-opacity="0.93"/><circle cx="1038.8" cy="457.0" r="1.67" fill="#312b2d" fill-opacity="0.98"/><circle cx="848.4" cy="472.9" r="1.64" fill="#221e20" fill-opacity="0.91"/><circle cx="888.5" cy="308.4" r="1.46" fill="#4a2a42" fill-opacity="0.71"/><circle cx="1042.7" cy="548.1" r="1.01" fill="#312b2d" fill-opacity="0.70"/><circle cx="1042.5" cy="396.1" r="1.21" fill="#312b2d" fill-opacity="0.70"/><circle cx="1059.6" cy="381.1" r="1.03" fill="#262022" fill-opacity="0.78"/><circle cx="972.7" cy="467.8" r="1.75" fill="#2a2527" fill-opacity="0.92"/><circle cx="1065.6" cy="558.2" r="1.05" fill="#221e20" fill-opacity="0.79"/><circle cx="1002.8" cy="334.6" r="1.79" fill="#262022" fill-opacity="0.77"/><circle cx="1029.6" cy="478.1" r="1.27" fill="#262022" fill-opacity="0.78"/><circle cx="1054.2" cy="550.7" r="1.00" fill="#4a2a42" fill-opacity="0.87"/><circle cx="1103.8" cy="426.2" r="1.23" fill="#3a2a36" fill-opacity="0.77"/><circle cx="1035.8" cy="339.7" r="1.00" fill="#2a2527" fill-opacity="0.82"/><circle cx="1013.2" cy="347.5" r="1.23" fill="#262022" fill-opacity="0.88"/><circle cx="947.5" cy="428.6" r="1.03" fill="#221e20" fill-opacity="0.91"/><circle cx="1057.9" cy="468.3" r="1.39" fill="#4a2a42" fill-opacity="0.89"/><circle cx="835.7" cy="492.8" r="1.18" fill="#312b2d" fill-opacity="0.82"/><circle cx="1042.5" cy="462.3" r="1.74" fill="#4a2a42" fill-opacity="0.82"/><circle cx="948.0" cy="564.4" r="1.35" fill="#4a2a42" fill-opacity="0.99"/><circle cx="1031.1" cy="545.5" r="1.35" fill="#4a2a42" fill-opacity="0.80"/><circle cx="823.9" cy="384.2" r="1.12" fill="#262022" fill-opacity="0.96"/><circle cx="839.2" cy="377.4" r="1.00" fill="#262022" fill-opacity="0.76"/><circle cx="899.8" cy="417.1" r="1.16" fill="#262022" fill-opacity="0.86"/><circle cx="944.8" cy="366.0" r="1.50" fill="#312b2d" fill-opacity="0.84"/><circle cx="867.6" cy="397.3" r="1.41" fill="#262022" fill-opacity="0.96"/><circle cx="855.1" cy="461.0" r="1.03" fill="#312b2d" fill-opacity="0.96"/><circle cx="1004.5" cy="577.6" r="1.01" fill="#262022" fill-opacity="0.98"/><circle cx="995.5" cy="495.4" r="1.02" fill="#4a2a42" fill-opacity="0.83"/><circle cx="997.0" cy="568.4" r="1.00" fill="#2a2527" fill-opacity="0.71"/><circle cx="1022.0" cy="556.3" r="1.00" fill="#2a2527" fill-opacity="0.85"/><circle cx="990.7" cy="497.7" r="1.10" fill="#2a2527" fill-opacity="0.88"/><circle cx="1032.5" cy="401.2" r="1.91" fill="#312b2d" fill-opacity="0.86"/><circle cx="890.7" cy="301.0" r="1.14" fill="#312b2d" fill-opacity="0.74"/><circle cx="1071.2" cy="538.6" r="1.03" fill="#262022" fill-opacity="0.93"/><circle cx="895.4" cy="318.4" r="1.01" fill="#2a2527" fill-opacity="0.83"/><circle cx="1103.0" cy="445.7" r="1.05" fill="#3a2a36" fill-opacity="0.87"/><circle cx="822.6" cy="452.7" r="1.85" fill="#221e20" fill-opacity="0.72"/><circle cx="906.8" cy="535.3" r="1.76" fill="#221e20" fill-opacity="0.80"/><circle cx="1053.2" cy="524.0" r="1.44" fill="#4a2a42" fill-opacity="0.89"/><circle cx="921.1" cy="301.2" r="1.88" fill="#221e20" fill-opacity="0.98"/><circle cx="892.6" cy="549.6" r="1.24" fill="#2a2527" fill-opacity="0.86"/><circle cx="995.2" cy="457.4" r="1.46" fill="#3a2a36" fill-opacity="0.79"/><circle cx="1075.7" cy="541.4" r="1.00" fill="#2d2729" fill-opacity="0.94"/><circle cx="850.1" cy="533.9" r="1.62" fill="#312b2d" fill-opacity="0.98"/><circle cx="873.9" cy="554.3" r="1.00" fill="#3a2a36" fill-opacity="0.81"/><circle cx="958.6" cy="576.2" r="1.74" fill="#3a2a36" fill-opacity="0.97"/><circle cx="885.0" cy="450.3" r="1.52" fill="#312b2d" fill-opacity="0.80"/><circle cx="1041.1" cy="298.7" r="1.06" fill="#4a2a42" fill-opacity="0.92"/><circle cx="916.2" cy="398.3" r="1.43" fill="#4a2a42" fill-opacity="0.82"/><circle cx="1084.6" cy="532.9" r="1.52" fill="#262022" fill-opacity="0.80"/><circle cx="876.2" cy="390.5" r="1.16" fill="#3a2a36" fill-opacity="0.74"/><circle cx="1047.2" cy="573.1" r="1.00" fill="#3a2a36" fill-opacity="0.86"/><circle cx="1044.3" cy="305.8" r="1.21" fill="#2a2527" fill-opacity="0.98"/><circle cx="1046.0" cy="483.8" r="1.15" fill="#2d2729" fill-opacity="0.84"/><circle cx="881.2" cy="440.3" r="1.09" fill="#3a2a36" fill-opacity="0.75"/><circle cx="921.4" cy="488.6" r="1.16" fill="#2a2527" fill-opacity="0.92"/><circle cx="1042.7" cy="409.6" r="1.53" fill="#262022" fill-opacity="0.86"/><circle cx="1062.4" cy="310.1" r="1.10" fill="#4a2a42" fill-opacity="0.89"/><circle cx="1102.3" cy="477.7" r="1.37" fill="#262022" fill-opacity="0.84"/><circle cx="1032.3" cy="555.9" r="1.19" fill="#312b2d" fill-opacity="1.00"/><circle cx="989.1" cy="417.4" r="1.02" fill="#262022" fill-opacity="1.00"/><circle cx="957.2" cy="545.3" r="1.06" fill="#3a2a36" fill-opacity="0.83"/><circle cx="1033.1" cy="528.7" r="1.24" fill="#262022" fill-opacity="0.77"/><circle cx="850.5" cy="370.4" r="1.46" fill="#262022" fill-opacity="0.72"/><circle cx="976.0" cy="451.8" r="1.39" fill="#4a2a42" fill-opacity="0.74"/><circle cx="927.2" cy="289.8" r="1.75" fill="#4a2a42" fill-opacity="0.79"/><circle cx="926.4" cy="568.5" r="1.24" fill="#2d2729" fill-opacity="0.82"/><circle cx="911.5" cy="485.8" r="1.30" fill="#2d2729" fill-opacity="0.70"/><circle cx="1042.6" cy="309.7" r="1.41" fill="#4a2a42" fill-opacity="0.71"/><circle cx="941.3" cy="415.4" r="1.03" fill="#312b2d" fill-opacity="0.72"/><circle cx="834.1" cy="435.9" r="1.02" fill="#4a2a42" fill-opacity="0.87"/><circle cx="1003.2" cy="559.2" r="1.79" fill="#3a2a36" fill-opacity="0.73"/><circle cx="1044.0" cy="464.7" r="1.64" fill="#312b2d" fill-opacity="0.79"/><circle cx="874.2" cy="316.6" r="1.05" fill="#221e20" fill-opacity="0.87"/><circle cx="1074.5" cy="441.1" r="1.05" fill="#312b2d" fill-opacity="0.86"/><circle cx="931.1" cy="292.5" r="1.08" fill="#312b2d" fill-opacity="0.78"/><circle cx="905.5" cy="550.7" r="1.72" fill="#221e20" fill-opacity="0.81"/><circle cx="1070.9" cy="443.4" r="1.12" fill="#2a2527" fill-opacity="0.92"/><circle cx="823.4" cy="475.1" r="1.22" fill="#2d2729" fill-opacity="0.81"/><circle cx="898.1" cy="377.2" r="1.10" fill="#312b2d" fill-opacity="0.76"/><circle cx="1044.6" cy="306.7" r="1.54" fill="#2a2527" fill-opacity="0.88"/><circle cx="861.4" cy="499.3" r="1.22" fill="#262022" fill-opacity="0.72"/><circle cx="1069.3" cy="508.4" r="1.54" fill="#312b2d" fill-opacity="0.85"/><circle cx="833.7" cy="459.2" r="1.06" fill="#2a2527" fill-opacity="0.88"/><circle cx="849.2" cy="501.1" r="1.58" fill="#221e20" fill-opacity="0.82"/><circle cx="998.8" cy="368.7" r="1.04" fill="#4a2a42" fill-opacity="0.81"/><circle cx="1106.5" cy="460.2" r="1.04" fill="#312b2d" fill-opacity="0.81"/><circle cx="977.4" cy="394.1" r="1.76" fill="#262022" fill-opacity="0.89"/><circle cx="1084.0" cy="421.6" r="1.30" fill="#3a2a36" fill-opacity="0.84"/><circle cx="1123.1" cy="476.7" r="1.03" fill="#2a2527" fill-opacity="0.89"/><circle cx="867.7" cy="384.9" r="1.44" fill="#312b2d" fill-opacity="0.95"/><circle cx="942.8" cy="404.5" r="1.59" fill="#2d2729" fill-opacity="0.77"/><circle cx="1115.4" cy="372.0" r="1.00" fill="#262022" fill-opacity="0.83"/><circle cx="1028.6" cy="385.5" r="1.92" fill="#262022" fill-opacity="0.91"/><circle cx="918.6" cy="518.7" r="1.08" fill="#3a2a36" fill-opacity="0.93"/><circle cx="835.2" cy="494.3" r="1.30" fill="#312b2d" fill-opacity="0.94"/><circle cx="928.8" cy="328.9" r="1.01" fill="#2d2729" fill-opacity="0.90"/><circle cx="973.7" cy="533.3" r="1.06" fill="#4a2a42" fill-opacity="0.79"/><circle cx="924.0" cy="565.9" r="1.94" fill="#2a2527" fill-opacity="0.94"/><circle cx="902.4" cy="535.1" r="1.59" fill="#4a2a42" fill-opacity="0.74"/><circle cx="937.0" cy="312.7" r="1.22" fill="#262022" fill-opacity="0.90"/><circle cx="1028.6" cy="385.5" r="1.00" fill="#2d2729" fill-opacity="0.77"/><circle cx="946.5" cy="280.3" r="1.39" fill="#262022" fill-opacity="0.99"/><circle cx="1082.4" cy="327.0" r="1.33" fill="#221e20" fill-opacity="0.97"/><circle cx="820.2" cy="472.5" r="1.97" fill="#2d2729" fill-opacity="0.86"/><circle cx="1085.7" cy="355.5" r="1.47" fill="#2d2729" fill-opacity="0.88"/><circle cx="924.8" cy="380.8" r="1.00" fill="#2a2527" fill-opacity="0.86"/><circle cx="997.7" cy="566.4" r="1.48" fill="#2a2527" fill-opacity="0.74"/><circle cx="993.9" cy="390.0" r="1.03" fill="#2d2729" fill-opacity="0.97"/><circle cx="1075.8" cy="342.4" r="1.37" fill="#2d2729" fill-opacity="0.82"/><circle cx="943.9" cy="359.5" r="1.53" fill="#262022" fill-opacity="0.80"/><circle cx="1051.3" cy="353.6" r="1.13" fill="#4a2a42" fill-opacity="0.87"/><circle cx="820.7" cy="474.9" r="1.07" fill="#2d2729" fill-opacity="0.99"/><circle cx="1013.8" cy="392.8" r="1.00" fill="#4a2a42" fill-opacity="0.96"/><circle cx="1033.8" cy="311.3" r="1.21" fill="#2d2729" fill-opacity="0.85"/><circle cx="864.3" cy="405.2" r="1.25" fill="#3a2a36" fill-opacity="0.89"/><circle cx="1038.0" cy="432.0" r="1.31" fill="#312b2d" fill-opacity="0.78"/><circle cx="942.6" cy="420.9" r="1.76" fill="#4a2a42" fill-opacity="0.93"/><circle cx="861.7" cy="496.3" r="1.22" fill="#2a2527" fill-opacity="0.76"/><circle cx="869.3" cy="340.0" r="1.27" fill="#2d2729" fill-opacity="0.89"/><circle cx="979.0" cy="574.9" r="1.00" fill="#2d2729" fill-opacity="0.98"/><circle cx="851.6" cy="430.8" r="1.92" fill="#221e20" fill-opacity="0.85"/><circle cx="902.2" cy="562.4" r="1.05" fill="#3a2a36" fill-opacity="0.81"/><circle cx="1043.0" cy="421.0" r="1.03" fill="#262022" fill-opacity="0.86"/><circle cx="938.0" cy="457.3" r="1.02" fill="#4a2a42" fill-opacity="0.91"/><circle cx="1026.8" cy="578.6" r="1.85" fill="#2a2527" fill-opacity="0.91"/><circle cx="819.8" cy="454.0" r="1.39" fill="#312b2d" fill-opacity="0.98"/><circle cx="1018.9" cy="460.5" r="1.57" fill="#262022" fill-opacity="0.77"/><circle cx="934.7" cy="367.4" r="1.67" fill="#262022" fill-opacity="0.94"/><circle cx="1066.5" cy="397.0" r="1.13" fill="#3a2a36" fill-opacity="0.77"/><circle cx="1071.5" cy="533.4" r="1.88" fill="#2a2527" fill-opacity="0.74"/><circle cx="946.9" cy="584.9" r="1.12" fill="#4a2a42" fill-opacity="0.99"/><circle cx="855.2" cy="494.5" r="1.30" fill="#262022" fill-opacity="0.83"/><circle cx="1016.1" cy="530.7" r="1.05" fill="#2a2527" fill-opacity="0.81"/><circle cx="960.3" cy="514.1" r="1.92" fill="#4a2a42" fill-opacity="0.73"/><circle cx="883.8" cy="488.9" r="1.04" fill="#2a2527" fill-opacity="0.87"/><circle cx="1039.2" cy="293.4" r="1.46" fill="#3a2a36" fill-opacity="0.95"/><circle cx="891.4" cy="313.4" r="1.01" fill="#312b2d" fill-opacity="0.98"/><circle cx="838.9" cy="361.0" r="1.01" fill="#262022" fill-opacity="0.73"/><circle cx="1060.4" cy="409.4" r="1.02" fill="#221e20" fill-opacity="0.96"/><circle cx="1034.8" cy="389.6" r="1.78" fill="#4a2a42" fill-opacity="0.82"/><circle cx="941.0" cy="490.3" r="1.20" fill="#221e20" fill-opacity="0.84"/><circle cx="1120.0" cy="460.5" r="1.63" fill="#3a2a36" fill-opacity="0.85"/><circle cx="980.4" cy="459.4" r="1.95" fill="#4a2a42" fill-opacity="0.72"/><circle cx="836.9" cy="368.6" r="1.27" fill="#2a2527" fill-opacity="0.73"/><circle cx="833.1" cy="382.3" r="1.76" fill="#3a2a36" fill-opacity="0.83"/><circle cx="1075.6" cy="339.2" r="1.50" fill="#2a2527" fill-opacity="0.76"/><circle cx="957.8" cy="490.4" r="1.58" fill="#312b2d" fill-opacity="0.98"/><circle cx="1101.7" cy="510.3" r="1.18" fill="#262022" fill-opacity="0.91"/><circle cx="1040.7" cy="312.0" r="1.02" fill="#2d2729" fill-opacity="0.82"/><circle cx="1095.5" cy="372.5" r="1.06" fill="#4a2a42" fill-opacity="0.71"/><circle cx="1005.9" cy="359.4" r="1.30" fill="#2a2527" fill-opacity="0.89"/><circle cx="828.1" cy="485.2" r="1.19" fill="#2a2527" fill-opacity="0.94"/><circle cx="914.6" cy="545.1" r="1.84" fill="#3a2a36" fill-opacity="0.77"/><circle cx="895.5" cy="543.1" r="1.19" fill="#3a2a36" fill-opacity="0.96"/><circle cx="958.0" cy="278.8" r="1.55" fill="#2d2729" fill-opacity="0.84"/><circle cx="1006.9" cy="292.8" r="1.14" fill="#262022" fill-opacity="0.87"/><circle cx="830.9" cy="423.4" r="1.26" fill="#3a2a36" fill-opacity="0.87"/><circle cx="1109.6" cy="455.8" r="1.62" fill="#4a2a42" fill-opacity="0.81"/><circle cx="955.3" cy="380.0" r="1.51" fill="#4a2a42" fill-opacity="0.77"/><circle cx="827.0" cy="464.4" r="1.49" fill="#4a2a42" fill-opacity="0.90"/><circle cx="950.6" cy="554.4" r="1.90" fill="#2a2527" fill-opacity="0.75"/><circle cx="952.4" cy="478.8" r="1.01" fill="#2a2527" fill-opacity="0.83"/><circle cx="1080.9" cy="392.1" r="1.11" fill="#2d2729" fill-opacity="0.98"/><circle cx="967.6" cy="544.4" r="1.00" fill="#3a2a36" fill-opacity="0.99"/><circle cx="907.7" cy="487.1" r="1.47" fill="#3a2a36" fill-opacity="0.76"/><circle cx="829.2" cy="370.7" r="1.46" fill="#2a2527" fill-opacity="1.00"/><circle cx="900.0" cy="458.0" r="1.01" fill="#2d2729" fill-opacity="0.88"/><circle cx="966.2" cy="525.8" r="1.04" fill="#312b2d" fill-opacity="0.76"/><circle cx="1054.5" cy="567.6" r="1.06" fill="#2d2729" fill-opacity="0.84"/><circle cx="993.6" cy="472.4" r="1.00" fill="#3a2a36" fill-opacity="0.98"/><circle cx="1042.4" cy="513.5" r="1.03" fill="#262022" fill-opacity="0.86"/><circle cx="1081.7" cy="353.7" r="1.36" fill="#2d2729" fill-opacity="0.86"/></g>
<ellipse cx="972.0" cy="435.3" rx="161.5" ry="162.0" fill="none" stroke="#141514" stroke-width="3.2"/>
</g>
<rect x="807.2" y="248.8" width="367.8" height="356.2" fill="none" stroke="#1c1c1c" stroke-width="3.6"/>
<g clip-path="url(#clipw3)">
<rect x="1184.4" y="246.1" width="369.1" height="360.5" fill="#9a9b96"/>
<rect x="1184.4" y="246.1" width="369.1" height="360.5" filter="url(#grainD)"/>
<rect x="1184.4" y="246.1" width="369.1" height="360.5" filter="url(#grainL)"/>
<circle cx="1573.5" cy="198.1" r="90" fill="none" stroke="#151515" stroke-width="5.5"/>
<circle cx="1573.5" cy="681.6" r="105" fill="none" stroke="#151515" stroke-width="5.5"/>
<circle cx="1139.4" cy="211.1" r="75" fill="none" stroke="#151515" stroke-width="6"/>
<circle cx="1122.4" cy="648.6" r="72" fill="none" stroke="#151515" stroke-width="6"/>
<polygon points="1501.2,262.4 1517.2,277.7 1496.1,285.4" fill="#cdcecb" stroke="#6c6d6a" stroke-width="0.8"/>
<path d="M1526.5,249.1 v7 a4.5,4.5 0 0 0 9,0 v-7" fill="#c9cac6" stroke="#3a3a3a" stroke-width="1.2"/>
<circle cx="1347.5" cy="436.0" r="200.0" fill="url(#ringg3)"/>
<circle cx="1347.5" cy="436.0" r="200.0" fill="none" stroke="#121312" stroke-width="5.5"/>
<ellipse cx="1349.5" cy="434.2" rx="160.5" ry="162.5" fill="#c9c9c6"/>
<g clip-path="url(#clipd3)"><rect x="1189.0" y="271.7" width="321.0" height="325.0" filter="url(#grainL)" opacity="0.25"/><rect x="1189.0" y="271.7" width="321.0" height="325.0" filter="url(#grainD)" opacity="0.15"/></g>
<g filter="url(#soft)"><circle cx="1343.7" cy="285.7" r="1.28" fill="#312b2d" fill-opacity="0.89"/><circle cx="1362.9" cy="433.2" r="1.78" fill="#2a2527" fill-opacity="0.97"/><circle cx="1393.1" cy="302.1" r="1.12" fill="#312b2d" fill-opacity="0.72"/><circle cx="1475.3" cy="479.8" r="1.08" fill="#312b2d" fill-opacity="0.79"/><circle cx="1477.6" cy="508.4" r="1.61" fill="#4a2a42" fill-opacity="0.74"/><circle cx="1400.8" cy="491.4" r="1.15" fill="#2a2527" fill-opacity="0.94"/><circle cx="1335.1" cy="289.4" r="1.07" fill="#312b2d" fill-opacity="0.75"/><circle cx="1482.5" cy="352.4" r="1.34" fill="#2d2729" fill-opacity="0.89"/><circle cx="1265.8" cy="389.6" r="1.04" fill="#262022" fill-opacity="0.76"/><circle cx="1377.1" cy="495.4" r="1.03" fill="#312b2d" fill-opacity="0.85"/><circle cx="1304.0" cy="399.2" r="1.14" fill="#221e20" fill-opacity="0.90"/><circle cx="1485.3" cy="471.2" r="1.02" fill="#2a2527" fill-opacity="0.71"/><circle cx="1464.4" cy="421.1" r="1.90" fill="#2d2729" fill-opacity="0.72"/><circle cx="1262.9" cy="319.6" r="1.74" fill="#3a2a36" fill-opacity="0.99"/><circle cx="1251.6" cy="399.9" r="1.19" fill="#262022" fill-opacity="0.79"/><circle cx="1205.2" cy="479.5" r="1.84" fill="#221e20" fill-opacity="0.96"/><circle cx="1441.8" cy="445.9" r="1.47" fill="#262022" fill-opacity="0.96"/><circle cx="1267.4" cy="540.2" r="1.20" fill="#3a2a36" fill-opacity="0.78"/><circle cx="1363.3" cy="498.6" r="1.18" fill="#262022" fill-opacity="0.71"/><circle cx="1330.2" cy="292.9" r="1.68" fill="#262022" fill-opacity="0.86"/><circle cx="1369.1" cy="341.3" r="1.89" fill="#4a2a42" fill-opacity="0.93"/><circle cx="1236.6" cy="325.7" r="1.79" fill="#2a2527" fill-opacity="0.81"/><circle cx="1363.4" cy="495.9" r="1.52" fill="#2d2729" fill-opacity="0.82"/><circle cx="1433.8" cy="428.8" r="1.02" fill="#2a2527" fill-opacity="0.86"/><circle cx="1271.0" cy="455.7" r="1.00" fill="#3a2a36" fill-opacity="0.75"/><circle cx="1299.0" cy="476.8" r="1.07" fill="#4a2a42" fill-opacity="0.76"/><circle cx="1200.1" cy="470.3" r="1.23" fill="#221e20" fill-opacity="0.93"/><circle cx="1275.5" cy="408.4" r="1.12" fill="#221e20" fill-opacity="0.70"/><circle cx="1308.2" cy="485.6" r="1.29" fill="#4a2a42" fill-opacity="0.83"/><circle cx="1346.2" cy="332.5" r="1.37" fill="#2d2729" fill-opacity="0.96"/><circle cx="1310.7" cy="526.6" r="1.10" fill="#262022" fill-opacity="0.74"/><circle cx="1389.6" cy="337.6" r="1.25" fill="#312b2d" fill-opacity="0.80"/><circle cx="1215.0" cy="400.2" r="1.10" fill="#262022" fill-opacity="0.87"/><circle cx="1313.3" cy="283.6" r="1.10" fill="#312b2d" fill-opacity="0.81"/><circle cx="1332.4" cy="590.8" r="1.07" fill="#312b2d" fill-opacity="0.97"/><circle cx="1240.1" cy="336.1" r="1.66" fill="#2d2729" fill-opacity="0.77"/><circle cx="1257.3" cy="362.1" r="1.23" fill="#221e20" fill-opacity="0.75"/><circle cx="1352.9" cy="324.8" r="1.45" fill="#221e20" fill-opacity="0.97"/><circle cx="1311.8" cy="587.1" r="1.30" fill="#312b2d" fill-opacity="0.85"/><circle cx="1377.4" cy="358.8" r="1.52" fill="#2a2527" fill-opacity="0.95"/><circle cx="1449.8" cy="528.2" r="1.36" fill="#4a2a42" fill-opacity="0.84"/><circle cx="1224.2" cy="512.4" r="1.23" fill="#262022" fill-opacity="0.80"/><circle cx="1417.3" cy="575.9" r="1.21" fill="#221e20" fill-opacity="0.75"/><circle cx="1450.9" cy="538.6" r="1.19" fill="#221e20" fill-opacity="0.83"/><circle cx="1342.1" cy="589.6" r="1.50" fill="#221e20" fill-opacity="0.75"/><circle cx="1407.2" cy="554.6" r="1.53" fill="#312b2d" fill-opacity="0.96"/><circle cx="1357.8" cy="587.0" r="1.83" fill="#2d2729" fill-opacity="0.74"/><circle cx="1445.0" cy="495.4" r="1.34" fill="#2a2527" fill-opacity="0.77"/><circle cx="1275.0" cy="366.9" r="1.36" fill="#2d2729" fill-opacity="0.87"/><circle cx="1325.8" cy="504.7" r="1.05" fill="#262022" fill-opacity="0.92"/><circle cx="1442.7" cy="338.7" r="1.04" fill="#4a2a42" fill-opacity="0.85"/><circle cx="1456.8" cy="432.8" r="1.38" fill="#221e20" fill-opacity="0.94"/><circle cx="1496.9" cy="412.0" r="1.38" fill="#4a2a42" fill-opacity="0.91"/><circle cx="1255.4" cy="505.0" r="1.10" fill="#4a2a42" fill-opacity="0.92"/><circle cx="1363.6" cy="294.2" r="1.54" fill="#3a2a36" fill-opacity="0.91"/><circle cx="1322.7" cy="410.1" r="1.02" fill="#2d2729" fill-opacity="0.99"/><circle cx="1478.5" cy="350.5" r="1.31" fill="#262022" fill-opacity="0.93"/><circle cx="1400.1" cy="511.5" r="1.31" fill="#262022" fill-opacity="0.79"/><circle cx="1313.6" cy="386.9" r="1.03" fill="#2a2527" fill-opacity="0.87"/><circle cx="1383.1" cy="571.1" r="1.32" fill="#4a2a42" fill-opacity="0.94"/><circle cx="1482.3" cy="361.9" r="1.00" fill="#4a2a42" fill-opacity="0.81"/><circle cx="1246.5" cy="393.9" r="1.03" fill="#312b2d" fill-opacity="1.00"/><circle cx="1347.0" cy="516.9" r="1.88" fill="#2a2527" fill-opacity="0.74"/><circle cx="1442.1" cy="443.2" r="1.40" fill="#3a2a36" fill-opacity="0.92"/><circle cx="1342.1" cy="317.7" r="1.86" fill="#262022" fill-opacity="0.82"/><circle cx="1462.0" cy="330.6" r="1.69" fill="#262022" fill-opacity="0.85"/><circle cx="1446.0" cy="555.0" r="1.71" fill="#2a2527" fill-opacity="0.91"/><circle cx="1348.5" cy="578.5" r="1.13" fill="#312b2d" fill-opacity="0.90"/><circle cx="1472.8" cy="353.6" r="1.44" fill="#262022" fill-opacity="0.87"/><circle cx="1346.1" cy="416.5" r="1.04" fill="#2d2729" fill-opacity="0.78"/><circle cx="1226.9" cy="425.0" r="1.10" fill="#2d2729" fill-opacity="0.97"/><circle cx="1287.8" cy="367.1" r="1.24" fill="#262022" fill-opacity="0.71"/><circle cx="1412.5" cy="294.3" r="1.02" fill="#262022" fill-opacity="0.71"/><circle cx="1350.6" cy="491.4" r="1.03" fill="#3a2a36" fill-opacity="0.80"/><circle cx="1207.1" cy="433.6" r="1.03" fill="#262022" fill-opacity="0.78"/><circle cx="1369.5" cy="308.8" r="1.18" fill="#312b2d" fill-opacity="0.77"/><circle cx="1435.3" cy="482.3" r="1.11" fill="#2d2729" fill-opacity="0.88"/><circle cx="1262.0" cy="371.3" r="1.60" fill="#221e20" fill-opacity="0.95"/><circle cx="1197.3" cy="437.5" r="1.04" fill="#2d2729" fill-opacity="0.92"/><circle cx="1353.5" cy="287.7" r="1.03" fill="#262022" fill-opacity="0.80"/><circle cx="1375.1" cy="433.7" r="1.06" fill="#4a2a42" fill-opacity="0.87"/><circle cx="1409.6" cy="288.8" r="1.98" fill="#221e20" fill-opacity="0.86"/><circle cx="1267.3" cy="527.5" r="1.91" fill="#312b2d" fill-opacity="0.80"/><circle cx="1489.5" cy="493.0" r="1.20" fill="#312b2d" fill-opacity="0.72"/><circle cx="1390.1" cy="509.8" r="1.42" fill="#4a2a42" fill-opacity="0.71"/><circle cx="1275.1" cy="296.6" r="1.38" fill="#312b2d" fill-opacity="0.84"/><circle cx="1370.1" cy="486.0" r="1.01" fill="#312b2d" fill-opacity="0.83"/><circle cx="1287.4" cy="428.3" r="1.15" fill="#262022" fill-opacity="0.88"/><circle cx="1290.1" cy="288.5" r="1.22" fill="#221e20" fill-opacity="1.00"/><circle cx="1211.6" cy="459.4" r="1.08" fill="#2d2729" fill-opacity="0.91"/><circle cx="1372.1" cy="312.8" r="1.00" fill="#2a2527" fill-opacity="0.81"/><circle cx="1408.5" cy="562.4" r="1.33" fill="#221e20" fill-opacity="0.83"/><circle cx="1241.3" cy="463.0" r="1.08" fill="#221e20" fill-opacity="0.73"/><circle cx="1432.9" cy="327.8" r="1.09" fill="#312b2d" fill-opacity="0.99"/><circle cx="1413.2" cy="335.1" r="1.00" fill="#2d2729" fill-opacity="0.78"/><circle cx="1288.4" cy="424.0" r="1.13" fill="#2d2729" fill-opacity="0.80"/><circle cx="1296.4" cy="529.2" r="1.25" fill="#4a2a42" fill-opacity="0.87"/><circle cx="1277.9" cy="306.0" r="1.41" fill="#3a2a36" fill-opacity="0.75"/><circle cx="1450.1" cy="537.3" r="1.01" fill="#221e20" fill-opacity="0.71"/><circle cx="1487.8" cy="387.4" r="1.03" fill="#312b2d" fill-opacity="0.71"/><circle cx="1377.6" cy="308.9" r="1.18" fill="#2d2729" fill-opacity="0.85"/><circle cx="1209.9" cy="429.5" r="1.20" fill="#2a2527" fill-opacity="0.93"/><circle cx="1200.1" cy="448.1" r="1.31" fill="#2a2527" fill-opacity="0.81"/><circle cx="1473.8" cy="514.8" r="1.06" fill="#312b2d" fill-opacity="0.98"/><circle cx="1391.1" cy="363.7" r="1.05" fill="#2d2729" fill-opacity="0.91"/><circle cx="1262.3" cy="303.7" r="1.00" fill="#262022" fill-opacity="0.93"/><circle cx="1388.0" cy="301.3" r="1.65" fill="#262022" fill-opacity="0.75"/><circle cx="1288.4" cy="431.4" r="1.41" fill="#4a2a42" fill-opacity="0.73"/><circle cx="1238.7" cy="540.3" r="1.88" fill="#262022" fill-opacity="0.75"/><circle cx="1220.4" cy="381.4" r="1.10" fill="#312b2d" fill-opacity="0.73"/><circle cx="1379.0" cy="378.5" r="1.68" fill="#312b2d" fill-opacity="0.82"/><circle cx="1340.8" cy="542.8" r="1.05" fill="#4a2a42" fill-opacity="0.95"/><circle cx="1391.0" cy="580.4" r="1.95" fill="#262022" fill-opacity="0.72"/><circle cx="1249.0" cy="327.1" r="1.91" fill="#262022" fill-opacity="0.89"/><circle cx="1276.2" cy="553.0" r="1.03" fill="#3a2a36" fill-opacity="0.75"/><circle cx="1485.1" cy="378.7" r="1.56" fill="#4a2a42" fill-opacity="0.72"/><circle cx="1449.6" cy="506.8" r="1.58" fill="#2a2527" fill-opacity="0.80"/><circle cx="1327.3" cy="433.6" r="1.01" fill="#4a2a42" fill-opacity="0.97"/><circle cx="1442.0" cy="552.2" r="1.29" fill="#4a2a42" fill-opacity="0.84"/><circle cx="1281.7" cy="453.7" r="1.76" fill="#4a2a42" fill-opacity="0.94"/><circle cx="1252.1" cy="448.3" r="1.14" fill="#3a2a36" fill-opacity="0.72"/><circle cx="1455.7" cy="359.5" r="1.50" fill="#221e20" fill-opacity="0.97"/><circle cx="1218.4" cy="377.6" r="1.06" fill="#3a2a36" fill-opacity="0.71"/><circle cx="1402.0" cy="326.9" r="1.08" fill="#221e20" fill-opacity="0.74"/><circle cx="1258.2" cy="355.2" r="1.00" fill="#4a2a42" fill-opacity="0.88"/><circle cx="1213.4" cy="438.4" r="1.08" fill="#2a2527" fill-opacity="0.71"/><circle cx="1487.8" cy="361.8" r="1.00" fill="#312b2d" fill-opacity="0.79"/><circle cx="1433.1" cy="545.9" r="1.05" fill="#2a2527" fill-opacity="0.89"/><circle cx="1270.3" cy="337.7" r="1.62" fill="#2d2729" fill-opacity="0.96"/><circle cx="1496.7" cy="410.4" r="1.37" fill="#262022" fill-opacity="0.84"/><circle cx="1333.4" cy="305.7" r="1.89" fill="#2a2527" fill-opacity="0.84"/><circle cx="1275.2" cy="469.6" r="1.20" fill="#4a2a42" fill-opacity="0.80"/><circle cx="1504.7" cy="445.3" r="1.04" fill="#221e20" fill-opacity="0.83"/><circle cx="1326.8" cy="285.6" r="1.00" fill="#262022" fill-opacity="0.89"/><circle cx="1340.0" cy="542.9" r="1.84" fill="#262022" fill-opacity="0.99"/><circle cx="1236.2" cy="386.6" r="1.67" fill="#262022" fill-opacity="0.87"/><circle cx="1234.0" cy="453.9" r="1.71" fill="#2d2729" fill-opacity="0.90"/><circle cx="1227.5" cy="478.5" r="1.02" fill="#221e20" fill-opacity="0.88"/><circle cx="1394.4" cy="296.4" r="1.12" fill="#221e20" fill-opacity="0.83"/><circle cx="1357.9" cy="587.3" r="1.93" fill="#221e20" fill-opacity="0.71"/><circle cx="1378.7" cy="285.1" r="1.30" fill="#4a2a42" fill-opacity="0.83"/><circle cx="1214.1" cy="458.5" r="1.96" fill="#2d2729" fill-opacity="0.94"/><circle cx="1232.4" cy="517.2" r="1.08" fill="#4a2a42" fill-opacity="0.89"/><circle cx="1288.5" cy="538.2" r="1.69" fill="#3a2a36" fill-opacity="0.88"/><circle cx="1223.3" cy="365.8" r="1.15" fill="#2d2729" fill-opacity="0.93"/><circle cx="1275.4" cy="431.6" r="1.91" fill="#4a2a42" fill-opacity="0.84"/><circle cx="1300.1" cy="578.7" r="1.35" fill="#262022" fill-opacity="0.71"/><circle cx="1304.0" cy="552.1" r="1.18" fill="#4a2a42" fill-opacity="0.75"/><circle cx="1441.0" cy="328.6" r="1.51" fill="#2a2527" fill-opacity="0.81"/><circle cx="1257.0" cy="474.6" r="1.00" fill="#2a2527" fill-opacity="0.77"/><circle cx="1495.6" cy="475.6" r="1.85" fill="#2d2729" fill-opacity="0.82"/><circle cx="1297.9" cy="303.4" r="1.98" fill="#3a2a36" fill-opacity="0.73"/><circle cx="1303.1" cy="375.5" r="1.74" fill="#2d2729" fill-opacity="0.92"/><circle cx="1323.1" cy="477.9" r="1.25" fill="#2a2527" fill-opacity="0.70"/><circle cx="1335.0" cy="587.7" r="1.02" fill="#312b2d" fill-opacity="0.76"/><circle cx="1246.6" cy="417.2" r="1.83" fill="#3a2a36" fill-opacity="0.80"/><circle cx="1215.9" cy="367.6" r="1.00" fill="#221e20" fill-opacity="0.79"/><circle cx="1456.0" cy="341.4" r="1.08" fill="#4a2a42" fill-opacity="0.86"/><circle cx="1227.0" cy="430.0" r="1.03" fill="#221e20" fill-opacity="0.74"/><circle cx="1363.5" cy="580.1" r="1.16" fill="#4a2a42" fill-opacity="0.77"/><circle cx="1321.0" cy="401.5" r="1.53" fill="#2d2729" fill-opacity="0.97"/><circle cx="1241.1" cy="324.6" r="1.29" fill="#262022" fill-opacity="0.94"/><circle cx="1380.0" cy="392.5" r="1.98" fill="#3a2a36" fill-opacity="0.94"/><circle cx="1277.4" cy="569.4" r="1.63" fill="#2a2527" fill-opacity="0.82"/><circle cx="1485.5" cy="367.4" r="1.31" fill="#312b2d" fill-opacity="0.93"/><circle cx="1330.6" cy="520.4" r="1.19" fill="#221e20" fill-opacity="0.73"/><circle cx="1434.9" cy="422.6" r="1.12" fill="#2d2729" fill-opacity="0.80"/><circle cx="1383.9" cy="501.7" r="1.14" fill="#4a2a42" fill-opacity="0.90"/><circle cx="1246.2" cy="406.1" r="1.21" fill="#3a2a36" fill-opacity="0.76"/><circle cx="1279.1" cy="524.1" r="1.01" fill="#2d2729" fill-opacity="0.78"/><circle cx="1348.0" cy="578.0" r="1.07" fill="#262022" fill-opacity="0.91"/><circle cx="1318.4" cy="583.7" r="1.92" fill="#262022" fill-opacity="0.84"/><circle cx="1409.8" cy="456.0" r="1.72" fill="#262022" fill-opacity="0.96"/><circle cx="1270.9" cy="369.8" r="1.60" fill="#3a2a36" fill-opacity="0.91"/><circle cx="1220.5" cy="493.1" r="1.89" fill="#312b2d" fill-opacity="0.98"/><circle cx="1207.7" cy="487.1" r="1.53" fill="#3a2a36" fill-opacity="0.95"/><circle cx="1413.0" cy="549.8" r="1.15" fill="#221e20" fill-opacity="0.87"/><circle cx="1315.6" cy="411.5" r="1.01" fill="#2a2527" fill-opacity="0.79"/><circle cx="1434.8" cy="330.4" r="1.98" fill="#221e20" fill-opacity="0.78"/><circle cx="1224.9" cy="528.7" r="1.16" fill="#4a2a42" fill-opacity="0.89"/><circle cx="1380.1" cy="342.9" r="1.69" fill="#262022" fill-opacity="0.81"/><circle cx="1232.1" cy="519.5" r="1.07" fill="#2a2527" fill-opacity="0.88"/><circle cx="1413.5" cy="489.9" r="1.01" fill="#262022" fill-opacity="0.92"/><circle cx="1256.2" cy="552.3" r="1.18" fill="#3a2a36" fill-opacity="0.98"/><circle cx="1224.8" cy="351.1" r="1.10" fill="#2d2729" fill-opacity="0.77"/><circle cx="1387.3" cy="425.0" r="1.37" fill="#312b2d" fill-opacity="0.82"/><circle cx="1376.9" cy="562.8" r="1.43" fill="#3a2a36" fill-opacity="0.85"/><circle cx="1205.4" cy="487.9" r="1.07" fill="#2a2527" fill-opacity="0.83"/><circle cx="1486.9" cy="473.5" r="1.51" fill="#262022" fill-opacity="0.98"/><circle cx="1247.9" cy="485.7" r="1.07" fill="#2a2527" fill-opacity="0.72"/><circle cx="1249.9" cy="434.7" r="1.11" fill="#262022" fill-opacity="0.90"/><circle cx="1472.1" cy="528.7" r="1.28" fill="#3a2a36" fill-opacity="0.94"/><circle cx="1466.1" cy="426.9" r="1.06" fill="#221e20" fill-opacity="0.99"/><circle cx="1240.0" cy="432.8" r="1.71" fill="#312b2d" fill-opacity="0.76"/><circle cx="1212.2" cy="462.2" r="1.00" fill="#221e20" fill-opacity="0.87"/><circle cx="1337.1" cy="477.5" r="1.51" fill="#3a2a36" fill-opacity="0.89"/><circle cx="1341.7" cy="486.7" r="1.12" fill="#2d2729" fill-opacity="0.96"/><circle cx="1435.7" cy="561.2" r="1.87" fill="#2a2527" fill-opacity="0.88"/><circle cx="1213.0" cy="426.2" r="1.18" fill="#2a2527" fill-opacity="0.89"/><circle cx="1379.5" cy="576.6" r="1.14" fill="#312b2d" fill-opacity="0.77"/><circle cx="1333.7" cy="312.0" r="1.00" fill="#262022" fill-opacity="0.94"/><circle cx="1379.3" cy="453.5" r="1.84" fill="#221e20" fill-opacity="0.76"/><circle cx="1407.2" cy="297.1" r="1.11" fill="#312b2d" fill-opacity="1.00"/><circle cx="1493.7" cy="454.2" r="1.44" fill="#312b2d" fill-opacity="0.96"/><circle cx="1195.1" cy="450.3" r="1.85" fill="#2d2729" fill-opacity="0.74"/><circle cx="1256.3" cy="508.9" r="1.25" fill="#312b2d" fill-opacity="0.92"/><circle cx="1222.5" cy="376.5" r="1.14" fill="#3a2a36" fill-opacity="0.85"/><circle cx="1251.2" cy="459.3" r="1.12" fill="#3a2a36" fill-opacity="0.79"/><circle cx="1311.2" cy="575.4" r="1.80" fill="#312b2d" fill-opacity="0.84"/><circle cx="1311.8" cy="281.5" r="1.05" fill="#4a2a42" fill-opacity="0.81"/><circle cx="1479.2" cy="377.0" r="1.21" fill="#262022" fill-opacity="0.82"/><circle cx="1266.7" cy="561.2" r="1.67" fill="#221e20" fill-opacity="0.83"/><circle cx="1380.0" cy="539.5" r="1.57" fill="#2a2527" fill-opacity="0.75"/><circle cx="1360.4" cy="300.3" r="1.68" fill="#2d2729" fill-opacity="0.76"/><circle cx="1445.6" cy="557.2" r="2.00" fill="#2d2729" fill-opacity="0.87"/><circle cx="1329.3" cy="560.8" r="1.10" fill="#312b2d" fill-opacity="0.97"/><circle cx="1365.3" cy="422.4" r="1.06" fill="#312b2d" fill-opacity="0.71"/><circle cx="1369.0" cy="425.1" r="1.52" fill="#2a2527" fill-opacity="0.76"/><circle cx="1236.2" cy="443.9" r="1.70" fill="#3a2a36" fill-opacity="0.78"/><circle cx="1399.6" cy="401.0" r="1.00" fill="#262022" fill-opacity="0.98"/><circle cx="1485.5" cy="458.1" r="1.12" fill="#2d2729" fill-opacity="0.79"/><circle cx="1338.6" cy="496.2" r="1.00" fill="#221e20" fill-opacity="0.77"/><circle cx="1244.0" cy="495.2" r="1.67" fill="#312b2d" fill-opacity="0.76"/><circle cx="1303.3" cy="554.3" r="1.39" fill="#3a2a36" fill-opacity="0.89"/><circle cx="1480.2" cy="405.6" r="1.03" fill="#4a2a42" fill-opacity="0.87"/><circle cx="1387.6" cy="441.8" r="1.01" fill="#221e20" fill-opacity="0.97"/><circle cx="1261.8" cy="315.1" r="1.00" fill="#221e20" fill-opacity="0.99"/><circle cx="1414.6" cy="490.1" r="1.39" fill="#262022" fill-opacity="0.78"/><circle cx="1309.4" cy="560.2" r="1.72" fill="#312b2d" fill-opacity="0.85"/><circle cx="1331.6" cy="278.1" r="1.55" fill="#4a2a42" fill-opacity="0.98"/><circle cx="1361.2" cy="538.8" r="1.11" fill="#312b2d" fill-opacity="0.94"/><circle cx="1300.0" cy="501.6" r="1.08" fill="#221e20" fill-opacity="0.84"/><circle cx="1333.1" cy="323.9" r="1.00" fill="#2d2729" fill-opacity="0.86"/><circle cx="1256.5" cy="483.9" r="1.55" fill="#262022" fill-opacity="0.95"/><circle cx="1293.3" cy="580.4" r="1.55" fill="#2a2527" fill-opacity="0.85"/><circle cx="1401.9" cy="360.3" r="1.55" fill="#262022" fill-opacity="0.83"/><circle cx="1328.7" cy="506.1" r="1.30" fill="#221e20" fill-opacity="0.85"/><circle cx="1293.9" cy="415.8" r="1.32" fill="#4a2a42" fill-opacity="0.86"/><circle cx="1293.9" cy="442.1" r="1.44" fill="#4a2a42" fill-opacity="0.97"/><circle cx="1302.8" cy="407.2" r="1.04" fill="#2d2729" fill-opacity="0.90"/><circle cx="1389.0" cy="514.4" r="1.76" fill="#4a2a42" fill-opacity="0.86"/><circle cx="1412.1" cy="577.2" r="1.70" fill="#2a2527" fill-opacity="0.97"/><circle cx="1205.8" cy="435.0" r="1.08" fill="#2d2729" fill-opacity="0.89"/><circle cx="1265.8" cy="484.4" r="1.31" fill="#2d2729" fill-opacity="0.98"/><circle cx="1325.5" cy="553.1" r="1.71" fill="#262022" fill-opacity="0.92"/><circle cx="1194.3" cy="445.5" r="1.23" fill="#2a2527" fill-opacity="0.88"/><circle cx="1306.4" cy="288.7" r="1.24" fill="#262022" fill-opacity="0.97"/><circle cx="1308.4" cy="414.1" r="1.89" fill="#221e20" fill-opacity="0.88"/><circle cx="1367.3" cy="294.8" r="1.67" fill="#2d2729" fill-opacity="0.89"/><circle cx="1281.0" cy="534.9" r="1.17" fill="#221e20" fill-opacity="0.82"/><circle cx="1413.0" cy="324.9" r="1.51" fill="#4a2a42" fill-opacity="0.99"/><circle cx="1216.7" cy="479.0" r="1.86" fill="#312b2d" fill-opacity="0.88"/><circle cx="1297.5" cy="289.9" r="1.00" fill="#2d2729" fill-opacity="0.82"/><circle cx="1324.6" cy="317.3" r="1.22" fill="#2d2729" fill-opacity="0.72"/><circle cx="1338.0" cy="540.2" r="1.73" fill="#3a2a36" fill-opacity="0.76"/><circle cx="1415.6" cy="409.8" r="1.10" fill="#262022" fill-opacity="0.78"/><circle cx="1370.9" cy="580.9" r="1.00" fill="#3a2a36" fill-opacity="0.82"/><circle cx="1369.9" cy="418.6" r="1.65" fill="#4a2a42" fill-opacity="0.97"/><circle cx="1475.2" cy="467.5" r="1.01" fill="#262022" fill-opacity="0.80"/><circle cx="1227.8" cy="516.2" r="1.15" fill="#3a2a36" fill-opacity="0.80"/><circle cx="1485.8" cy="459.7" r="1.00" fill="#221e20" fill-opacity="0.92"/><circle cx="1445.5" cy="429.2" r="1.97" fill="#262022" fill-opacity="0.89"/><circle cx="1343.8" cy="307.3" r="1.49" fill="#2d2729" fill-opacity="0.91"/><circle cx="1292.6" cy="429.3" r="1.18" fill="#4a2a42" fill-opacity="0.81"/><circle cx="1390.2" cy="301.9" r="1.07" fill="#3a2a36" fill-opacity="0.87"/><circle cx="1396.3" cy="493.0" r="1.38" fill="#4a2a42" fill-opacity="0.94"/><circle cx="1248.0" cy="420.9" r="1.08" fill="#2d2729" fill-opacity="0.89"/><circle cx="1477.4" cy="411.5" r="1.02" fill="#4a2a42" fill-opacity="0.94"/><circle cx="1384.7" cy="432.2" r="1.06" fill="#312b2d" fill-opacity="0.82"/><circle cx="1337.3" cy="281.4" r="1.22" fill="#4a2a42" fill-opacity="0.92"/><circle cx="1247.3" cy="540.0" r="1.99" fill="#262022" fill-opacity="0.83"/><circle cx="1205.5" cy="436.9" r="1.11" fill="#221e20" fill-opacity="0.72"/><circle cx="1303.9" cy="450.1" r="1.04" fill="#221e20" fill-opacity="0.72"/><circle cx="1359.1" cy="332.2" r="1.31" fill="#4a2a42" fill-opacity="0.95"/><circle cx="1403.4" cy="520.1" r="1.00" fill="#2d2729" fill-opacity="0.75"/><circle cx="1491.5" cy="420.7" r="1.08" fill="#262022" fill-opacity="0.80"/><circle cx="1457.0" cy="526.0" r="1.81" fill="#4a2a42" fill-opacity="0.81"/><circle cx="1274.2" cy="381.9" r="1.30" fill="#262022" fill-opacity="0.94"/><circle cx="1422.0" cy="312.3" r="1.00" fill="#312b2d" fill-opacity="0.96"/><circle cx="1415.7" cy="427.7" r="1.68" fill="#2a2527" fill-opacity="0.77"/><circle cx="1298.3" cy="393.7" r="1.38" fill="#221e20" fill-opacity="0.82"/><circle cx="1288.2" cy="404.2" r="1.00" fill="#221e20" fill-opacity="0.83"/><circle cx="1331.7" cy="522.6" r="1.78" fill="#4a2a42" fill-opacity="0.71"/><circle cx="1279.9" cy="293.3" r="1.13" fill="#262022" fill-opacity="0.71"/><circle cx="1393.4" cy="585.4" r="1.12" fill="#4a2a42" fill-opacity="0.85"/><circle cx="1229.0" cy="360.4" r="1.00" fill="#262022" fill-opacity="0.99"/><circle cx="1321.5" cy="448.2" r="1.63" fill="#221e20" fill-opacity="0.80"/><circle cx="1486.5" cy="392.6" r="1.94" fill="#262022" fill-opacity="0.79"/><circle cx="1355.0" cy="276.7" r="1.00" fill="#2a2527" fill-opacity="0.93"/><circle cx="1307.9" cy="571.6" r="1.15" fill="#2d2729" fill-opacity="0.96"/><circle cx="1284.8" cy="487.8" r="1.10" fill="#221e20" fill-opacity="0.81"/><circle cx="1407.7" cy="470.1" r="1.24" fill="#262022" fill-opacity="0.86"/><circle cx="1371.8" cy="393.5" r="1.00" fill="#3a2a36" fill-opacity="0.89"/><circle cx="1370.7" cy="574.8" r="1.09" fill="#262022" fill-opacity="0.83"/><circle cx="1410.4" cy="572.5" r="1.14" fill="#312b2d" fill-opacity="0.74"/><circle cx="1229.5" cy="333.9" r="1.21" fill="#312b2d" fill-opacity="0.89"/><circle cx="1494.4" cy="434.5" r="1.23" fill="#2d2729" fill-opacity="0.79"/><circle cx="1394.9" cy="305.7" r="1.05" fill="#3a2a36" fill-opacity="0.76"/><circle cx="1470.3" cy="369.6" r="1.05" fill="#2a2527" fill-opacity="0.94"/><circle cx="1318.4" cy="470.5" r="1.33" fill="#2d2729" fill-opacity="0.84"/><circle cx="1352.7" cy="290.7" r="1.03" fill="#221e20" fill-opacity="0.71"/><circle cx="1304.6" cy="567.6" r="1.00" fill="#2a2527" fill-opacity="0.99"/><circle cx="1273.8" cy="364.9" r="1.89" fill="#2d2729" fill-opacity="0.80"/><circle cx="1252.6" cy="475.6" r="1.18" fill="#221e20" fill-opacity="0.95"/><circle cx="1488.2" cy="474.7" r="1.44" fill="#2a2527" fill-opacity="0.80"/><circle cx="1476.5" cy="427.4" r="1.00" fill="#221e20" fill-opacity="0.79"/><circle cx="1319.8" cy="522.5" r="1.17" fill="#262022" fill-opacity="0.88"/><circle cx="1298.3" cy="536.1" r="1.08" fill="#2d2729" fill-opacity="0.99"/><circle cx="1269.1" cy="449.3" r="1.00" fill="#262022" fill-opacity="0.93"/><circle cx="1239.4" cy="381.2" r="1.62" fill="#221e20" fill-opacity="0.77"/><circle cx="1335.0" cy="562.1" r="1.01" fill="#2d2729" fill-opacity="0.96"/><circle cx="1402.6" cy="350.5" r="1.85" fill="#4a2a42" fill-opacity="0.93"/><circle cx="1391.8" cy="544.1" r="1.40" fill="#2a2527" fill-opacity="0.86"/><circle cx="1370.9" cy="397.0" r="1.66" fill="#312b2d" fill-opacity="0.92"/><circle cx="1267.1" cy="553.0" r="1.92" fill="#2d2729" fill-opacity="0.95"/><circle cx="1372.0" cy="451.9" r="1.00" fill="#221e20" fill-opacity="0.91"/><circle cx="1327.9" cy="351.5" r="1.00" fill="#3a2a36" fill-opacity="0.93"/><circle cx="1253.4" cy="501.2" r="1.32" fill="#262022" fill-opacity="0.89"/><circle cx="1389.7" cy="286.2" r="1.54" fill="#4a2a42" fill-opacity="0.95"/><circle cx="1256.4" cy="323.3" r="1.13" fill="#2a2527" fill-opacity="0.82"/><circle cx="1459.1" cy="384.8" r="1.33" fill="#312b2d" fill-opacity="0.90"/><circle cx="1407.3" cy="409.8" r="1.64" fill="#4a2a42" fill-opacity="0.84"/><circle cx="1328.6" cy="295.4" r="1.00" fill="#4a2a42" fill-opacity="0.96"/><circle cx="1345.6" cy="559.2" r="1.36" fill="#2d2729" fill-opacity="0.86"/><circle cx="1262.4" cy="325.6" r="1.40" fill="#262022" fill-opacity="0.95"/><circle cx="1232.8" cy="361.6" r="1.20" fill="#221e20" fill-opacity="0.90"/><circle cx="1413.2" cy="419.5" r="1.13" fill="#2d2729" fill-opacity="0.86"/><circle cx="1335.2" cy="356.2" r="1.03" fill="#221e20" fill-opacity="0.87"/><circle cx="1327.4" cy="293.4" r="1.04" fill="#4a2a42" fill-opacity="0.84"/><circle cx="1201.1" cy="392.8" r="1.70" fill="#2a2527" fill-opacity="0.92"/><circle cx="1218.4" cy="368.7" r="1.42" fill="#2d2729" fill-opacity="0.90"/><circle cx="1389.1" cy="286.5" r="1.26" fill="#312b2d" fill-opacity="0.75"/><circle cx="1384.8" cy="315.6" r="1.84" fill="#3a2a36" fill-opacity="0.72"/><circle cx="1426.1" cy="311.4" r="1.48" fill="#4a2a42" fill-opacity="0.91"/><circle cx="1222.1" cy="438.8" r="1.44" fill="#2d2729" fill-opacity="0.86"/><circle cx="1203.5" cy="417.0" r="1.88" fill="#262022" fill-opacity="0.98"/><circle cx="1425.9" cy="334.7" r="1.10" fill="#312b2d" fill-opacity="0.97"/><circle cx="1462.4" cy="363.9" r="1.64" fill="#3a2a36" fill-opacity="0.95"/><circle cx="1490.0" cy="477.4" r="2.00" fill="#221e20" fill-opacity="0.94"/><circle cx="1440.5" cy="536.8" r="1.13" fill="#221e20" fill-opacity="0.98"/><circle cx="1224.5" cy="523.9" r="1.05" fill="#262022" fill-opacity="0.88"/><circle cx="1203.8" cy="386.6" r="1.33" fill="#262022" fill-opacity="0.90"/><circle cx="1234.2" cy="526.4" r="1.00" fill="#2a2527" fill-opacity="0.83"/><circle cx="1287.0" cy="304.2" r="1.67" fill="#221e20" fill-opacity="0.90"/><circle cx="1448.8" cy="453.9" r="1.95" fill="#262022" fill-opacity="0.77"/><circle cx="1229.3" cy="423.5" r="1.62" fill="#2a2527" fill-opacity="0.89"/><circle cx="1500.3" cy="395.4" r="1.53" fill="#312b2d" fill-opacity="0.92"/><circle cx="1270.0" cy="366.7" r="1.68" fill="#221e20" fill-opacity="0.86"/><circle cx="1497.1" cy="484.3" r="1.02" fill="#262022" fill-opacity="0.84"/><circle cx="1346.5" cy="380.5" r="1.04" fill="#4a2a42" fill-opacity="0.93"/><circle cx="1340.7" cy="385.7" r="1.01" fill="#262022" fill-opacity="0.79"/><circle cx="1336.8" cy="584.0" r="1.03" fill="#312b2d" fill-opacity="0.82"/><circle cx="1283.0" cy="306.3" r="1.20" fill="#4a2a42" fill-opacity="0.80"/><circle cx="1479.1" cy="367.5" r="1.18" fill="#3a2a36" fill-opacity="0.79"/><circle cx="1301.7" cy="582.6" r="1.00" fill="#221e20" fill-opacity="0.97"/><circle cx="1393.3" cy="370.3" r="1.65" fill="#312b2d" fill-opacity="0.86"/><circle cx="1364.5" cy="359.6" r="1.09" fill="#262022" fill-opacity="0.90"/><circle cx="1384.5" cy="536.9" r="1.02" fill="#262022" fill-opacity="0.71"/><circle cx="1269.2" cy="497.3" r="1.02" fill="#262022" fill-opacity="0.73"/><circle cx="1447.4" cy="455.1" r="1.22" fill="#2a2527" fill-opacity="0.76"/><circle cx="1369.9" cy="516.2" r="1.10" fill="#2d2729" fill-opacity="0.76"/><circle cx="1391.5" cy="330.1" r="1.56" fill="#312b2d" fill-opacity="0.80"/><circle cx="1293.6" cy="292.3" r="1.95" fill="#2d2729" fill-opacity="0.79"/><circle cx="1197.8" cy="445.9" r="1.37" fill="#221e20" fill-opacity="0.72"/><circle cx="1354.6" cy="295.7" r="1.01" fill="#262022" fill-opacity="0.97"/><circle cx="1357.1" cy="479.3" r="1.97" fill="#3a2a36" fill-opacity="0.87"/><circle cx="1206.3" cy="492.9" r="1.00" fill="#2d2729" fill-opacity="0.85"/><circle cx="1238.8" cy="480.6" r="1.64" fill="#221e20" fill-opacity="0.94"/><circle cx="1296.7" cy="408.6" r="1.46" fill="#262022" fill-opacity="0.86"/><circle cx="1276.2" cy="569.9" r="1.37" fill="#262022" fill-opacity="0.80"/><circle cx="1497.6" cy="456.1" r="1.65" fill="#312b2d" fill-opacity="0.89"/><circle cx="1270.5" cy="474.4" r="1.00" fill="#221e20" fill-opacity="0.71"/><circle cx="1317.7" cy="567.3" r="1.08" fill="#262022" fill-opacity="0.89"/><circle cx="1221.1" cy="492.8" r="1.07" fill="#3a2a36" fill-opacity="0.72"/><circle cx="1302.5" cy="298.0" r="1.39" fill="#2d2729" fill-opacity="0.80"/><circle cx="1454.4" cy="520.0" r="1.08" fill="#3a2a36" fill-opacity="0.99"/><circle cx="1495.1" cy="406.1" r="1.05" fill="#262022" fill-opacity="0.70"/><circle cx="1233.7" cy="536.4" r="1.23" fill="#2d2729" fill-opacity="0.86"/><circle cx="1399.4" cy="474.6" r="1.02" fill="#2d2729" fill-opacity="0.76"/><circle cx="1407.7" cy="377.7" r="1.84" fill="#221e20" fill-opacity="0.88"/><circle cx="1212.7" cy="459.6" r="1.97" fill="#221e20" fill-opacity="0.93"/><circle cx="1199.5" cy="454.4" r="1.06" fill="#2a2527" fill-opacity="0.97"/><circle cx="1484.8" cy="471.7" r="1.35" fill="#4a2a42" fill-opacity="0.90"/><circle cx="1445.7" cy="539.8" r="1.05" fill="#312b2d" fill-opacity="0.81"/><circle cx="1339.6" cy="334.1" r="1.02" fill="#2d2729" fill-opacity="0.71"/><circle cx="1409.1" cy="501.0" r="1.53" fill="#221e20" fill-opacity="0.89"/><circle cx="1323.1" cy="305.4" r="1.88" fill="#4a2a42" fill-opacity="0.99"/><circle cx="1356.7" cy="394.2" r="1.39" fill="#3a2a36" fill-opacity="0.73"/><circle cx="1456.3" cy="539.7" r="1.43" fill="#2a2527" fill-opacity="0.75"/><circle cx="1200.5" cy="443.0" r="1.25" fill="#3a2a36" fill-opacity="0.94"/><circle cx="1310.3" cy="296.3" r="1.02" fill="#4a2a42" fill-opacity="0.94"/><circle cx="1227.5" cy="408.6" r="1.60" fill="#262022" fill-opacity="0.95"/><circle cx="1399.3" cy="287.6" r="1.52" fill="#3a2a36" fill-opacity="0.96"/><circle cx="1365.8" cy="588.4" r="1.18" fill="#221e20" fill-opacity="0.95"/><circle cx="1261.7" cy="323.8" r="1.89" fill="#2d2729" fill-opacity="0.78"/><circle cx="1228.2" cy="523.6" r="1.16" fill="#262022" fill-opacity="0.87"/><circle cx="1236.4" cy="526.8" r="1.00" fill="#221e20" fill-opacity="0.88"/><circle cx="1340.5" cy="511.5" r="1.01" fill="#262022" fill-opacity="0.87"/><circle cx="1346.9" cy="431.0" r="1.25" fill="#262022" fill-opacity="0.87"/><circle cx="1394.7" cy="556.7" r="1.00" fill="#4a2a42" fill-opacity="0.71"/><circle cx="1418.8" cy="297.8" r="1.11" fill="#3a2a36" fill-opacity="0.91"/><circle cx="1489.4" cy="444.0" r="1.08" fill="#2d2729" fill-opacity="0.98"/><circle cx="1193.9" cy="437.9" r="1.50" fill="#312b2d" fill-opacity="0.88"/><circle cx="1312.4" cy="455.3" r="1.10" fill="#3a2a36" fill-opacity="0.90"/><circle cx="1310.4" cy="284.4" r="1.04" fill="#262022" fill-opacity="0.78"/><circle cx="1358.1" cy="312.0" r="1.05" fill="#2a2527" fill-opacity="0.91"/><circle cx="1354.1" cy="287.2" r="1.69" fill="#221e20" fill-opacity="0.82"/><circle cx="1479.3" cy="485.0" r="1.32" fill="#2d2729" fill-opacity="0.85"/><circle cx="1456.7" cy="424.4" r="1.74" fill="#2d2729" fill-opacity="0.89"/><circle cx="1391.5" cy="452.7" r="1.21" fill="#2d2729" fill-opacity="0.93"/><circle cx="1416.7" cy="312.7" r="1.00" fill="#2a2527" fill-opacity="0.78"/><circle cx="1297.8" cy="327.8" r="1.84" fill="#2a2527" fill-opacity="0.83"/><circle cx="1344.8" cy="580.4" r="2.00" fill="#262022" fill-opacity="0.73"/><circle cx="1458.8" cy="405.8" r="1.60" fill="#221e20" fill-opacity="0.93"/><circle cx="1337.1" cy="574.2" r="1.68" fill="#3a2a36" fill-opacity="0.71"/><circle cx="1434.5" cy="565.4" r="1.13" fill="#4a2a42" fill-opacity="0.83"/><circle cx="1418.8" cy="404.2" r="1.00" fill="#2d2729" fill-opacity="0.85"/><circle cx="1341.7" cy="276.8" r="1.00" fill="#221e20" fill-opacity="0.95"/><circle cx="1284.1" cy="395.9" r="1.03" fill="#221e20" fill-opacity="0.92"/><circle cx="1421.7" cy="569.5" r="1.09" fill="#2a2527" fill-opacity="0.88"/><circle cx="1429.4" cy="435.2" r="1.41" fill="#3a2a36" fill-opacity="0.89"/><circle cx="1416.6" cy="576.4" r="1.75" fill="#221e20" fill-opacity="0.83"/><circle cx="1339.6" cy="582.6" r="1.58" fill="#4a2a42" fill-opacity="0.82"/><circle cx="1453.7" cy="320.8" r="1.10" fill="#312b2d" fill-opacity="0.81"/><circle cx="1338.1" cy="447.3" r="1.28" fill="#2d2729" fill-opacity="0.77"/><circle cx="1407.1" cy="310.6" r="1.50" fill="#2d2729" fill-opacity="0.90"/><circle cx="1463.7" cy="360.2" r="1.04" fill="#312b2d" fill-opacity="0.91"/><circle cx="1479.4" cy="438.5" r="1.09" fill="#312b2d" fill-opacity="0.86"/><circle cx="1382.8" cy="302.5" r="1.03" fill="#2d2729" fill-opacity="0.80"/><circle cx="1476.0" cy="342.4" r="1.26" fill="#2a2527" fill-opacity="0.90"/><circle cx="1348.6" cy="346.4" r="1.32" fill="#312b2d" fill-opacity="0.85"/><circle cx="1318.0" cy="583.2" r="1.08" fill="#312b2d" fill-opacity="0.84"/><circle cx="1272.7" cy="335.6" r="1.45" fill="#4a2a42" fill-opacity="0.82"/><circle cx="1207.0" cy="483.2" r="1.35" fill="#262022" fill-opacity="0.75"/><circle cx="1338.1" cy="572.0" r="1.14" fill="#2d2729" fill-opacity="0.73"/><circle cx="1316.3" cy="465.2" r="1.00" fill="#2d2729" fill-opacity="0.91"/><circle cx="1330.0" cy="302.0" r="1.09" fill="#3a2a36" fill-opacity="0.77"/><circle cx="1277.7" cy="436.7" r="1.78" fill="#312b2d" fill-opacity="0.75"/><circle cx="1342.8" cy="512.5" r="1.63" fill="#312b2d" fill-opacity="0.86"/><circle cx="1325.6" cy="575.7" r="1.89" fill="#221e20" fill-opacity="0.76"/><circle cx="1217.0" cy="382.0" r="1.80" fill="#312b2d" fill-opacity="0.88"/><circle cx="1327.3" cy="530.5" r="1.10" fill="#4a2a42" fill-opacity="0.89"/><circle cx="1283.9" cy="328.0" r="1.99" fill="#2d2729" fill-opacity="0.89"/><circle cx="1313.1" cy="538.2" r="1.10" fill="#312b2d" fill-opacity="0.84"/><circle cx="1318.7" cy="506.5" r="1.89" fill="#221e20" fill-opacity="0.96"/><circle cx="1414.7" cy="502.2" r="1.91" fill="#2d2729" fill-opacity="0.88"/><circle cx="1353.6" cy="276.7" r="1.01" fill="#2d2729" fill-opacity="0.74"/><circle cx="1376.3" cy="284.7" r="1.71" fill="#2a2527" fill-opacity="0.71"/><circle cx="1203.7" cy="488.5" r="1.20" fill="#2a2527" fill-opacity="0.87"/><circle cx="1209.7" cy="364.9" r="1.49" fill="#262022" fill-opacity="0.98"/><circle cx="1349.8" cy="276.6" r="2.00" fill="#3a2a36" fill-opacity="0.85"/><circle cx="1451.7" cy="452.0" r="1.75" fill="#2d2729" fill-opacity="0.91"/><circle cx="1384.3" cy="575.6" r="1.52" fill="#312b2d" fill-opacity="0.80"/><circle cx="1235.0" cy="480.9" r="1.19" fill="#2a2527" fill-opacity="0.82"/><circle cx="1405.4" cy="424.8" r="1.42" fill="#2d2729" fill-opacity="0.74"/><circle cx="1254.1" cy="387.3" r="1.08" fill="#2d2729" fill-opacity="0.70"/><circle cx="1343.5" cy="305.1" r="1.11" fill="#221e20" fill-opacity="0.97"/><circle cx="1495.2" cy="443.1" r="1.99" fill="#4a2a42" fill-opacity="0.83"/><circle cx="1399.7" cy="467.3" r="1.11" fill="#262022" fill-opacity="0.72"/><circle cx="1314.2" cy="358.4" r="1.43" fill="#3a2a36" fill-opacity="0.86"/><circle cx="1400.7" cy="568.4" r="1.29" fill="#262022" fill-opacity="0.98"/><circle cx="1212.1" cy="446.0" r="1.32" fill="#2d2729" fill-opacity="1.00"/><circle cx="1497.3" cy="458.2" r="1.01" fill="#2a2527" fill-opacity="0.74"/><circle cx="1432.6" cy="350.9" r="1.26" fill="#262022" fill-opacity="0.98"/><circle cx="1306.7" cy="546.3" r="1.03" fill="#3a2a36" fill-opacity="0.83"/><circle cx="1348.9" cy="536.4" r="1.84" fill="#2a2527" fill-opacity="0.90"/><circle cx="1436.6" cy="403.0" r="1.58" fill="#312b2d" fill-opacity="0.89"/><circle cx="1483.1" cy="465.3" r="1.03" fill="#221e20" fill-opacity="0.94"/><circle cx="1419.6" cy="301.7" r="1.01" fill="#312b2d" fill-opacity="0.73"/><circle cx="1479.7" cy="490.7" r="1.69" fill="#312b2d" fill-opacity="0.90"/><circle cx="1399.1" cy="563.3" r="1.75" fill="#221e20" fill-opacity="0.80"/><circle cx="1328.3" cy="366.3" r="1.97" fill="#221e20" fill-opacity="0.74"/><circle cx="1385.1" cy="546.1" r="1.92" fill="#312b2d" fill-opacity="0.77"/><circle cx="1207.3" cy="476.2" r="1.20" fill="#2a2527" fill-opacity="0.85"/><circle cx="1303.0" cy="362.5" r="1.56" fill="#2a2527" fill-opacity="0.83"/><circle cx="1318.6" cy="287.1" r="1.03" fill="#2d2729" fill-opacity="0.89"/><circle cx="1400.7" cy="445.1" r="1.16" fill="#2a2527" fill-opacity="0.97"/><circle cx="1468.7" cy="365.6" r="1.03" fill="#4a2a42" fill-opacity="0.85"/><circle cx="1223.7" cy="375.7" r="1.10" fill="#2d2729" fill-opacity="0.72"/><circle cx="1497.5" cy="441.4" r="1.00" fill="#262022" fill-opacity="0.99"/><circle cx="1351.4" cy="582.1" r="1.40" fill="#312b2d" fill-opacity="0.91"/><circle cx="1252.2" cy="477.9" r="1.04" fill="#312b2d" fill-opacity="0.95"/><circle cx="1291.3" cy="300.8" r="1.57" fill="#2d2729" fill-opacity="0.89"/><circle cx="1435.5" cy="418.8" r="1.93" fill="#221e20" fill-opacity="0.79"/><circle cx="1364.9" cy="329.6" r="1.59" fill="#2d2729" fill-opacity="0.71"/><circle cx="1194.9" cy="448.5" r="1.34" fill="#312b2d" fill-opacity="0.72"/><circle cx="1390.2" cy="385.1" r="1.90" fill="#262022" fill-opacity="0.93"/><circle cx="1202.4" cy="411.0" r="1.00" fill="#221e20" fill-opacity="0.81"/><circle cx="1411.7" cy="560.4" r="1.90" fill="#2d2729" fill-opacity="0.96"/><circle cx="1312.0" cy="281.2" r="1.51" fill="#221e20" fill-opacity="0.84"/><circle cx="1376.8" cy="364.1" r="1.04" fill="#262022" fill-opacity="0.84"/><circle cx="1251.6" cy="329.9" r="1.41" fill="#312b2d" fill-opacity="0.88"/><circle cx="1485.8" cy="441.5" r="1.16" fill="#312b2d" fill-opacity="0.90"/><circle cx="1488.2" cy="466.4" r="1.50" fill="#3a2a36" fill-opacity="0.82"/><circle cx="1231.0" cy="533.2" r="1.59" fill="#2d2729" fill-opacity="0.82"/><circle cx="1282.5" cy="545.3" r="1.60" fill="#262022" fill-opacity="0.75"/><circle cx="1217.8" cy="469.4" r="1.00" fill="#221e20" fill-opacity="0.97"/><circle cx="1489.9" cy="452.8" r="1.73" fill="#221e20" fill-opacity="0.85"/><circle cx="1339.1" cy="579.9" r="1.00" fill="#221e20" fill-opacity="0.95"/><circle cx="1489.2" cy="471.7" r="1.39" fill="#221e20" fill-opacity="0.92"/><circle cx="1283.9" cy="299.3" r="1.29" fill="#4a2a42" fill-opacity="0.78"/><circle cx="1472.0" cy="468.3" r="1.05" fill="#262022" fill-opacity="0.85"/><circle cx="1429.6" cy="322.4" r="1.41" fill="#3a2a36" fill-opacity="0.94"/><circle cx="1418.2" cy="546.1" r="1.26" fill="#221e20" fill-opacity="0.80"/><circle cx="1386.7" cy="322.3" r="1.16" fill="#262022" fill-opacity="0.70"/><circle cx="1489.2" cy="431.1" r="1.44" fill="#2d2729" fill-opacity="0.88"/><circle cx="1252.3" cy="556.8" r="1.67" fill="#2d2729" fill-opacity="0.99"/><circle cx="1241.6" cy="349.3" r="1.78" fill="#2a2527" fill-opacity="0.74"/><circle cx="1399.0" cy="535.6" r="1.47" fill="#4a2a42" fill-opacity="0.76"/><circle cx="1431.5" cy="300.3" r="1.02" fill="#2a2527" fill-opacity="0.93"/><circle cx="1326.9" cy="519.3" r="1.99" fill="#312b2d" fill-opacity="0.80"/><circle cx="1418.8" cy="318.9" r="1.30" fill="#312b2d" fill-opacity="0.75"/><circle cx="1337.8" cy="368.4" r="1.02" fill="#262022" fill-opacity="0.81"/><circle cx="1234.6" cy="341.7" r="1.20" fill="#4a2a42" fill-opacity="0.96"/><circle cx="1345.7" cy="323.2" r="1.02" fill="#3a2a36" fill-opacity="0.94"/><circle cx="1318.5" cy="281.2" r="1.71" fill="#4a2a42" fill-opacity="0.71"/><circle cx="1388.9" cy="577.0" r="1.33" fill="#221e20" fill-opacity="0.93"/><circle cx="1303.9" cy="434.9" r="1.30" fill="#262022" fill-opacity="0.70"/><circle cx="1280.4" cy="358.3" r="1.16" fill="#2d2729" fill-opacity="0.75"/><circle cx="1442.5" cy="383.3" r="1.10" fill="#262022" fill-opacity="0.84"/><circle cx="1382.1" cy="283.4" r="1.97" fill="#2d2729" fill-opacity="0.72"/><circle cx="1491.5" cy="442.6" r="1.08" fill="#4a2a42" fill-opacity="0.97"/><circle cx="1494.8" cy="450.1" r="1.78" fill="#2a2527" fill-opacity="0.89"/><circle cx="1245.4" cy="545.0" r="1.15" fill="#2a2527" fill-opacity="0.83"/><circle cx="1200.0" cy="420.9" r="1.34" fill="#2a2527" fill-opacity="0.95"/><circle cx="1224.8" cy="365.4" r="1.06" fill="#262022" fill-opacity="0.93"/><circle cx="1370.9" cy="394.3" r="1.09" fill="#2d2729" fill-opacity="0.92"/><circle cx="1275.7" cy="508.8" r="1.14" fill="#2d2729" fill-opacity="1.00"/><circle cx="1460.1" cy="542.0" r="1.03" fill="#3a2a36" fill-opacity="0.72"/><circle cx="1334.4" cy="354.2" r="1.02" fill="#3a2a36" fill-opacity="0.89"/><circle cx="1352.5" cy="567.3" r="1.14" fill="#3a2a36" fill-opacity="0.96"/><circle cx="1459.7" cy="340.2" r="1.37" fill="#262022" fill-opacity="0.84"/><circle cx="1491.9" cy="403.0" r="1.86" fill="#312b2d" fill-opacity="0.89"/><circle cx="1303.6" cy="508.9" r="1.50" fill="#4a2a42" fill-opacity="0.71"/><circle cx="1482.4" cy="507.1" r="1.01" fill="#2a2527" fill-opacity="0.80"/><circle cx="1327.6" cy="494.4" r="1.02" fill="#221e20" fill-opacity="0.90"/><circle cx="1458.2" cy="343.5" r="1.06" fill="#4a2a42" fill-opacity="0.94"/><circle cx="1258.2" cy="325.8" r="1.00" fill="#2a2527" fill-opacity="0.87"/><circle cx="1276.1" cy="403.8" r="1.00" fill="#2a2527" fill-opacity="0.93"/><circle cx="1264.3" cy="364.4" r="1.11" fill="#221e20" fill-opacity="0.89"/><circle cx="1333.7" cy="589.8" r="1.14" fill="#4a2a42" fill-opacity="0.86"/><circle cx="1450.7" cy="497.7" r="1.19" fill="#262022" fill-opacity="0.91"/><circle cx="1240.6" cy="330.0" r="1.00" fill="#2d2729" fill-opacity="0.81"/><circle cx="1363.9" cy="277.3" r="1.02" fill="#312b2d" fill-opacity="0.77"/><circle cx="1232.7" cy="413.7" r="1.47" fill="#312b2d" fill-opacity="0.79"/><circle cx="1419.3" cy="308.6" r="1.00" fill="#3a2a36" fill-opacity="0.73"/><circle cx="1248.8" cy="323.4" r="1.02" fill="#2a2527" fill-opacity="0.82"/><circle cx="1352.3" cy="577.6" r="2.00" fill="#4a2a42" fill-opacity="0.99"/><circle cx="1304.3" cy="422.2" r="1.24" fill="#312b2d" fill-opacity="0.85"/><circle cx="1450.3" cy="488.8" r="1.28" fill="#2a2527" fill-opacity="0.80"/><circle cx="1298.2" cy="325.7" r="1.29" fill="#2d2729" fill-opacity="0.87"/><circle cx="1489.5" cy="391.6" r="1.77" fill="#312b2d" fill-opacity="0.86"/><circle cx="1451.6" cy="470.9" r="1.05" fill="#2d2729" fill-opacity="0.89"/><circle cx="1216.0" cy="467.8" r="1.85" fill="#221e20" fill-opacity="0.98"/><circle cx="1338.7" cy="293.7" r="1.35" fill="#2a2527" fill-opacity="0.98"/><circle cx="1446.1" cy="557.8" r="1.09" fill="#3a2a36" fill-opacity="0.92"/><circle cx="1227.3" cy="349.7" r="1.88" fill="#2d2729" fill-opacity="0.78"/><circle cx="1223.1" cy="518.2" r="1.77" fill="#2d2729" fill-opacity="0.85"/><circle cx="1232.6" cy="352.2" r="1.05" fill="#221e20" fill-opacity="0.71"/><circle cx="1327.9" cy="287.7" r="1.01" fill="#2a2527" fill-opacity="0.80"/><circle cx="1204.2" cy="469.5" r="1.00" fill="#262022" fill-opacity="0.92"/><circle cx="1338.3" cy="287.1" r="1.00" fill="#262022" fill-opacity="0.90"/><circle cx="1436.2" cy="529.0" r="1.01" fill="#4a2a42" fill-opacity="0.92"/><circle cx="1249.0" cy="332.0" r="1.57" fill="#312b2d" fill-opacity="0.71"/><circle cx="1292.1" cy="416.3" r="1.18" fill="#2a2527" fill-opacity="0.99"/><circle cx="1240.4" cy="385.7" r="1.17" fill="#312b2d" fill-opacity="0.78"/><circle cx="1242.3" cy="509.6" r="1.06" fill="#3a2a36" fill-opacity="0.83"/><circle cx="1376.1" cy="363.5" r="1.90" fill="#312b2d" fill-opacity="0.94"/><circle cx="1488.0" cy="406.3" r="1.83" fill="#262022" fill-opacity="0.78"/><circle cx="1306.0" cy="509.0" r="1.09" fill="#4a2a42" fill-opacity="0.73"/><circle cx="1218.1" cy="510.2" r="1.21" fill="#2a2527" fill-opacity="0.93"/><circle cx="1300.9" cy="527.8" r="1.01" fill="#312b2d" fill-opacity="0.92"/><circle cx="1392.4" cy="442.5" r="1.73" fill="#2a2527" fill-opacity="0.78"/><circle cx="1496.2" cy="386.4" r="1.12" fill="#312b2d" fill-opacity="0.81"/><circle cx="1487.4" cy="361.2" r="1.28" fill="#262022" fill-opacity="0.80"/><circle cx="1263.5" cy="536.2" r="1.35" fill="#3a2a36" fill-opacity="0.98"/><circle cx="1402.3" cy="433.2" r="1.76" fill="#312b2d" fill-opacity="0.93"/><circle cx="1300.0" cy="286.6" r="1.64" fill="#4a2a42" fill-opacity="0.71"/><circle cx="1433.3" cy="525.9" r="1.04" fill="#4a2a42" fill-opacity="0.80"/><circle cx="1413.3" cy="295.3" r="1.39" fill="#4a2a42" fill-opacity="0.97"/><circle cx="1371.0" cy="315.7" r="1.23" fill="#2d2729" fill-opacity="0.81"/><circle cx="1389.1" cy="361.4" r="1.07" fill="#4a2a42" fill-opacity="0.72"/><circle cx="1352.5" cy="562.0" r="1.02" fill="#2d2729" fill-opacity="0.96"/><circle cx="1317.3" cy="307.3" r="1.58" fill="#262022" fill-opacity="0.83"/><circle cx="1443.8" cy="467.8" r="1.62" fill="#3a2a36" fill-opacity="0.95"/><circle cx="1279.4" cy="534.0" r="1.37" fill="#2a2527" fill-opacity="0.85"/><circle cx="1246.2" cy="331.3" r="1.29" fill="#262022" fill-opacity="0.78"/><circle cx="1385.1" cy="309.5" r="1.09" fill="#3a2a36" fill-opacity="0.79"/><circle cx="1439.9" cy="455.0" r="1.33" fill="#312b2d" fill-opacity="0.71"/><circle cx="1233.3" cy="520.3" r="1.48" fill="#2d2729" fill-opacity="0.83"/><circle cx="1478.3" cy="389.5" r="1.02" fill="#2a2527" fill-opacity="0.88"/><circle cx="1460.3" cy="534.2" r="1.71" fill="#4a2a42" fill-opacity="0.76"/><circle cx="1356.5" cy="566.4" r="1.58" fill="#312b2d" fill-opacity="0.75"/><circle cx="1252.9" cy="322.3" r="1.01" fill="#2d2729" fill-opacity="0.76"/><circle cx="1387.1" cy="378.6" r="1.01" fill="#221e20" fill-opacity="0.93"/><circle cx="1253.6" cy="469.4" r="1.85" fill="#262022" fill-opacity="0.75"/><circle cx="1253.8" cy="448.7" r="1.42" fill="#2d2729" fill-opacity="0.92"/><circle cx="1386.0" cy="371.9" r="1.38" fill="#221e20" fill-opacity="0.89"/><circle cx="1437.3" cy="535.9" r="1.20" fill="#312b2d" fill-opacity="0.87"/><circle cx="1387.5" cy="388.2" r="1.08" fill="#312b2d" fill-opacity="0.83"/></g>
<ellipse cx="1349.5" cy="434.2" rx="160.5" ry="162.5" fill="none" stroke="#141514" stroke-width="3.2"/>
</g>
<rect x="1186.2" y="247.9" width="365.5" height="356.9" fill="none" stroke="#1c1c1c" stroke-width="3.6"/>
<text x="0.0" y="51.0" font-size="64" text-anchor="start" font-weight="bold" font-style="normal" fill="#231f20" transform="translate(7.3 0) scale(0.91 1)">a</text>
<text x="1670.0" y="51.3" font-size="61" text-anchor="start" font-weight="bold" font-style="normal" fill="#231f20" >b</text>
<text x="7.0" y="795.6" font-size="64" text-anchor="start" font-weight="bold" font-style="normal" fill="#231f20" >c</text>
<text x="1189.0" y="796.5" font-size="64" text-anchor="start" font-weight="bold" font-style="normal" fill="#231f20" >d</text>
<text x="67.5" y="157.2" font-size="42" text-anchor="start" font-weight="normal" font-style="normal" fill="#231f20" >H9 reset t2iLGöY, colony assay</text>
<text x="236.1" y="230.7" font-size="36.6" text-anchor="middle" font-weight="normal" font-style="normal" fill="#231f20" >TAK-733 0.5<tspan font-family="'Liberation Serif', serif">µ</tspan>M</text>
<text x="613.9" y="230.7" font-size="36.6" text-anchor="middle" font-weight="normal" font-style="normal" fill="#231f20" >Refametinib 0.5<tspan font-family="'Liberation Serif', serif">µ</tspan>M</text>
<text x="991.6" y="230.7" font-size="36.6" text-anchor="middle" font-weight="normal" font-style="normal" fill="#231f20" >Cobimetinib 0.5<tspan font-family="'Liberation Serif', serif">µ</tspan>M</text>
<text x="1369.5" y="230.7" font-size="36.6" text-anchor="middle" font-weight="normal" font-style="normal" fill="#231f20" >PD0325901 1<tspan font-family="'Liberation Serif', serif">µ</tspan>M</text>
<text x="1991.2" y="105.6" font-size="41" text-anchor="middle" font-weight="normal" font-style="normal" fill="#050505" >t2iLGöY</text>
<text x="1991.9" y="158.5" font-size="43.5" text-anchor="middle" font-weight="normal" font-style="normal" fill="#050505" >H9 reset cells</text>
<line x1="1832.6" y1="169.9" x2="1832.6" y2="621" stroke="#000" stroke-width="3.4"/>
<line x1="1819.8" y1="619.2" x2="2125" y2="619.2" stroke="#000" stroke-width="3.6"/>
<line x1="1820" y1="171.6" x2="1832.6" y2="171.6" stroke="#000" stroke-width="3.2"/>
<text x="1818.5" y="183.5" font-size="33" text-anchor="end" font-weight="normal" font-style="normal" fill="#050505" >800</text>
<line x1="1820" y1="283.5" x2="1832.6" y2="283.5" stroke="#000" stroke-width="3.2"/>
<text x="1818.5" y="295.4" font-size="33" text-anchor="end" font-weight="normal" font-style="normal" fill="#050505" >600</text>
<line x1="1820" y1="395.4" x2="1832.6" y2="395.4" stroke="#000" stroke-width="3.2"/>
<text x="1818.5" y="407.3" font-size="33" text-anchor="end" font-weight="normal" font-style="normal" fill="#050505" >400</text>
<line x1="1820" y1="507.3" x2="1832.6" y2="507.3" stroke="#000" stroke-width="3.2"/>
<text x="1818.5" y="519.2" font-size="33" text-anchor="end" font-weight="normal" font-style="normal" fill="#050505" >200</text>
<line x1="1820" y1="619.2" x2="1832.6" y2="619.2" stroke="#000" stroke-width="3.2"/>
<text x="1818.5" y="631.1" font-size="33" text-anchor="end" font-weight="normal" font-style="normal" fill="#050505" >0</text>
<rect x="1856.2" y="290.6" width="43.3" height="328.7" fill="#0f904f" stroke="#000" stroke-width="3.5"/>
<rect x="1923.0" y="295.6" width="43.3" height="323.7" fill="#4a8ccb" stroke="#000" stroke-width="3.5"/>
<rect x="1990.2" y="292.1" width="44.0" height="327.1" fill="#159296" stroke="#000" stroke-width="3.5"/>
<rect x="2057.3" y="291.9" width="44.5" height="327.4" fill="#f7961f" stroke="#000" stroke-width="3.5"/>
<line x1="1877.9" y1="619.2" x2="1877.9" y2="632.6" stroke="#000" stroke-width="3.2"/>
<line x1="1945.2" y1="619.2" x2="1945.2" y2="632.6" stroke="#000" stroke-width="3.2"/>
<line x1="2012.3" y1="619.2" x2="2012.3" y2="632.6" stroke="#000" stroke-width="3.2"/>
<line x1="2079.5" y1="619.2" x2="2079.5" y2="632.6" stroke="#000" stroke-width="3.2"/>
<text x="1885.4" y="655.5" font-size="33.6" text-anchor="end" font-weight="normal" font-style="normal" fill="#050505" transform="rotate(-45 1885.4 655.5)">TAK-733</text>
<text x="1952.7" y="655.5" font-size="33.6" text-anchor="end" font-weight="normal" font-style="normal" fill="#050505" transform="rotate(-45 1952.7 655.5)">Refametinib</text>
<text x="2019.8" y="655.5" font-size="33.6" text-anchor="end" font-weight="normal" font-style="normal" fill="#050505" transform="rotate(-45 2019.8 655.5)">Cobimetinib</text>
<text x="2087.0" y="655.5" font-size="33.6" text-anchor="end" font-weight="normal" font-style="normal" fill="#050505" transform="rotate(-45 2087.0 655.5)">PD03</text>
<text x="1735.9" y="390.3" font-size="36" text-anchor="middle" font-weight="normal" font-style="normal" fill="#050505" transform="rotate(-90 1735.9 390.3)">Colony formation</text>
<text x="552.3" y="855.6" font-size="46.8" text-anchor="middle" font-weight="normal" font-style="normal" fill="#231f20" >H9 reset t2iLGöY P5</text>
<text x="551.4" y="912.6" font-size="48.3" text-anchor="middle" font-weight="normal" font-style="normal" fill="#231f20" >qRT-PCR</text>
<text x="351.4" y="984.0" font-size="38.7" text-anchor="middle" font-weight="normal" font-style="italic" fill="#050505" >OCT4</text>
<text x="747.5" y="983.4" font-size="38.7" text-anchor="middle" font-weight="normal" font-style="italic" fill="#050505" >NANOG</text>
<line x1="225.7" y1="1035" x2="225.7" y2="1447.3" stroke="#000" stroke-width="3.5"/>
<line x1="214" y1="1445.5" x2="473" y2="1445.5" stroke="#000" stroke-width="3.8"/>
<line x1="214" y1="1036.8" x2="225.7" y2="1036.8" stroke="#000" stroke-width="3.2"/>
<text x="211.5" y="1046.4" font-size="30" text-anchor="end" font-weight="normal" font-style="normal" fill="#050505" >0.6</text>
<line x1="214" y1="1172.3" x2="225.7" y2="1172.3" stroke="#000" stroke-width="3.2"/>
<text x="211.5" y="1181.9" font-size="30" text-anchor="end" font-weight="normal" font-style="normal" fill="#050505" >0.4</text>
<line x1="214" y1="1307.8" x2="225.7" y2="1307.8" stroke="#000" stroke-width="3.2"/>
<text x="211.5" y="1317.4" font-size="30" text-anchor="end" font-weight="normal" font-style="normal" fill="#050505" >0.2</text>
<text x="211.5" y="1455.9" font-size="30" text-anchor="end" font-weight="normal" font-style="normal" fill="#050505" >0.0</text>
<rect x="244.5" y="1097.2" width="37.2" height="348.3" fill="#10924b"/>
<rect x="301.8" y="1107.7" width="37.6" height="337.8" fill="#10924b"/>
<rect x="359" y="1088.6" width="37.6" height="356.9" fill="#10924b"/>
<rect x="416.5" y="1099.2" width="37.6" height="346.3" fill="#10924b"/>
<line x1="263.2" y1="1445.5" x2="263.2" y2="1458.0" stroke="#000" stroke-width="3.4"/>
<line x1="320.6" y1="1445.5" x2="320.6" y2="1458.0" stroke="#000" stroke-width="3.4"/>
<line x1="378.1" y1="1445.5" x2="378.1" y2="1458.0" stroke="#000" stroke-width="3.4"/>
<line x1="435.0" y1="1445.5" x2="435.0" y2="1458.0" stroke="#000" stroke-width="3.4"/>
<text x="270.9" y="1478.5" font-size="31.7" text-anchor="end" font-weight="normal" font-style="normal" fill="#050505" transform="rotate(-45 270.9 1478.5)">TAK-733</text>
<text x="328.3" y="1478.5" font-size="31.7" text-anchor="end" font-weight="normal" font-style="normal" fill="#050505" transform="rotate(-45 328.3 1478.5)">Refametinib</text>
<text x="385.8" y="1478.5" font-size="31.7" text-anchor="end" font-weight="normal" font-style="normal" fill="#050505" transform="rotate(-45 385.8 1478.5)">Cobimetinib</text>
<text x="442.7" y="1478.5" font-size="31.7" text-anchor="end" font-weight="normal" font-style="normal" fill="#050505" transform="rotate(-45 442.7 1478.5)">PD03</text>
<line x1="622.6" y1="1033.8" x2="622.6" y2="1447.7" stroke="#000" stroke-width="3.5"/>
<line x1="610.6" y1="1445.9" x2="870.4" y2="1445.9" stroke="#000" stroke-width="3.8"/>
<line x1="610.6" y1="1035" x2="622.6" y2="1035" stroke="#000" stroke-width="3.2"/>
<text x="608.5" y="1044.6" font-size="30" text-anchor="end" font-weight="normal" font-style="normal" fill="#050505" >0.15</text>
<line x1="610.6" y1="1171.9" x2="622.6" y2="1171.9" stroke="#000" stroke-width="3.2"/>
<text x="608.5" y="1181.5" font-size="30" text-anchor="end" font-weight="normal" font-style="normal" fill="#050505" >0.10</text>
<line x1="610.6" y1="1308.8" x2="622.6" y2="1308.8" stroke="#000" stroke-width="3.2"/>
<text x="608.5" y="1318.4" font-size="30" text-anchor="end" font-weight="normal" font-style="normal" fill="#050505" >0.05</text>
<text x="608.5" y="1456.0" font-size="30" text-anchor="end" font-weight="normal" font-style="normal" fill="#050505" >0.00</text>
<rect x="641.6" y="1130.3" width="37.2" height="315.6" fill="#283387"/>
<rect x="699" y="1129.8" width="37.2" height="316.1" fill="#283387"/>
<rect x="756.8" y="1106.7" width="37.2" height="339.2" fill="#283387"/>
<rect x="814.2" y="1136.5" width="37.3" height="309.4" fill="#283387"/>
<line x1="660.2" y1="1445.9" x2="660.2" y2="1458.4" stroke="#000" stroke-width="3.4"/>
<line x1="718.0" y1="1445.9" x2="718.0" y2="1458.4" stroke="#000" stroke-width="3.4"/>
<line x1="775.5" y1="1445.9" x2="775.5" y2="1458.4" stroke="#000" stroke-width="3.4"/>
<line x1="832.9" y1="1445.9" x2="832.9" y2="1458.4" stroke="#000" stroke-width="3.4"/>
<text x="667.9" y="1478.5" font-size="31.7" text-anchor="end" font-weight="normal" font-style="normal" fill="#050505" transform="rotate(-45 667.9 1478.5)">TAK-733</text>
<text x="725.7" y="1478.5" font-size="31.7" text-anchor="end" font-weight="normal" font-style="normal" fill="#050505" transform="rotate(-45 725.7 1478.5)">Refametinib</text>
<text x="783.2" y="1478.5" font-size="31.7" text-anchor="end" font-weight="normal" font-style="normal" fill="#050505" transform="rotate(-45 783.2 1478.5)">Cobimetinib</text>
<text x="840.6" y="1478.5" font-size="31.7" text-anchor="end" font-weight="normal" font-style="normal" fill="#050505" transform="rotate(-45 840.6 1478.5)">PD03</text>
<line x1="263.2" y1="1092" x2="263.2" y2="1102" stroke="#000" stroke-width="3.2"/>
<line x1="255.2" y1="1092" x2="271.2" y2="1092" stroke="#000" stroke-width="3.2"/>
<line x1="255.2" y1="1102" x2="271.2" y2="1102" stroke="#000" stroke-width="3.2"/>
<circle cx="256.1" cy="1090.1" r="7.6" fill="#000"/>
<circle cx="271.6" cy="1097.2" r="7.6" fill="#000"/>
<circle cx="263.5" cy="1100.5" r="7.6" fill="#000"/>
<line x1="320.6" y1="1099.5" x2="320.6" y2="1115.2" stroke="#000" stroke-width="3.2"/>
<line x1="310.6" y1="1099.5" x2="330.6" y2="1099.5" stroke="#000" stroke-width="3.2"/>
<line x1="310.6" y1="1115.2" x2="330.6" y2="1115.2" stroke="#000" stroke-width="3.2"/>
<rect x="305.6" y="1091.1" width="15.2" height="15.2" fill="#000"/>
<rect x="319.4" y="1103.9" width="15.2" height="15.2" fill="#000"/>
<rect x="312.4" y="1105.2" width="15.2" height="15.2" fill="#000"/>
<line x1="378" y1="1062" x2="378" y2="1114.7" stroke="#000" stroke-width="3.2"/>
<line x1="367.5" y1="1062" x2="388.5" y2="1062" stroke="#000" stroke-width="3.2"/>
<line x1="367.5" y1="1114.7" x2="388.5" y2="1114.7" stroke="#000" stroke-width="3.2"/>
<polygon points="368.0,1063.1 375.8,1077.1 360.2,1077.1" fill="#000"/>
<polygon points="387.8,1070.1 395.6,1084.1 380.1,1084.1" fill="#000"/>
<polygon points="378.0,1112.1 385.8,1126.1 370.2,1126.1" fill="#000"/>
<line x1="435.2" y1="1090" x2="435.2" y2="1105.5" stroke="#000" stroke-width="3.2"/>
<line x1="424.7" y1="1090" x2="445.7" y2="1090" stroke="#000" stroke-width="3.2"/>
<line x1="424.7" y1="1105.5" x2="445.7" y2="1105.5" stroke="#000" stroke-width="3.2"/>
<polygon points="428.0,1102.4 435.8,1088.4 420.2,1088.4" fill="#000"/>
<polygon points="442.0,1102.4 449.8,1088.4 434.2,1088.4" fill="#000"/>
<polygon points="435.2,1110.4 442.9,1096.4 427.4,1096.4" fill="#000"/>
<line x1="659.8" y1="1101.1" x2="659.8" y2="1160" stroke="#000" stroke-width="3.2"/>
<line x1="649.3" y1="1101.1" x2="670.3" y2="1101.1" stroke="#000" stroke-width="3.2"/>
<line x1="649.3" y1="1160" x2="670.3" y2="1160" stroke="#000" stroke-width="3.2"/>
<circle cx="650.4" cy="1108.2" r="7.6" fill="#000"/>
<circle cx="669.9" cy="1118.5" r="7.6" fill="#000"/>
<circle cx="659.8" cy="1163.4" r="7.6" fill="#000"/>
<line x1="717.5" y1="1122" x2="717.5" y2="1138.5" stroke="#000" stroke-width="3.2"/>
<line x1="707.0" y1="1122" x2="728.0" y2="1122" stroke="#000" stroke-width="3.2"/>
<line x1="707.0" y1="1138.5" x2="728.0" y2="1138.5" stroke="#000" stroke-width="3.2"/>
<rect x="703.4" y="1113.5" width="15.2" height="15.2" fill="#000"/>
<rect x="717.0" y="1118.8" width="15.2" height="15.2" fill="#000"/>
<rect x="709.0" y="1131.1" width="15.2" height="15.2" fill="#000"/>
<line x1="775.1" y1="1081" x2="775.1" y2="1132.4" stroke="#000" stroke-width="3.2"/>
<line x1="764.6" y1="1081" x2="785.6" y2="1081" stroke="#000" stroke-width="3.2"/>
<line x1="764.6" y1="1132.4" x2="785.6" y2="1132.4" stroke="#000" stroke-width="3.2"/>
<polygon points="775.1,1071.6 782.9,1085.6 767.4,1085.6" fill="#000"/>
<polygon points="784.9,1102.1 792.6,1116.1 777.1,1116.1" fill="#000"/>
<polygon points="765.4,1123.6 773.1,1137.6 757.6,1137.6" fill="#000"/>
<line x1="832.1" y1="1124.2" x2="832.1" y2="1147.8" stroke="#000" stroke-width="3.2"/>
<line x1="821.6" y1="1124.2" x2="842.6" y2="1124.2" stroke="#000" stroke-width="3.2"/>
<line x1="821.6" y1="1147.8" x2="842.6" y2="1147.8" stroke="#000" stroke-width="3.2"/>
<polygon points="825.6,1129.9 833.4,1115.9 817.9,1115.9" fill="#000"/>
<polygon points="836.0,1145.9 843.8,1131.9 828.2,1131.9" fill="#000"/>
<polygon points="832.6,1153.9 840.4,1139.9 824.9,1139.9" fill="#000"/>
<text x="145.9" y="1231.9" font-size="35.6" text-anchor="middle" font-weight="normal" font-style="normal" fill="#050505" transform="rotate(-90 145.9 1231.9)">Relative expression</text>
<text x="1615.3" y="941.0" font-size="46.8" text-anchor="middle" font-weight="normal" font-style="normal" fill="#231f20" >H9 reset t2iLGöY</text>
<text x="1615.3" y="996.2" font-size="46.8" text-anchor="middle" font-weight="normal" font-style="normal" fill="#231f20" >growth curve</text>
<line x1="1380.2" y1="1035.8" x2="1380.2" y2="1454" stroke="#000" stroke-width="3.6"/>
<line x1="1373.5" y1="1452.5" x2="1856.2" y2="1452.5" stroke="#000" stroke-width="3.4"/>
<line x1="1373.3" y1="1114.2" x2="1380.2" y2="1114.2" stroke="#000" stroke-width="3.2"/>
<text x="1357.6" y="1119.7" font-size="25.8" text-anchor="end" font-weight="normal" font-style="normal" fill="#2b2b2b" >2*10</text>
<text x="0" y="0" font-size="17.5" fill="#2b2b2b" transform="translate(1358.6 1104.5) scale(1.4 1)">8</text>
<line x1="1373.3" y1="1228.5" x2="1380.2" y2="1228.5" stroke="#000" stroke-width="3.2"/>
<text x="1357.6" y="1234.0" font-size="25.8" text-anchor="end" font-weight="normal" font-style="normal" fill="#2b2b2b" >2*10</text>
<text x="0" y="0" font-size="17.5" fill="#2b2b2b" transform="translate(1358.6 1218.8) scale(1.4 1)">7</text>
<line x1="1373.3" y1="1343.3" x2="1380.2" y2="1343.3" stroke="#000" stroke-width="3.2"/>
<text x="1357.6" y="1352.2" font-size="25.8" text-anchor="end" font-weight="normal" font-style="normal" fill="#2b2b2b" >2*10</text>
<text x="0" y="0" font-size="17.5" fill="#2b2b2b" transform="translate(1358.6 1337.0) scale(1.4 1)">6</text>
<text x="1357.6" y="1453.6" font-size="25.8" text-anchor="end" font-weight="normal" font-style="normal" fill="#2b2b2b" >2*10</text>
<text x="0" y="0" font-size="17.5" fill="#2b2b2b" transform="translate(1358.6 1438.4) scale(1.4 1)">5</text>
<text x="1427.0" y="1488.3" font-size="36" text-anchor="middle" font-weight="normal" font-style="normal" fill="#231f20" >P1</text>
<text x="1528.0" y="1488.3" font-size="36" text-anchor="middle" font-weight="normal" font-style="normal" fill="#231f20" >P3</text>
<text x="1627.0" y="1488.3" font-size="36" text-anchor="middle" font-weight="normal" font-style="normal" fill="#231f20" >P3</text>
<text x="1725.5" y="1488.3" font-size="36" text-anchor="middle" font-weight="normal" font-style="normal" fill="#231f20" >P4</text>
<text x="1824.5" y="1488.3" font-size="36" text-anchor="middle" font-weight="normal" font-style="normal" fill="#231f20" >P5</text>
<text x="1276.5" y="1221.4" font-size="39" text-anchor="middle" font-weight="normal" font-style="normal" fill="#231f20" transform="rotate(-90 1276.5 1221.4)">Cell number</text>
<polyline points="1421.3,1455.0 1501.0,1413.0 1579.5,1344.0 1657.0,1271.5 1738.0,1216.5 1819.5,1141.5" fill="none" stroke="#5b9bd5" stroke-width="4" stroke-linejoin="round"/>
<polyline points="1421.3,1455.0 1501.0,1415.0 1579.5,1343.0 1657.0,1261.5 1738.0,1201.0 1819.5,1136.0" fill="none" stroke="#a5a5a5" stroke-width="4" stroke-linejoin="round"/>
<polyline points="1421.3,1455.0 1501.0,1405.0 1579.5,1334.0 1657.0,1244.0 1738.0,1189.0 1819.5,1131.0" fill="none" stroke="#ed7d31" stroke-width="4" stroke-linejoin="round"/>
<polyline points="1421.3,1455.0 1501.0,1407.5 1579.5,1336.0 1657.0,1247.0 1738.0,1190.0 1819.5,1131.5" fill="none" stroke="#f5c01f" stroke-width="4" stroke-linejoin="round"/>
<line x1="1868.7" y1="1092.9" x2="1970.9" y2="1092.9" stroke="#5b9bd5" stroke-width="3.2" stroke-linecap="round"/>
<text x="1990.3" y="1096.3" font-size="36.8" text-anchor="start" font-weight="normal" font-style="normal" fill="#231f20" >TAK-733</text>
<line x1="1868.7" y1="1142.4" x2="1970.9" y2="1142.4" stroke="#a5a5a5" stroke-width="3.2" stroke-linecap="round"/>
<text x="1990.3" y="1157.7" font-size="36.8" text-anchor="start" font-weight="normal" font-style="normal" fill="#231f20" >Refametinib</text>
<line x1="1865.6" y1="1203.7" x2="1967.8" y2="1203.7" stroke="#ed7d31" stroke-width="3.2" stroke-linecap="round"/>
<text x="1990.3" y="1218.5" font-size="36.8" text-anchor="start" font-weight="normal" font-style="normal" fill="#231f20" >Cobimetinib</text>
<line x1="1865.6" y1="1266.1" x2="1967.8" y2="1266.1" stroke="#f5c01f" stroke-width="3.2" stroke-linecap="round"/>
<text x="1990.3" y="1279.4" font-size="36.8" text-anchor="start" font-weight="normal" font-style="normal" fill="#231f20" >PD0325901</text>
</svg>
</body></html>
